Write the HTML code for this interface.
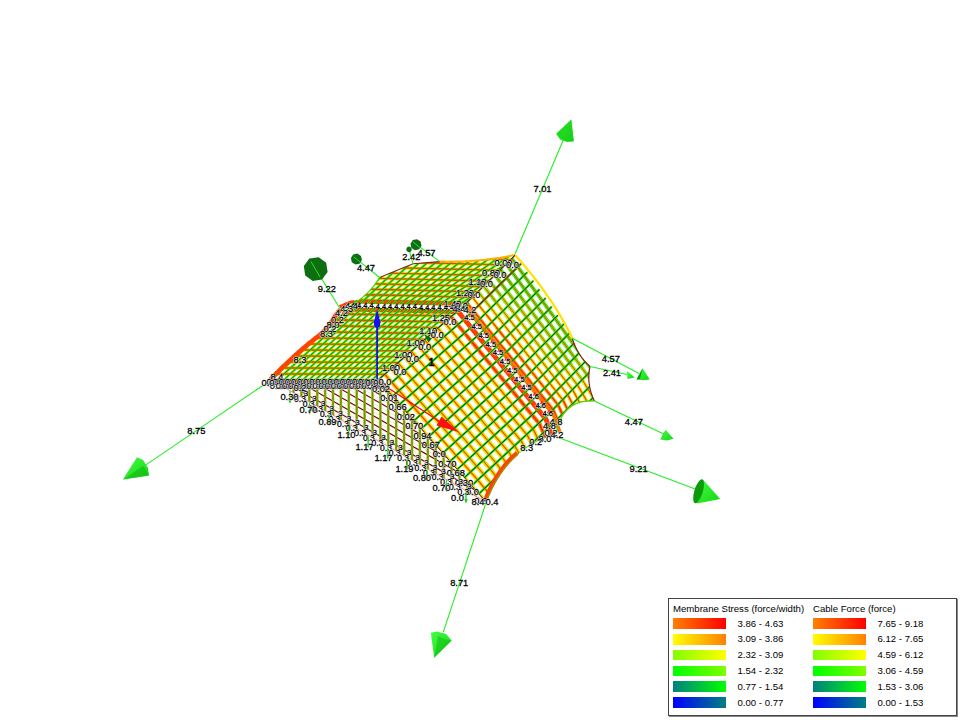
<!DOCTYPE html>
<html><head><meta charset="utf-8"><title>Membrane stress</title>
<style>
html,body{margin:0;padding:0;background:#fff;}
body{width:960px;height:720px;position:relative;overflow:hidden;font-family:"Liberation Sans",sans-serif;}
.leg{position:absolute;left:668px;top:598px;width:287px;height:116px;border:1px solid #444;background:#fff;box-shadow:1px 1px 0 #888;font-size:9.6px;color:#000;}
.leg .t{position:absolute;top:4px;white-space:nowrap;line-height:12px;}
.leg .sw{position:absolute;width:53.5px;height:10.8px;}
.leg .r{position:absolute;white-space:nowrap;line-height:12px;}
</style></head><body>
<svg width="960" height="720" viewBox="0 0 960 720" style="position:absolute;left:0;top:0" font-family="Liberation Sans, sans-serif" font-size="9.3">
<rect width="960" height="720" fill="#fff"/>
<clipPath id="cp2"><polygon points="271.0,380.0 378.0,380.0 461.0,308.0 461.0,308.0 459.5,308.0 457.9,307.9 456.4,307.9 454.9,307.9 453.4,307.8 451.9,307.8 450.3,307.7 448.8,307.7 447.3,307.7 445.8,307.6 444.2,307.6 442.7,307.6 441.2,307.5 439.6,307.5 438.1,307.4 436.6,307.4 435.1,307.4 433.6,307.3 432.0,307.3 430.5,307.2 429.0,307.2 427.4,307.2 425.9,307.1 424.4,307.1 422.9,307.1 421.4,307.0 419.8,307.0 418.3,306.9 416.8,306.9 415.2,306.9 413.7,306.8 412.2,306.8 410.7,306.8 409.1,306.7 407.6,306.7 406.1,306.6 404.6,306.6 403.1,306.6 401.5,306.5 400.0,306.5 398.5,306.5 397.0,306.4 395.5,306.4 394.0,306.4 392.5,306.3 391.0,306.3 389.5,306.3 388.0,306.2 386.5,306.2 385.0,306.2 383.5,306.2 382.0,306.1 380.5,306.1 379.0,306.1 377.5,306.0 376.0,306.0 374.5,306.0 373.0,305.9 371.5,305.9 370.0,305.9 368.5,305.8 367.0,305.8 365.5,305.8 364.0,305.8 362.5,305.7 361.0,305.7 359.5,305.7 358.0,305.6 356.5,305.6 355.0,305.6 353.5,305.5 352.0,305.5 350.4,306.1 348.9,306.8 347.3,307.4 345.7,308.1 344.1,308.7 342.6,309.4 341.0,310.0 341.0,310.0 340.6,310.5 340.1,311.1 339.5,311.9 338.8,312.7 338.0,313.6 337.3,314.5 336.5,315.5 335.8,316.5 335.1,317.5 334.5,318.6 333.8,319.7 333.1,320.9 332.4,322.0 331.6,323.2 330.8,324.4 330.0,325.5 329.1,326.6 328.2,327.7 327.3,328.8 326.3,329.9 325.2,331.0 324.1,332.1 323.0,333.2 321.7,334.4 320.3,335.6 318.8,336.8 317.2,338.1 315.6,339.3 313.9,340.6 312.2,341.9 310.6,343.2 309.0,344.5 307.4,345.8 305.9,347.1 304.4,348.4 302.9,349.7 301.3,351.1 299.8,352.4 298.3,353.8 296.7,355.2 295.1,356.6 293.6,358.0 292.0,359.5 290.4,361.0 288.8,362.4 287.2,363.9 285.6,365.5 284.0,367.0 282.3,368.7 280.5,370.5 278.6,372.4 276.7,374.2 274.9,376.0 273.3,377.6 272.0,379.0 271.0,380.0"/></clipPath>
<g clip-path="url(#cp2)" stroke-linecap="butt">
<polyline points="271.0,380.0 284.8,380.0" fill="none" stroke="#ffe900" stroke-width="3.5" />
<polyline points="271.0,380.0 284.8,380.0" fill="none" stroke="#ff8600" stroke-width="1.47" />
<polyline points="283.9,380.0 298.2,380.0" fill="none" stroke="#ffe600" stroke-width="3.5" />
<polyline points="283.9,380.0 298.2,380.0" fill="none" stroke="#ff8400" stroke-width="1.47" />
<polyline points="297.3,380.0 311.6,380.0" fill="none" stroke="#ffe500" stroke-width="3.5" />
<polyline points="297.3,380.0 311.6,380.0" fill="none" stroke="#ff8300" stroke-width="1.47" />
<polyline points="310.7,380.0 324.9,380.0" fill="none" stroke="#ffe500" stroke-width="3.5" />
<polyline points="310.7,380.0 324.9,380.0" fill="none" stroke="#ff8300" stroke-width="1.47" />
<polyline points="324.1,380.0 338.3,380.0" fill="none" stroke="#ffe800" stroke-width="3.5" />
<polyline points="324.1,380.0 338.3,380.0" fill="none" stroke="#ff8600" stroke-width="1.47" />
<polyline points="337.4,380.0 351.7,380.0" fill="none" stroke="#ffec00" stroke-width="3.5" />
<polyline points="337.4,380.0 351.7,380.0" fill="none" stroke="#ff8a00" stroke-width="1.47" />
<polyline points="350.8,380.0 365.1,380.0" fill="none" stroke="#fbee00" stroke-width="3.5" />
<polyline points="350.8,380.0 365.1,380.0" fill="none" stroke="#ff9100" stroke-width="1.47" />
<polyline points="364.2,380.0 378.0,380.0" fill="none" stroke="#f4ee00" stroke-width="3.5" />
<polyline points="364.2,380.0 378.0,380.0" fill="none" stroke="#ff9900" stroke-width="1.47" />
<polyline points="271.0,380.0 284.4,380.0 297.8,380.0 311.1,380.0 324.5,380.0 337.9,380.0 351.2,380.0 364.6,380.0 378.0,380.0" fill="none" stroke="#f02800" stroke-width="0.7" />
<polyline points="277.5,374.0 291.4,374.0" fill="none" stroke="#ffdb00" stroke-width="3.5" />
<polyline points="277.5,374.0 291.4,374.0" fill="none" stroke="#ff7900" stroke-width="1.47" />
<polyline points="290.5,374.0 304.8,374.0" fill="none" stroke="#ffdb00" stroke-width="3.5" />
<polyline points="290.5,374.0 304.8,374.0" fill="none" stroke="#ff7900" stroke-width="1.47" />
<polyline points="303.9,374.0 318.1,374.1" fill="none" stroke="#ffdd00" stroke-width="3.5" />
<polyline points="303.9,374.0 318.1,374.1" fill="none" stroke="#ff7b00" stroke-width="1.47" />
<polyline points="317.3,374.1 331.5,374.1" fill="none" stroke="#ffe200" stroke-width="3.5" />
<polyline points="317.3,374.1 331.5,374.1" fill="none" stroke="#ff7f00" stroke-width="1.47" />
<polyline points="330.7,374.1 344.9,374.1" fill="none" stroke="#ffe800" stroke-width="3.5" />
<polyline points="330.7,374.1 344.9,374.1" fill="none" stroke="#ff8600" stroke-width="1.47" />
<polyline points="344.1,374.1 358.3,374.1" fill="none" stroke="#feee00" stroke-width="3.5" />
<polyline points="344.1,374.1 358.3,374.1" fill="none" stroke="#ff8e00" stroke-width="1.47" />
<polyline points="357.5,374.1 371.7,374.2" fill="none" stroke="#f7ee00" stroke-width="3.5" />
<polyline points="357.5,374.1 371.7,374.2" fill="none" stroke="#ff9600" stroke-width="1.47" />
<polyline points="370.9,374.2 384.7,374.2" fill="none" stroke="#f0ee00" stroke-width="3.5" />
<polyline points="370.9,374.2 384.7,374.2" fill="none" stroke="#ff9e00" stroke-width="1.47" />
<polyline points="277.5,374.0 290.9,374.0 304.3,374.0 317.7,374.1 331.1,374.1 344.5,374.1 357.9,374.1 371.3,374.2 384.7,374.2" fill="none" stroke="#f02800" stroke-width="0.7" />
<polyline points="284.1,368.0 297.9,368.0" fill="none" stroke="#ffd400" stroke-width="3.5" />
<polyline points="284.1,368.0 297.9,368.0" fill="none" stroke="#ff7200" stroke-width="1.47" />
<polyline points="297.1,368.0 311.3,368.1" fill="none" stroke="#ffd800" stroke-width="3.5" />
<polyline points="297.1,368.0 311.3,368.1" fill="none" stroke="#ff7600" stroke-width="1.47" />
<polyline points="310.5,368.1 324.7,368.1" fill="none" stroke="#ffde00" stroke-width="3.5" />
<polyline points="310.5,368.1 324.7,368.1" fill="none" stroke="#ff7c00" stroke-width="1.47" />
<polyline points="323.9,368.1 338.2,368.2" fill="none" stroke="#ffe500" stroke-width="3.5" />
<polyline points="323.9,368.1 338.2,368.2" fill="none" stroke="#ff8300" stroke-width="1.47" />
<polyline points="337.3,368.2 351.6,368.2" fill="none" stroke="#ffee00" stroke-width="3.5" />
<polyline points="337.3,368.2 351.6,368.2" fill="none" stroke="#ff8b00" stroke-width="1.47" />
<polyline points="350.7,368.2 365.0,368.3" fill="none" stroke="#f9ee00" stroke-width="3.5" />
<polyline points="350.7,368.2 365.0,368.3" fill="none" stroke="#ff9400" stroke-width="1.47" />
<polyline points="364.1,368.3 378.4,368.3" fill="none" stroke="#f2ee00" stroke-width="3.5" />
<polyline points="364.1,368.3 378.4,368.3" fill="none" stroke="#ff9b00" stroke-width="1.47" />
<polyline points="377.5,368.3 391.4,368.4" fill="none" stroke="#edef00" stroke-width="3.5" />
<polyline points="377.5,368.3 391.4,368.4" fill="none" stroke="#ffa100" stroke-width="1.47" />
<polyline points="284.1,368.0 297.5,368.0 310.9,368.1 324.3,368.1 337.7,368.2 351.1,368.2 364.6,368.3 378.0,368.3 391.4,368.4" fill="none" stroke="#f02800" stroke-width="0.7" />
<polyline points="290.6,362.0 304.5,362.0" fill="none" stroke="#ffd500" stroke-width="3.5" />
<polyline points="290.6,362.0 304.5,362.0" fill="none" stroke="#ff7200" stroke-width="1.47" />
<polyline points="303.6,362.0 317.9,362.1" fill="none" stroke="#ffdc00" stroke-width="3.5" />
<polyline points="303.6,362.0 317.9,362.1" fill="none" stroke="#ff7a00" stroke-width="1.47" />
<polyline points="317.0,362.1 331.3,362.2" fill="none" stroke="#ffe400" stroke-width="3.5" />
<polyline points="317.0,362.1 331.3,362.2" fill="none" stroke="#ff8200" stroke-width="1.47" />
<polyline points="330.5,362.2 344.8,362.3" fill="none" stroke="#ffec00" stroke-width="3.5" />
<polyline points="330.5,362.2 344.8,362.3" fill="none" stroke="#ff8a00" stroke-width="1.47" />
<polyline points="343.9,362.3 358.2,362.3" fill="none" stroke="#fbee00" stroke-width="3.5" />
<polyline points="343.9,362.3 358.2,362.3" fill="none" stroke="#ff9100" stroke-width="1.47" />
<polyline points="357.3,362.3 371.6,362.4" fill="none" stroke="#f6ee00" stroke-width="3.5" />
<polyline points="357.3,362.3 371.6,362.4" fill="none" stroke="#ff9700" stroke-width="1.47" />
<polyline points="370.8,362.4 385.1,362.5" fill="none" stroke="#f3ee00" stroke-width="3.5" />
<polyline points="370.8,362.4 385.1,362.5" fill="none" stroke="#ff9b00" stroke-width="1.47" />
<polyline points="384.2,362.5 398.1,362.6" fill="none" stroke="#f1ee00" stroke-width="3.5" />
<polyline points="384.2,362.5 398.1,362.6" fill="none" stroke="#ff9c00" stroke-width="1.47" />
<polyline points="290.6,362.0 304.0,362.0 317.5,362.1 330.9,362.2 344.3,362.3 357.8,362.3 371.2,362.4 384.6,362.5 398.1,362.6" fill="none" stroke="#f02800" stroke-width="0.7" />
<polyline points="297.1,356.0 311.0,356.1" fill="none" stroke="#ffdb00" stroke-width="3.5" />
<polyline points="297.1,356.0 311.0,356.1" fill="none" stroke="#ff7900" stroke-width="1.47" />
<polyline points="310.2,356.1 324.5,356.2" fill="none" stroke="#ffe300" stroke-width="3.5" />
<polyline points="310.2,356.1 324.5,356.2" fill="none" stroke="#ff8100" stroke-width="1.47" />
<polyline points="323.6,356.1 337.9,356.2" fill="none" stroke="#ffea00" stroke-width="3.5" />
<polyline points="323.6,356.1 337.9,356.2" fill="none" stroke="#ff8800" stroke-width="1.47" />
<polyline points="337.1,356.2 351.4,356.3" fill="none" stroke="#feee00" stroke-width="3.5" />
<polyline points="337.1,356.2 351.4,356.3" fill="none" stroke="#ff8d00" stroke-width="1.47" />
<polyline points="350.5,356.3 364.8,356.5" fill="none" stroke="#faee00" stroke-width="3.5" />
<polyline points="350.5,356.3 364.8,356.5" fill="none" stroke="#ff9100" stroke-width="1.47" />
<polyline points="364.0,356.4 378.3,356.6" fill="none" stroke="#f9ee00" stroke-width="3.5" />
<polyline points="364.0,356.4 378.3,356.6" fill="none" stroke="#ff9300" stroke-width="1.47" />
<polyline points="377.4,356.6 391.7,356.7" fill="none" stroke="#faee00" stroke-width="3.5" />
<polyline points="377.4,356.6 391.7,356.7" fill="none" stroke="#ff9200" stroke-width="1.47" />
<polyline points="390.9,356.7 404.8,356.8" fill="none" stroke="#fbee00" stroke-width="3.5" />
<polyline points="390.9,356.7 404.8,356.8" fill="none" stroke="#ff9000" stroke-width="1.47" />
<polyline points="297.1,356.0 310.6,356.1 324.0,356.2 337.5,356.2 351.0,356.3 364.4,356.4 377.9,356.6 391.3,356.7 404.8,356.8" fill="none" stroke="#f02800" stroke-width="0.7" />
<polyline points="303.7,350.0 317.6,350.1" fill="none" stroke="#ffe200" stroke-width="3.5" />
<polyline points="303.7,350.0 317.6,350.1" fill="none" stroke="#ff8000" stroke-width="1.47" />
<polyline points="316.7,350.1 331.0,350.2" fill="none" stroke="#ffe700" stroke-width="3.5" />
<polyline points="316.7,350.1 331.0,350.2" fill="none" stroke="#ff8500" stroke-width="1.47" />
<polyline points="330.2,350.2 344.5,350.3" fill="none" stroke="#ffeb00" stroke-width="3.5" />
<polyline points="330.2,350.2 344.5,350.3" fill="none" stroke="#ff8900" stroke-width="1.47" />
<polyline points="343.7,350.3 358.0,350.4" fill="none" stroke="#ffed00" stroke-width="3.5" />
<polyline points="343.7,350.3 358.0,350.4" fill="none" stroke="#ff8a00" stroke-width="1.47" />
<polyline points="357.1,350.4 371.5,350.6" fill="none" stroke="#ffec00" stroke-width="3.5" />
<polyline points="357.1,350.4 371.5,350.6" fill="none" stroke="#ff8a00" stroke-width="1.47" />
<polyline points="370.6,350.6 384.9,350.7" fill="none" stroke="#ffe900" stroke-width="3.5" />
<polyline points="370.6,350.6 384.9,350.7" fill="none" stroke="#ff8700" stroke-width="1.47" />
<polyline points="384.1,350.7 398.4,350.8" fill="none" stroke="#ffe600" stroke-width="3.5" />
<polyline points="384.1,350.7 398.4,350.8" fill="none" stroke="#ff8400" stroke-width="1.47" />
<polyline points="397.6,350.8 411.5,351.0" fill="none" stroke="#ffe200" stroke-width="3.5" />
<polyline points="397.6,350.8 411.5,351.0" fill="none" stroke="#ff8000" stroke-width="1.47" />
<polyline points="303.7,350.0 317.1,350.1 330.6,350.2 344.1,350.3 357.6,350.4 371.0,350.6 384.5,350.7 398.0,350.8 411.5,351.0" fill="none" stroke="#f02800" stroke-width="0.7" />
<polyline points="310.2,344.0 324.1,344.1" fill="none" stroke="#ffe400" stroke-width="3.5" />
<polyline points="310.2,344.0 324.1,344.1" fill="none" stroke="#ff8100" stroke-width="1.47" />
<polyline points="323.3,344.1 337.6,344.2" fill="none" stroke="#ffe500" stroke-width="3.5" />
<polyline points="323.3,344.1 337.6,344.2" fill="none" stroke="#ff8300" stroke-width="1.47" />
<polyline points="336.8,344.2 351.1,344.4" fill="none" stroke="#ffe400" stroke-width="3.5" />
<polyline points="336.8,344.2 351.1,344.4" fill="none" stroke="#ff8200" stroke-width="1.47" />
<polyline points="350.3,344.4 364.6,344.5" fill="none" stroke="#ffe200" stroke-width="3.5" />
<polyline points="350.3,344.4 364.6,344.5" fill="none" stroke="#ff7f00" stroke-width="1.47" />
<polyline points="363.7,344.5 378.1,344.7" fill="none" stroke="#ffde00" stroke-width="3.5" />
<polyline points="363.7,344.5 378.1,344.7" fill="none" stroke="#ff7c00" stroke-width="1.47" />
<polyline points="377.2,344.7 391.6,344.8" fill="none" stroke="#ffda00" stroke-width="3.5" />
<polyline points="377.2,344.7 391.6,344.8" fill="none" stroke="#ff7700" stroke-width="1.47" />
<polyline points="390.7,344.8 405.1,345.0" fill="none" stroke="#ffd500" stroke-width="3.5" />
<polyline points="390.7,344.8 405.1,345.0" fill="none" stroke="#ff7300" stroke-width="1.47" />
<polyline points="404.2,345.0 418.2,345.2" fill="none" stroke="#ffd300" stroke-width="3.5" />
<polyline points="404.2,345.0 418.2,345.2" fill="none" stroke="#ff7000" stroke-width="1.47" />
<polyline points="310.2,344.0 323.7,344.1 337.2,344.2 350.7,344.4 364.2,344.5 377.7,344.7 391.2,344.8 404.7,345.0 418.2,345.2" fill="none" stroke="#f02800" stroke-width="0.7" />
<polyline points="316.7,337.9 330.7,338.1" fill="none" stroke="#ffdd00" stroke-width="3.5" />
<polyline points="316.7,337.9 330.7,338.1" fill="none" stroke="#ff7b00" stroke-width="1.47" />
<polyline points="329.8,338.1 344.2,338.3" fill="none" stroke="#ffdb00" stroke-width="3.5" />
<polyline points="329.8,338.1 344.2,338.3" fill="none" stroke="#ff7800" stroke-width="1.47" />
<polyline points="343.3,338.3 357.7,338.4" fill="none" stroke="#ffd700" stroke-width="3.5" />
<polyline points="343.3,338.3 357.7,338.4" fill="none" stroke="#ff7400" stroke-width="1.47" />
<polyline points="356.8,338.4 371.2,338.6" fill="none" stroke="#ffd200" stroke-width="3.5" />
<polyline points="356.8,338.4 371.2,338.6" fill="none" stroke="#ff7000" stroke-width="1.47" />
<polyline points="370.4,338.6 384.7,338.8" fill="none" stroke="#ffce00" stroke-width="3.5" />
<polyline points="370.4,338.6 384.7,338.8" fill="none" stroke="#ff6b00" stroke-width="1.47" />
<polyline points="383.9,338.8 398.3,339.0" fill="none" stroke="#ffcb00" stroke-width="3.5" />
<polyline points="383.9,338.8 398.3,339.0" fill="none" stroke="#ff6800" stroke-width="1.47" />
<polyline points="397.4,339.0 411.8,339.2" fill="none" stroke="#ffc900" stroke-width="3.5" />
<polyline points="397.4,339.0 411.8,339.2" fill="none" stroke="#ff6600" stroke-width="1.47" />
<polyline points="410.9,339.2 424.9,339.4" fill="none" stroke="#ffc900" stroke-width="3.5" />
<polyline points="410.9,339.2 424.9,339.4" fill="none" stroke="#ff6700" stroke-width="1.47" />
<polyline points="316.7,337.9 330.2,338.1 343.8,338.3 357.3,338.4 370.8,338.6 384.3,338.8 397.8,339.0 411.3,339.2 424.9,339.4" fill="none" stroke="#f02800" stroke-width="0.7" />
<polyline points="323.3,331.9 337.2,332.1" fill="none" stroke="#ffd100" stroke-width="3.5" />
<polyline points="323.3,331.9 337.2,332.1" fill="none" stroke="#ff6e00" stroke-width="1.47" />
<polyline points="336.4,332.1 350.8,332.3" fill="none" stroke="#ffcc00" stroke-width="3.5" />
<polyline points="336.4,332.1 350.8,332.3" fill="none" stroke="#ff6900" stroke-width="1.47" />
<polyline points="349.9,332.3 364.3,332.5" fill="none" stroke="#ffc700" stroke-width="3.5" />
<polyline points="349.9,332.3 364.3,332.5" fill="none" stroke="#ff6500" stroke-width="1.47" />
<polyline points="363.4,332.5 377.8,332.7" fill="none" stroke="#ffc400" stroke-width="3.5" />
<polyline points="363.4,332.5 377.8,332.7" fill="none" stroke="#ff6100" stroke-width="1.47" />
<polyline points="377.0,332.7 391.4,332.9" fill="none" stroke="#ffc200" stroke-width="3.5" />
<polyline points="377.0,332.7 391.4,332.9" fill="none" stroke="#ff5f00" stroke-width="1.47" />
<polyline points="390.5,332.9 404.9,333.1" fill="none" stroke="#ffc200" stroke-width="3.5" />
<polyline points="390.5,332.9 404.9,333.1" fill="none" stroke="#ff5f00" stroke-width="1.47" />
<polyline points="404.0,333.1 418.4,333.3" fill="none" stroke="#ffc400" stroke-width="3.5" />
<polyline points="404.0,333.1 418.4,333.3" fill="none" stroke="#ff6100" stroke-width="1.47" />
<polyline points="417.6,333.3 431.5,333.5" fill="none" stroke="#ffc800" stroke-width="3.5" />
<polyline points="417.6,333.3 431.5,333.5" fill="none" stroke="#ff6500" stroke-width="1.47" />
<polyline points="323.3,331.9 336.8,332.1 350.3,332.3 363.9,332.5 377.4,332.7 390.9,332.9 404.5,333.1 418.0,333.3 431.5,333.5" fill="none" stroke="#f02800" stroke-width="0.7" />
<polyline points="329.8,325.9 343.8,326.1" fill="none" stroke="#ffc200" stroke-width="3.5" />
<polyline points="329.8,325.9 343.8,326.1" fill="none" stroke="#ff5f00" stroke-width="1.47" />
<polyline points="342.9,326.1 357.3,326.3" fill="none" stroke="#ffbe00" stroke-width="3.5" />
<polyline points="342.9,326.1 357.3,326.3" fill="none" stroke="#ff5b00" stroke-width="1.47" />
<polyline points="356.5,326.3 370.9,326.6" fill="none" stroke="#ffbb00" stroke-width="3.5" />
<polyline points="356.5,326.3 370.9,326.6" fill="none" stroke="#ff5800" stroke-width="1.47" />
<polyline points="370.0,326.5 384.5,326.8" fill="none" stroke="#ffbb00" stroke-width="3.5" />
<polyline points="370.0,326.5 384.5,326.8" fill="none" stroke="#ff5800" stroke-width="1.47" />
<polyline points="383.6,326.8 398.0,327.0" fill="none" stroke="#ffbd00" stroke-width="3.5" />
<polyline points="383.6,326.8 398.0,327.0" fill="none" stroke="#ff5a00" stroke-width="1.47" />
<polyline points="397.1,327.0 411.6,327.3" fill="none" stroke="#ffc100" stroke-width="3.5" />
<polyline points="397.1,327.0 411.6,327.3" fill="none" stroke="#ff5e00" stroke-width="1.47" />
<polyline points="410.7,327.2 425.1,327.5" fill="none" stroke="#ffc600" stroke-width="3.5" />
<polyline points="410.7,327.2 425.1,327.5" fill="none" stroke="#ff6300" stroke-width="1.47" />
<polyline points="424.3,327.5 438.2,327.7" fill="none" stroke="#ffcd00" stroke-width="3.5" />
<polyline points="424.3,327.5 438.2,327.7" fill="none" stroke="#ff6a00" stroke-width="1.47" />
<polyline points="329.8,325.9 343.3,326.1 356.9,326.3 370.5,326.5 384.0,326.8 397.6,327.0 411.1,327.3 424.7,327.5 438.2,327.7" fill="none" stroke="#f02800" stroke-width="0.7" />
<polyline points="336.3,319.9 350.3,320.2" fill="none" stroke="#ffb600" stroke-width="3.5" />
<polyline points="336.3,319.9 350.3,320.2" fill="none" stroke="#ff5300" stroke-width="1.47" />
<polyline points="349.5,320.1 363.9,320.4" fill="none" stroke="#ffb500" stroke-width="3.5" />
<polyline points="349.5,320.1 363.9,320.4" fill="none" stroke="#ff5200" stroke-width="1.47" />
<polyline points="363.0,320.4 377.5,320.6" fill="none" stroke="#ffb700" stroke-width="3.5" />
<polyline points="363.0,320.4 377.5,320.6" fill="none" stroke="#ff5400" stroke-width="1.47" />
<polyline points="376.6,320.6 391.1,320.9" fill="none" stroke="#ffba00" stroke-width="3.5" />
<polyline points="376.6,320.6 391.1,320.9" fill="none" stroke="#ff5700" stroke-width="1.47" />
<polyline points="390.2,320.8 404.6,321.1" fill="none" stroke="#ffbf00" stroke-width="3.5" />
<polyline points="390.2,320.8 404.6,321.1" fill="none" stroke="#ff5d00" stroke-width="1.47" />
<polyline points="403.8,321.1 418.2,321.4" fill="none" stroke="#ffc600" stroke-width="3.5" />
<polyline points="403.8,321.1 418.2,321.4" fill="none" stroke="#ff6300" stroke-width="1.47" />
<polyline points="417.3,321.4 431.8,321.7" fill="none" stroke="#ffcc00" stroke-width="3.5" />
<polyline points="417.3,321.4 431.8,321.7" fill="none" stroke="#ff6900" stroke-width="1.47" />
<polyline points="430.9,321.7 444.9,321.9" fill="none" stroke="#ffd200" stroke-width="3.5" />
<polyline points="430.9,321.7 444.9,321.9" fill="none" stroke="#ff6f00" stroke-width="1.47" />
<polyline points="336.3,319.9 349.9,320.1 363.5,320.4 377.1,320.6 390.6,320.9 404.2,321.1 417.8,321.4 431.4,321.7 444.9,321.9" fill="none" stroke="#f02800" stroke-width="0.7" />
<polyline points="342.9,313.9 356.9,314.2" fill="none" stroke="#ffb100" stroke-width="3.5" />
<polyline points="342.9,313.9 356.9,314.2" fill="none" stroke="#ff4e00" stroke-width="1.47" />
<polyline points="356.0,314.2 370.5,314.4" fill="none" stroke="#ffb500" stroke-width="3.5" />
<polyline points="356.0,314.2 370.5,314.4" fill="none" stroke="#ff5200" stroke-width="1.47" />
<polyline points="369.6,314.4 384.1,314.7" fill="none" stroke="#ffba00" stroke-width="3.5" />
<polyline points="369.6,314.4 384.1,314.7" fill="none" stroke="#ff5700" stroke-width="1.47" />
<polyline points="383.2,314.7 397.7,314.9" fill="none" stroke="#ffbf00" stroke-width="3.5" />
<polyline points="383.2,314.7 397.7,314.9" fill="none" stroke="#ff5d00" stroke-width="1.47" />
<polyline points="396.8,314.9 411.3,315.2" fill="none" stroke="#ffc600" stroke-width="3.5" />
<polyline points="396.8,314.9 411.3,315.2" fill="none" stroke="#ff6300" stroke-width="1.47" />
<polyline points="410.4,315.2 424.9,315.5" fill="none" stroke="#ffcb00" stroke-width="3.5" />
<polyline points="410.4,315.2 424.9,315.5" fill="none" stroke="#ff6900" stroke-width="1.47" />
<polyline points="424.0,315.5 438.5,315.8" fill="none" stroke="#ffd000" stroke-width="3.5" />
<polyline points="424.0,315.5 438.5,315.8" fill="none" stroke="#ff6d00" stroke-width="1.47" />
<polyline points="437.6,315.8 451.6,316.1" fill="none" stroke="#ffd200" stroke-width="3.5" />
<polyline points="437.6,315.8 451.6,316.1" fill="none" stroke="#ff7000" stroke-width="1.47" />
<polyline points="342.9,313.9 356.5,314.2 370.0,314.4 383.6,314.7 397.2,314.9 410.8,315.2 424.4,315.5 438.0,315.8 451.6,316.1" fill="none" stroke="#f02800" stroke-width="0.7" />
<polyline points="349.4,307.9 363.4,308.2" fill="none" stroke="#ffb500" stroke-width="3.5" />
<polyline points="349.4,307.9 363.4,308.2" fill="none" stroke="#ff5200" stroke-width="1.47" />
<polyline points="362.6,308.2 377.1,308.5" fill="none" stroke="#ffba00" stroke-width="3.5" />
<polyline points="362.6,308.2 377.1,308.5" fill="none" stroke="#ff5700" stroke-width="1.47" />
<polyline points="376.2,308.4 390.7,308.7" fill="none" stroke="#ffc000" stroke-width="3.5" />
<polyline points="376.2,308.4 390.7,308.7" fill="none" stroke="#ff5d00" stroke-width="1.47" />
<polyline points="389.8,308.7 404.3,309.0" fill="none" stroke="#ffc600" stroke-width="3.5" />
<polyline points="389.8,308.7 404.3,309.0" fill="none" stroke="#ff6300" stroke-width="1.47" />
<polyline points="403.4,309.0 417.9,309.4" fill="none" stroke="#ffca00" stroke-width="3.5" />
<polyline points="403.4,309.0 417.9,309.4" fill="none" stroke="#ff6700" stroke-width="1.47" />
<polyline points="417.0,309.3 431.5,309.7" fill="none" stroke="#ffcc00" stroke-width="3.5" />
<polyline points="417.0,309.3 431.5,309.7" fill="none" stroke="#ff6a00" stroke-width="1.47" />
<polyline points="430.7,309.7 445.1,310.0" fill="none" stroke="#ffcd00" stroke-width="3.5" />
<polyline points="430.7,309.7 445.1,310.0" fill="none" stroke="#ff6a00" stroke-width="1.47" />
<polyline points="444.3,310.0 458.3,310.3" fill="none" stroke="#ffcb00" stroke-width="3.5" />
<polyline points="444.3,310.0 458.3,310.3" fill="none" stroke="#ff6800" stroke-width="1.47" />
<polyline points="349.4,307.9 363.0,308.2 376.6,308.5 390.2,308.7 403.9,309.0 417.5,309.3 431.1,309.7 444.7,310.0 458.3,310.3" fill="none" stroke="#f02800" stroke-width="0.7" />
<polyline points="271.0,380.0 311.5,342.8 352.0,305.5" fill="none" stroke="#2cf800" stroke-width="2.3" />
<polyline points="271.0,380.0 311.5,342.8 352.0,305.5" fill="none" stroke="#485800" stroke-width="0.75" />
<polyline points="277.3,380.0 317.9,342.8 358.4,305.6" fill="none" stroke="#2cf800" stroke-width="2.3" />
<polyline points="277.3,380.0 317.9,342.8 358.4,305.6" fill="none" stroke="#485800" stroke-width="0.75" />
<polyline points="283.6,380.0 324.2,342.9 364.8,305.8" fill="none" stroke="#2cf800" stroke-width="2.3" />
<polyline points="283.6,380.0 324.2,342.9 364.8,305.8" fill="none" stroke="#485800" stroke-width="0.75" />
<polyline points="289.9,380.0 330.6,343.0 371.2,305.9" fill="none" stroke="#2cf800" stroke-width="2.3" />
<polyline points="289.9,380.0 330.6,343.0 371.2,305.9" fill="none" stroke="#485800" stroke-width="0.75" />
<polyline points="296.2,380.0 336.9,343.0 377.6,306.0" fill="none" stroke="#2cf800" stroke-width="2.3" />
<polyline points="296.2,380.0 336.9,343.0 377.6,306.0" fill="none" stroke="#485800" stroke-width="0.75" />
<polyline points="302.5,380.0 343.3,343.1 384.1,306.2" fill="none" stroke="#2cf800" stroke-width="2.3" />
<polyline points="302.5,380.0 343.3,343.1 384.1,306.2" fill="none" stroke="#485800" stroke-width="0.75" />
<polyline points="308.8,380.0 349.6,343.2 390.5,306.3" fill="none" stroke="#2cf800" stroke-width="2.3" />
<polyline points="308.8,380.0 349.6,343.2 390.5,306.3" fill="none" stroke="#485800" stroke-width="0.75" />
<polyline points="315.1,380.0 356.0,343.2 396.9,306.4" fill="none" stroke="#2cf800" stroke-width="2.3" />
<polyline points="315.1,380.0 356.0,343.2 396.9,306.4" fill="none" stroke="#485800" stroke-width="0.75" />
<polyline points="321.4,380.0 362.3,343.3 403.3,306.6" fill="none" stroke="#2cf800" stroke-width="2.3" />
<polyline points="321.4,380.0 362.3,343.3 403.3,306.6" fill="none" stroke="#485800" stroke-width="0.75" />
<polyline points="327.6,380.0 368.7,343.4 409.7,306.7" fill="none" stroke="#2cf800" stroke-width="2.3" />
<polyline points="327.6,380.0 368.7,343.4 409.7,306.7" fill="none" stroke="#485800" stroke-width="0.75" />
<polyline points="333.9,380.0 375.0,343.4 416.1,306.9" fill="none" stroke="#2cf800" stroke-width="2.3" />
<polyline points="333.9,380.0 375.0,343.4 416.1,306.9" fill="none" stroke="#485800" stroke-width="0.75" />
<polyline points="340.2,380.0 381.4,343.5 422.5,307.1" fill="none" stroke="#2cf800" stroke-width="2.3" />
<polyline points="340.2,380.0 381.4,343.5 422.5,307.1" fill="none" stroke="#485800" stroke-width="0.75" />
<polyline points="346.5,380.0 387.7,343.6 428.9,307.2" fill="none" stroke="#2cf800" stroke-width="2.3" />
<polyline points="346.5,380.0 387.7,343.6 428.9,307.2" fill="none" stroke="#485800" stroke-width="0.75" />
<polyline points="352.8,380.0 394.1,343.7 435.4,307.4" fill="none" stroke="#2cf800" stroke-width="2.3" />
<polyline points="352.8,380.0 394.1,343.7 435.4,307.4" fill="none" stroke="#485800" stroke-width="0.75" />
<polyline points="359.1,380.0 400.4,343.8 441.8,307.5" fill="none" stroke="#2cf800" stroke-width="2.3" />
<polyline points="359.1,380.0 400.4,343.8 441.8,307.5" fill="none" stroke="#485800" stroke-width="0.75" />
<polyline points="365.4,380.0 406.8,343.8 448.2,307.7" fill="none" stroke="#2cf800" stroke-width="2.3" />
<polyline points="365.4,380.0 406.8,343.8 448.2,307.7" fill="none" stroke="#485800" stroke-width="0.75" />
<polyline points="371.7,380.0 413.1,343.9 454.6,307.8" fill="none" stroke="#2cf800" stroke-width="2.3" />
<polyline points="371.7,380.0 413.1,343.9 454.6,307.8" fill="none" stroke="#485800" stroke-width="0.75" />
<polyline points="378.0,380.0 419.5,344.0 461.0,308.0" fill="none" stroke="#2cf800" stroke-width="2.3" />
<polyline points="378.0,380.0 419.5,344.0 461.0,308.0" fill="none" stroke="#485800" stroke-width="0.75" />
<polyline points="271.0,380.0 284.4,380.0 297.8,380.0 311.1,380.0 324.5,380.0 337.9,380.0 351.2,380.0 364.6,380.0 378.0,380.0" fill="none" stroke="#f02800" stroke-width="0.8999999999999999" opacity="0.6"/>
<polyline points="277.5,374.0 290.9,374.0 304.3,374.0 317.7,374.1 331.1,374.1 344.5,374.1 357.9,374.1 371.3,374.2 384.7,374.2" fill="none" stroke="#f02800" stroke-width="0.8999999999999999" opacity="0.6"/>
<polyline points="284.1,368.0 297.5,368.0 310.9,368.1 324.3,368.1 337.7,368.2 351.1,368.2 364.6,368.3 378.0,368.3 391.4,368.4" fill="none" stroke="#f02800" stroke-width="0.8999999999999999" opacity="0.6"/>
<polyline points="290.6,362.0 304.0,362.0 317.5,362.1 330.9,362.2 344.3,362.3 357.8,362.3 371.2,362.4 384.6,362.5 398.1,362.6" fill="none" stroke="#f02800" stroke-width="0.8999999999999999" opacity="0.6"/>
<polyline points="297.1,356.0 310.6,356.1 324.0,356.2 337.5,356.2 351.0,356.3 364.4,356.4 377.9,356.6 391.3,356.7 404.8,356.8" fill="none" stroke="#f02800" stroke-width="0.8999999999999999" opacity="0.6"/>
<polyline points="303.7,350.0 317.1,350.1 330.6,350.2 344.1,350.3 357.6,350.4 371.0,350.6 384.5,350.7 398.0,350.8 411.5,351.0" fill="none" stroke="#f02800" stroke-width="0.8999999999999999" opacity="0.6"/>
<polyline points="310.2,344.0 323.7,344.1 337.2,344.2 350.7,344.4 364.2,344.5 377.7,344.7 391.2,344.8 404.7,345.0 418.2,345.2" fill="none" stroke="#f02800" stroke-width="0.8999999999999999" opacity="0.6"/>
<polyline points="316.7,337.9 330.2,338.1 343.8,338.3 357.3,338.4 370.8,338.6 384.3,338.8 397.8,339.0 411.3,339.2 424.9,339.4" fill="none" stroke="#f02800" stroke-width="0.8999999999999999" opacity="0.6"/>
<polyline points="323.3,331.9 336.8,332.1 350.3,332.3 363.9,332.5 377.4,332.7 390.9,332.9 404.5,333.1 418.0,333.3 431.5,333.5" fill="none" stroke="#f02800" stroke-width="0.8999999999999999" opacity="0.6"/>
<polyline points="329.8,325.9 343.3,326.1 356.9,326.3 370.5,326.5 384.0,326.8 397.6,327.0 411.1,327.3 424.7,327.5 438.2,327.7" fill="none" stroke="#f02800" stroke-width="0.8999999999999999" opacity="0.6"/>
<polyline points="336.3,319.9 349.9,320.1 363.5,320.4 377.1,320.6 390.6,320.9 404.2,321.1 417.8,321.4 431.4,321.7 444.9,321.9" fill="none" stroke="#f02800" stroke-width="0.8999999999999999" opacity="0.6"/>
<polyline points="342.9,313.9 356.5,314.2 370.0,314.4 383.6,314.7 397.2,314.9 410.8,315.2 424.4,315.5 438.0,315.8 451.6,316.1" fill="none" stroke="#f02800" stroke-width="0.8999999999999999" opacity="0.6"/>
<polyline points="349.4,307.9 363.0,308.2 376.6,308.5 390.2,308.7 403.9,309.0 417.5,309.3 431.1,309.7 444.7,310.0 458.3,310.3" fill="none" stroke="#f02800" stroke-width="0.8999999999999999" opacity="0.6"/>
</g>
<clipPath id="cp1"><polygon points="341.0,310.0 342.6,309.4 344.1,308.7 345.7,308.1 347.3,307.4 348.9,306.8 350.4,306.1 352.0,305.5 353.5,305.5 355.0,305.6 356.5,305.6 358.0,305.6 359.5,305.7 361.0,305.7 362.5,305.7 364.0,305.8 365.5,305.8 367.0,305.8 368.5,305.8 370.0,305.9 371.5,305.9 373.0,305.9 374.5,306.0 376.0,306.0 377.5,306.0 379.0,306.1 380.5,306.1 382.0,306.1 383.5,306.2 385.0,306.2 386.5,306.2 388.0,306.2 389.5,306.3 391.0,306.3 392.5,306.3 394.0,306.4 395.5,306.4 397.0,306.4 398.5,306.5 400.0,306.5 401.5,306.5 403.1,306.6 404.6,306.6 406.1,306.6 407.6,306.7 409.1,306.7 410.7,306.8 412.2,306.8 413.7,306.8 415.2,306.9 416.8,306.9 418.3,306.9 419.8,307.0 421.4,307.0 422.9,307.1 424.4,307.1 425.9,307.1 427.4,307.2 429.0,307.2 430.5,307.2 432.0,307.3 433.6,307.3 435.1,307.4 436.6,307.4 438.1,307.4 439.6,307.5 441.2,307.5 442.7,307.6 444.2,307.6 445.8,307.6 447.3,307.7 448.8,307.7 450.3,307.7 451.9,307.8 453.4,307.8 454.9,307.9 456.4,307.9 457.9,307.9 459.5,308.0 461.0,308.0 515.0,255.0 507.6,256.4 500.2,257.7 492.7,258.7 485.2,259.7 477.8,260.4 470.2,261.0 462.7,261.4 455.2,261.6 447.6,261.7 440.0,261.6 413.0,263.8 379.6,277.5 379.6,277.5 378.4,279.4 377.3,281.2 376.0,282.9 374.8,284.7 373.4,286.3 372.1,288.0 370.7,289.6 369.3,291.1 367.8,292.6 366.3,294.1 364.7,295.5 363.1,296.9 361.5,298.2 359.9,299.5 358.1,300.7 356.4,301.9 354.6,303.1 352.8,304.2 350.9,305.3 349.0,306.3 347.1,307.3 345.1,308.2 343.1,309.1 341.0,310.0"/></clipPath>
<g clip-path="url(#cp1)" stroke-linecap="butt">
<polyline points="352.0,305.5 366.1,305.8" fill="none" stroke="#ffaf00" stroke-width="3.5" />
<polyline points="352.0,305.5 366.1,305.8" fill="none" stroke="#ff4c00" stroke-width="1.47" />
<polyline points="365.2,305.8 379.7,306.1" fill="none" stroke="#ffa800" stroke-width="3.5" />
<polyline points="365.2,305.8 379.7,306.1" fill="none" stroke="#ff4500" stroke-width="1.47" />
<polyline points="378.8,306.1 393.3,306.4" fill="none" stroke="#ffa400" stroke-width="3.5" />
<polyline points="378.8,306.1 393.3,306.4" fill="none" stroke="#ff4100" stroke-width="1.47" />
<polyline points="392.4,306.3 406.9,306.7" fill="none" stroke="#ffa400" stroke-width="3.5" />
<polyline points="392.4,306.3 406.9,306.7" fill="none" stroke="#ff4000" stroke-width="1.47" />
<polyline points="406.1,306.6 420.6,307.0" fill="none" stroke="#ffa700" stroke-width="3.5" />
<polyline points="406.1,306.6 420.6,307.0" fill="none" stroke="#ff4400" stroke-width="1.47" />
<polyline points="419.7,307.0 434.2,307.3" fill="none" stroke="#ffad00" stroke-width="3.5" />
<polyline points="419.7,307.0 434.2,307.3" fill="none" stroke="#ff4a00" stroke-width="1.47" />
<polyline points="433.3,307.3 447.8,307.7" fill="none" stroke="#ffb500" stroke-width="3.5" />
<polyline points="433.3,307.3 447.8,307.7" fill="none" stroke="#ff5200" stroke-width="1.47" />
<polyline points="446.9,307.7 461.0,308.0" fill="none" stroke="#ffbc00" stroke-width="3.5" />
<polyline points="446.9,307.7 461.0,308.0" fill="none" stroke="#ff5900" stroke-width="1.47" />
<polyline points="352.0,305.5 365.6,305.8 379.3,306.1 392.9,306.4 406.5,306.7 420.1,307.0 433.8,307.3 447.4,307.7 461.0,308.0" fill="none" stroke="#f02800" stroke-width="0.7" />
<polyline points="357.5,300.1 371.9,300.4" fill="none" stroke="#ffaf00" stroke-width="3.5" />
<polyline points="357.5,300.1 371.9,300.4" fill="none" stroke="#ff4c00" stroke-width="1.47" />
<polyline points="371.1,300.4 385.9,300.7" fill="none" stroke="#ffad00" stroke-width="3.5" />
<polyline points="371.1,300.4 385.9,300.7" fill="none" stroke="#ff4a00" stroke-width="1.47" />
<polyline points="385.0,300.7 399.9,301.0" fill="none" stroke="#ffaf00" stroke-width="3.5" />
<polyline points="385.0,300.7 399.9,301.0" fill="none" stroke="#ff4c00" stroke-width="1.47" />
<polyline points="399.0,301.0 413.9,301.3" fill="none" stroke="#ffb500" stroke-width="3.5" />
<polyline points="399.0,301.0 413.9,301.3" fill="none" stroke="#ff5200" stroke-width="1.47" />
<polyline points="413.0,301.3 427.9,301.7" fill="none" stroke="#ffbc00" stroke-width="3.5" />
<polyline points="413.0,301.3 427.9,301.7" fill="none" stroke="#ff5900" stroke-width="1.47" />
<polyline points="427.0,301.6 441.8,302.0" fill="none" stroke="#ffc400" stroke-width="3.5" />
<polyline points="427.0,301.6 441.8,302.0" fill="none" stroke="#ff6100" stroke-width="1.47" />
<polyline points="440.9,302.0 455.8,302.4" fill="none" stroke="#ffca00" stroke-width="3.5" />
<polyline points="440.9,302.0 455.8,302.4" fill="none" stroke="#ff6700" stroke-width="1.47" />
<polyline points="454.9,302.3 469.3,302.7" fill="none" stroke="#ffcc00" stroke-width="3.5" />
<polyline points="454.9,302.3 469.3,302.7" fill="none" stroke="#ff6a00" stroke-width="1.47" />
<polyline points="357.5,300.1 371.5,300.4 385.5,300.7 399.5,301.0 413.4,301.3 427.4,301.7 441.4,302.0 455.4,302.3 469.3,302.7" fill="none" stroke="#f02800" stroke-width="0.7" />
<polyline points="363.0,294.7 377.8,295.0" fill="none" stroke="#ffb800" stroke-width="3.5" />
<polyline points="363.0,294.7 377.8,295.0" fill="none" stroke="#ff5500" stroke-width="1.47" />
<polyline points="376.9,295.0 392.2,295.3" fill="none" stroke="#ffbc00" stroke-width="3.5" />
<polyline points="376.9,295.0 392.2,295.3" fill="none" stroke="#ff5900" stroke-width="1.47" />
<polyline points="391.2,295.3 406.5,295.6" fill="none" stroke="#ffc300" stroke-width="3.5" />
<polyline points="391.2,295.3 406.5,295.6" fill="none" stroke="#ff6000" stroke-width="1.47" />
<polyline points="405.6,295.6 420.8,296.0" fill="none" stroke="#ffcb00" stroke-width="3.5" />
<polyline points="405.6,295.6 420.8,296.0" fill="none" stroke="#ff6800" stroke-width="1.47" />
<polyline points="419.9,295.9 435.1,296.3" fill="none" stroke="#ffd200" stroke-width="3.5" />
<polyline points="419.9,295.9 435.1,296.3" fill="none" stroke="#ff6f00" stroke-width="1.47" />
<polyline points="434.2,296.3 449.5,296.7" fill="none" stroke="#ffd600" stroke-width="3.5" />
<polyline points="434.2,296.3 449.5,296.7" fill="none" stroke="#ff7300" stroke-width="1.47" />
<polyline points="448.6,296.7 463.8,297.0" fill="none" stroke="#ffd600" stroke-width="3.5" />
<polyline points="448.6,296.7 463.8,297.0" fill="none" stroke="#ff7400" stroke-width="1.47" />
<polyline points="462.9,297.0 477.7,297.4" fill="none" stroke="#ffd300" stroke-width="3.5" />
<polyline points="462.9,297.0 477.7,297.4" fill="none" stroke="#ff7000" stroke-width="1.47" />
<polyline points="363.0,294.7 377.4,295.0 391.7,295.3 406.0,295.6 420.4,295.9 434.7,296.3 449.0,296.7 463.3,297.0 477.7,297.4" fill="none" stroke="#f02800" stroke-width="0.7" />
<polyline points="368.6,289.2 383.7,289.6" fill="none" stroke="#ffcb00" stroke-width="3.5" />
<polyline points="368.6,289.2 383.7,289.6" fill="none" stroke="#ff6800" stroke-width="1.47" />
<polyline points="382.8,289.6 398.4,289.9" fill="none" stroke="#ffd200" stroke-width="3.5" />
<polyline points="382.8,289.6 398.4,289.9" fill="none" stroke="#ff7000" stroke-width="1.47" />
<polyline points="397.5,289.9 413.1,290.3" fill="none" stroke="#ffda00" stroke-width="3.5" />
<polyline points="397.5,289.9 413.1,290.3" fill="none" stroke="#ff7700" stroke-width="1.47" />
<polyline points="412.1,290.2 427.8,290.6" fill="none" stroke="#ffdf00" stroke-width="3.5" />
<polyline points="412.1,290.2 427.8,290.6" fill="none" stroke="#ff7c00" stroke-width="1.47" />
<polyline points="426.8,290.6 442.4,291.0" fill="none" stroke="#ffe000" stroke-width="3.5" />
<polyline points="426.8,290.6 442.4,291.0" fill="none" stroke="#ff7e00" stroke-width="1.47" />
<polyline points="441.5,290.9 457.1,291.3" fill="none" stroke="#ffde00" stroke-width="3.5" />
<polyline points="441.5,290.9 457.1,291.3" fill="none" stroke="#ff7c00" stroke-width="1.47" />
<polyline points="456.2,291.3 471.8,291.7" fill="none" stroke="#ffd900" stroke-width="3.5" />
<polyline points="456.2,291.3 471.8,291.7" fill="none" stroke="#ff7600" stroke-width="1.47" />
<polyline points="470.9,291.7 486.0,292.1" fill="none" stroke="#ffd100" stroke-width="3.5" />
<polyline points="470.9,291.7 486.0,292.1" fill="none" stroke="#ff6f00" stroke-width="1.47" />
<polyline points="368.6,289.2 383.2,289.6 397.9,289.9 412.6,290.2 427.3,290.6 442.0,291.0 456.6,291.3 471.3,291.7 486.0,292.1" fill="none" stroke="#f02800" stroke-width="0.7" />
<polyline points="374.1,283.8 389.6,284.2" fill="none" stroke="#ffe100" stroke-width="3.5" />
<polyline points="374.1,283.8 389.6,284.2" fill="none" stroke="#ff7f00" stroke-width="1.47" />
<polyline points="388.6,284.2 404.6,284.5" fill="none" stroke="#ffe700" stroke-width="3.5" />
<polyline points="388.6,284.2 404.6,284.5" fill="none" stroke="#ff8500" stroke-width="1.47" />
<polyline points="403.7,284.5 419.7,284.9" fill="none" stroke="#ffea00" stroke-width="3.5" />
<polyline points="403.7,284.5 419.7,284.9" fill="none" stroke="#ff8800" stroke-width="1.47" />
<polyline points="418.7,284.9 434.7,285.3" fill="none" stroke="#ffe900" stroke-width="3.5" />
<polyline points="418.7,284.9 434.7,285.3" fill="none" stroke="#ff8700" stroke-width="1.47" />
<polyline points="433.7,285.2 449.7,285.6" fill="none" stroke="#ffe400" stroke-width="3.5" />
<polyline points="433.7,285.2 449.7,285.6" fill="none" stroke="#ff8200" stroke-width="1.47" />
<polyline points="448.8,285.6 464.8,286.0" fill="none" stroke="#ffdd00" stroke-width="3.5" />
<polyline points="448.8,285.6 464.8,286.0" fill="none" stroke="#ff7b00" stroke-width="1.47" />
<polyline points="463.8,286.0 479.8,286.4" fill="none" stroke="#ffd600" stroke-width="3.5" />
<polyline points="463.8,286.0 479.8,286.4" fill="none" stroke="#ff7300" stroke-width="1.47" />
<polyline points="478.8,286.4 494.3,286.8" fill="none" stroke="#ffcf00" stroke-width="3.5" />
<polyline points="478.8,286.4 494.3,286.8" fill="none" stroke="#ff6d00" stroke-width="1.47" />
<polyline points="374.1,283.8 389.1,284.2 404.1,284.5 419.2,284.9 434.2,285.2 449.2,285.6 464.3,286.0 479.3,286.4 494.3,286.8" fill="none" stroke="#f02800" stroke-width="0.7" />
<polyline points="379.6,278.4 395.5,278.8" fill="none" stroke="#fbee00" stroke-width="3.5" />
<polyline points="379.6,278.4 395.5,278.8" fill="none" stroke="#ff9100" stroke-width="1.47" />
<polyline points="394.5,278.8 410.9,279.2" fill="none" stroke="#faee00" stroke-width="3.5" />
<polyline points="394.5,278.8 410.9,279.2" fill="none" stroke="#ff9100" stroke-width="1.47" />
<polyline points="409.9,279.1 426.2,279.5" fill="none" stroke="#fdee00" stroke-width="3.5" />
<polyline points="409.9,279.1 426.2,279.5" fill="none" stroke="#ff8e00" stroke-width="1.47" />
<polyline points="425.3,279.5 441.6,279.9" fill="none" stroke="#ffea00" stroke-width="3.5" />
<polyline points="425.3,279.5 441.6,279.9" fill="none" stroke="#ff8800" stroke-width="1.47" />
<polyline points="440.6,279.9 457.0,280.3" fill="none" stroke="#ffe200" stroke-width="3.5" />
<polyline points="440.6,279.9 457.0,280.3" fill="none" stroke="#ff8000" stroke-width="1.47" />
<polyline points="456.0,280.3 472.4,280.7" fill="none" stroke="#ffdb00" stroke-width="3.5" />
<polyline points="456.0,280.3 472.4,280.7" fill="none" stroke="#ff7900" stroke-width="1.47" />
<polyline points="471.4,280.6 487.8,281.1" fill="none" stroke="#ffd600" stroke-width="3.5" />
<polyline points="471.4,280.6 487.8,281.1" fill="none" stroke="#ff7400" stroke-width="1.47" />
<polyline points="486.8,281.0 502.7,281.4" fill="none" stroke="#ffd400" stroke-width="3.5" />
<polyline points="486.8,281.0 502.7,281.4" fill="none" stroke="#ff7200" stroke-width="1.47" />
<polyline points="379.6,278.4 395.0,278.8 410.4,279.1 425.8,279.5 441.1,279.9 456.5,280.3 471.9,280.7 487.3,281.0 502.7,281.4" fill="none" stroke="#f02800" stroke-width="0.7" />
<polyline points="385.1,273.0 401.4,273.4" fill="none" stroke="#f4ee00" stroke-width="3.5" />
<polyline points="385.1,273.0 401.4,273.4" fill="none" stroke="#ff9900" stroke-width="1.47" />
<polyline points="400.4,273.4 417.1,273.8" fill="none" stroke="#f8ee00" stroke-width="3.5" />
<polyline points="400.4,273.4 417.1,273.8" fill="none" stroke="#ff9400" stroke-width="1.47" />
<polyline points="416.1,273.7 432.8,274.2" fill="none" stroke="#ffee00" stroke-width="3.5" />
<polyline points="416.1,273.7 432.8,274.2" fill="none" stroke="#ff8c00" stroke-width="1.47" />
<polyline points="431.8,274.1 448.6,274.5" fill="none" stroke="#ffe700" stroke-width="3.5" />
<polyline points="431.8,274.1 448.6,274.5" fill="none" stroke="#ff8500" stroke-width="1.47" />
<polyline points="447.6,274.5 464.3,274.9" fill="none" stroke="#ffe100" stroke-width="3.5" />
<polyline points="447.6,274.5 464.3,274.9" fill="none" stroke="#ff7f00" stroke-width="1.47" />
<polyline points="463.3,274.9 480.0,275.3" fill="none" stroke="#ffde00" stroke-width="3.5" />
<polyline points="463.3,274.9 480.0,275.3" fill="none" stroke="#ff7c00" stroke-width="1.47" />
<polyline points="479.0,275.3 495.8,275.7" fill="none" stroke="#ffe000" stroke-width="3.5" />
<polyline points="479.0,275.3 495.8,275.7" fill="none" stroke="#ff7d00" stroke-width="1.47" />
<polyline points="494.8,275.7 511.0,276.1" fill="none" stroke="#ffe400" stroke-width="3.5" />
<polyline points="494.8,275.7 511.0,276.1" fill="none" stroke="#ff8200" stroke-width="1.47" />
<polyline points="385.1,273.0 400.9,273.4 416.6,273.8 432.3,274.1 448.1,274.5 463.8,274.9 479.5,275.3 495.3,275.7 511.0,276.1" fill="none" stroke="#f02800" stroke-width="0.7" />
<polyline points="390.6,267.6 407.2,268.0" fill="none" stroke="#f4ee00" stroke-width="3.5" />
<polyline points="390.6,267.6 407.2,268.0" fill="none" stroke="#ff9900" stroke-width="1.47" />
<polyline points="406.2,268.0 423.3,268.4" fill="none" stroke="#fbee00" stroke-width="3.5" />
<polyline points="406.2,268.0 423.3,268.4" fill="none" stroke="#ff9100" stroke-width="1.47" />
<polyline points="422.3,268.4 439.4,268.8" fill="none" stroke="#ffed00" stroke-width="3.5" />
<polyline points="422.3,268.4 439.4,268.8" fill="none" stroke="#ff8a00" stroke-width="1.47" />
<polyline points="438.4,268.8 455.5,269.2" fill="none" stroke="#ffe900" stroke-width="3.5" />
<polyline points="438.4,268.8 455.5,269.2" fill="none" stroke="#ff8600" stroke-width="1.47" />
<polyline points="454.5,269.2 471.6,269.6" fill="none" stroke="#ffe900" stroke-width="3.5" />
<polyline points="454.5,269.2 471.6,269.6" fill="none" stroke="#ff8600" stroke-width="1.47" />
<polyline points="470.6,269.6 487.7,270.0" fill="none" stroke="#ffec00" stroke-width="3.5" />
<polyline points="470.6,269.6 487.7,270.0" fill="none" stroke="#ff8a00" stroke-width="1.47" />
<polyline points="486.6,270.0 503.8,270.4" fill="none" stroke="#fbee00" stroke-width="3.5" />
<polyline points="486.6,270.0 503.8,270.4" fill="none" stroke="#ff9000" stroke-width="1.47" />
<polyline points="502.7,270.4 519.3,270.8" fill="none" stroke="#f5ee00" stroke-width="3.5" />
<polyline points="502.7,270.4 519.3,270.8" fill="none" stroke="#ff9800" stroke-width="1.47" />
<polyline points="390.6,267.6 406.7,268.0 422.8,268.4 438.9,268.8 455.0,269.2 471.1,269.6 487.2,270.0 503.2,270.4 519.3,270.8" fill="none" stroke="#f02800" stroke-width="0.7" />
<polyline points="396.2,262.2 413.1,262.6" fill="none" stroke="#f6ee00" stroke-width="3.5" />
<polyline points="396.2,262.2 413.1,262.6" fill="none" stroke="#ff9600" stroke-width="1.47" />
<polyline points="412.1,262.6 429.6,263.0" fill="none" stroke="#fbee00" stroke-width="3.5" />
<polyline points="412.1,262.6 429.6,263.0" fill="none" stroke="#ff9100" stroke-width="1.47" />
<polyline points="428.5,263.0 446.0,263.4" fill="none" stroke="#fcee00" stroke-width="3.5" />
<polyline points="428.5,263.0 446.0,263.4" fill="none" stroke="#ff9000" stroke-width="1.47" />
<polyline points="445.0,263.4 462.4,263.8" fill="none" stroke="#faee00" stroke-width="3.5" />
<polyline points="445.0,263.4 462.4,263.8" fill="none" stroke="#ff9200" stroke-width="1.47" />
<polyline points="461.4,263.8 478.9,264.3" fill="none" stroke="#f5ee00" stroke-width="3.5" />
<polyline points="461.4,263.8 478.9,264.3" fill="none" stroke="#ff9800" stroke-width="1.47" />
<polyline points="477.8,264.2 495.3,264.7" fill="none" stroke="#efee00" stroke-width="3.5" />
<polyline points="477.8,264.2 495.3,264.7" fill="none" stroke="#ff9f00" stroke-width="1.47" />
<polyline points="494.3,264.6 511.8,265.1" fill="none" stroke="#e9ef00" stroke-width="3.5" />
<polyline points="494.3,264.6 511.8,265.1" fill="none" stroke="#ffa700" stroke-width="1.47" />
<polyline points="510.7,265.1 527.7,265.5" fill="none" stroke="#e4ef00" stroke-width="3.5" />
<polyline points="510.7,265.1 527.7,265.5" fill="none" stroke="#ffad00" stroke-width="1.47" />
<polyline points="396.2,262.2 412.6,262.6 429.0,263.0 445.5,263.4 461.9,263.8 478.4,264.2 494.8,264.7 511.2,265.1 527.7,265.5" fill="none" stroke="#f02800" stroke-width="0.7" />
<polyline points="401.7,256.8 419.0,257.2" fill="none" stroke="#f4ee00" stroke-width="3.5" />
<polyline points="401.7,256.8 419.0,257.2" fill="none" stroke="#ff9a00" stroke-width="1.47" />
<polyline points="417.9,257.2 435.8,257.6" fill="none" stroke="#f3ee00" stroke-width="3.5" />
<polyline points="417.9,257.2 435.8,257.6" fill="none" stroke="#ff9b00" stroke-width="1.47" />
<polyline points="434.7,257.6 452.6,258.0" fill="none" stroke="#efef00" stroke-width="3.5" />
<polyline points="434.7,257.6 452.6,258.0" fill="none" stroke="#ff9f00" stroke-width="1.47" />
<polyline points="451.5,258.0 469.4,258.5" fill="none" stroke="#e9ef00" stroke-width="3.5" />
<polyline points="451.5,258.0 469.4,258.5" fill="none" stroke="#ffa700" stroke-width="1.47" />
<polyline points="468.3,258.4 486.2,258.9" fill="none" stroke="#e2ef00" stroke-width="3.5" />
<polyline points="468.3,258.4 486.2,258.9" fill="none" stroke="#ffae00" stroke-width="1.47" />
<polyline points="485.1,258.9 503.0,259.3" fill="none" stroke="#ddef00" stroke-width="3.5" />
<polyline points="485.1,258.9 503.0,259.3" fill="none" stroke="#ffb500" stroke-width="1.47" />
<polyline points="501.9,259.3 519.7,259.8" fill="none" stroke="#daef00" stroke-width="3.5" />
<polyline points="501.9,259.3 519.7,259.8" fill="none" stroke="#ffb800" stroke-width="1.47" />
<polyline points="518.7,259.7 536.0,260.2" fill="none" stroke="#daef00" stroke-width="3.5" />
<polyline points="518.7,259.7 536.0,260.2" fill="none" stroke="#ffb800" stroke-width="1.47" />
<polyline points="401.7,256.8 418.5,257.2 435.3,257.6 452.1,258.0 468.8,258.5 485.6,258.9 502.4,259.3 519.2,259.8 536.0,260.2" fill="none" stroke="#f02800" stroke-width="0.7" />
<polyline points="352.0,305.5 378.5,279.5 405.0,253.5" fill="none" stroke="#2cf800" stroke-width="2.3" />
<polyline points="352.0,305.5 378.5,279.5 405.0,253.5" fill="none" stroke="#485800" stroke-width="0.75" />
<polyline points="358.4,305.6 385.7,279.7 413.0,253.7" fill="none" stroke="#2cf800" stroke-width="2.3" />
<polyline points="358.4,305.6 385.7,279.7 413.0,253.7" fill="none" stroke="#485800" stroke-width="0.75" />
<polyline points="364.8,305.8 392.9,279.8 421.0,253.9" fill="none" stroke="#2cf800" stroke-width="2.3" />
<polyline points="364.8,305.8 392.9,279.8 421.0,253.9" fill="none" stroke="#485800" stroke-width="0.75" />
<polyline points="371.2,305.9 400.1,280.0 429.0,254.1" fill="none" stroke="#2cf800" stroke-width="2.3" />
<polyline points="371.2,305.9 400.1,280.0 429.0,254.1" fill="none" stroke="#485800" stroke-width="0.75" />
<polyline points="377.6,306.0 407.3,280.2 437.0,254.3" fill="none" stroke="#2cf800" stroke-width="2.3" />
<polyline points="377.6,306.0 407.3,280.2 437.0,254.3" fill="none" stroke="#485800" stroke-width="0.75" />
<polyline points="384.1,306.2 414.5,280.3 445.0,254.5" fill="none" stroke="#2cf800" stroke-width="2.3" />
<polyline points="384.1,306.2 414.5,280.3 445.0,254.5" fill="none" stroke="#485800" stroke-width="0.75" />
<polyline points="390.5,306.3 421.7,280.5 453.0,254.7" fill="none" stroke="#2cf800" stroke-width="2.3" />
<polyline points="390.5,306.3 421.7,280.5 453.0,254.7" fill="none" stroke="#485800" stroke-width="0.75" />
<polyline points="396.9,306.4 428.9,280.7 461.0,254.9" fill="none" stroke="#2cf800" stroke-width="2.3" />
<polyline points="396.9,306.4 428.9,280.7 461.0,254.9" fill="none" stroke="#485800" stroke-width="0.75" />
<polyline points="403.3,306.6 436.1,280.9 469.0,255.1" fill="none" stroke="#2cf800" stroke-width="2.3" />
<polyline points="403.3,306.6 436.1,280.9 469.0,255.1" fill="none" stroke="#485800" stroke-width="0.75" />
<polyline points="409.7,306.7 443.4,281.0 477.0,255.4" fill="none" stroke="#2cf800" stroke-width="2.3" />
<polyline points="409.7,306.7 443.4,281.0 477.0,255.4" fill="none" stroke="#485800" stroke-width="0.75" />
<polyline points="416.1,306.9 450.6,281.2 485.0,255.6" fill="none" stroke="#2cf800" stroke-width="2.3" />
<polyline points="416.1,306.9 450.6,281.2 485.0,255.6" fill="none" stroke="#485800" stroke-width="0.75" />
<polyline points="422.5,307.1 457.8,281.4 493.0,255.8" fill="none" stroke="#2cf800" stroke-width="2.3" />
<polyline points="422.5,307.1 457.8,281.4 493.0,255.8" fill="none" stroke="#485800" stroke-width="0.75" />
<polyline points="428.9,307.2 465.0,281.6 501.0,256.0" fill="none" stroke="#2cf800" stroke-width="2.3" />
<polyline points="428.9,307.2 465.0,281.6 501.0,256.0" fill="none" stroke="#485800" stroke-width="0.75" />
<polyline points="435.4,307.4 472.2,281.8 509.0,256.2" fill="none" stroke="#2cf800" stroke-width="2.3" />
<polyline points="435.4,307.4 472.2,281.8 509.0,256.2" fill="none" stroke="#485800" stroke-width="0.75" />
<polyline points="441.8,307.5 479.4,282.0 517.0,256.4" fill="none" stroke="#2cf800" stroke-width="2.3" />
<polyline points="441.8,307.5 479.4,282.0 517.0,256.4" fill="none" stroke="#485800" stroke-width="0.75" />
<polyline points="448.2,307.7 486.6,282.1 525.0,256.6" fill="none" stroke="#2cf800" stroke-width="2.3" />
<polyline points="448.2,307.7 486.6,282.1 525.0,256.6" fill="none" stroke="#485800" stroke-width="0.75" />
<polyline points="454.6,307.8 493.8,282.3 533.0,256.8" fill="none" stroke="#2cf800" stroke-width="2.3" />
<polyline points="454.6,307.8 493.8,282.3 533.0,256.8" fill="none" stroke="#485800" stroke-width="0.75" />
<polyline points="461.0,308.0 501.0,282.5 541.0,257.0" fill="none" stroke="#2cf800" stroke-width="2.3" />
<polyline points="461.0,308.0 501.0,282.5 541.0,257.0" fill="none" stroke="#485800" stroke-width="0.75" />
<polyline points="352.0,305.5 365.6,305.8 379.3,306.1 392.9,306.4 406.5,306.7 420.1,307.0 433.8,307.3 447.4,307.7 461.0,308.0" fill="none" stroke="#f02800" stroke-width="0.8999999999999999" opacity="0.6"/>
<polyline points="357.5,300.1 371.5,300.4 385.5,300.7 399.5,301.0 413.4,301.3 427.4,301.7 441.4,302.0 455.4,302.3 469.3,302.7" fill="none" stroke="#f02800" stroke-width="0.8999999999999999" opacity="0.6"/>
<polyline points="363.0,294.7 377.4,295.0 391.7,295.3 406.0,295.6 420.4,295.9 434.7,296.3 449.0,296.7 463.3,297.0 477.7,297.4" fill="none" stroke="#f02800" stroke-width="0.8999999999999999" opacity="0.6"/>
<polyline points="368.6,289.2 383.2,289.6 397.9,289.9 412.6,290.2 427.3,290.6 442.0,291.0 456.6,291.3 471.3,291.7 486.0,292.1" fill="none" stroke="#f02800" stroke-width="0.8999999999999999" opacity="0.6"/>
<polyline points="374.1,283.8 389.1,284.2 404.1,284.5 419.2,284.9 434.2,285.2 449.2,285.6 464.3,286.0 479.3,286.4 494.3,286.8" fill="none" stroke="#f02800" stroke-width="0.8999999999999999" opacity="0.6"/>
<polyline points="379.6,278.4 395.0,278.8 410.4,279.1 425.8,279.5 441.1,279.9 456.5,280.3 471.9,280.7 487.3,281.0 502.7,281.4" fill="none" stroke="#f02800" stroke-width="0.8999999999999999" opacity="0.6"/>
<polyline points="385.1,273.0 400.9,273.4 416.6,273.8 432.3,274.1 448.1,274.5 463.8,274.9 479.5,275.3 495.3,275.7 511.0,276.1" fill="none" stroke="#f02800" stroke-width="0.8999999999999999" opacity="0.6"/>
<polyline points="390.6,267.6 406.7,268.0 422.8,268.4 438.9,268.8 455.0,269.2 471.1,269.6 487.2,270.0 503.2,270.4 519.3,270.8" fill="none" stroke="#f02800" stroke-width="0.8999999999999999" opacity="0.6"/>
<polyline points="396.2,262.2 412.6,262.6 429.0,263.0 445.5,263.4 461.9,263.8 478.4,264.2 494.8,264.7 511.2,265.1 527.7,265.5" fill="none" stroke="#f02800" stroke-width="0.8999999999999999" opacity="0.6"/>
<polyline points="401.7,256.8 418.5,257.2 435.3,257.6 452.1,258.0 468.8,258.5 485.6,258.9 502.4,259.3 519.2,259.8 536.0,260.2" fill="none" stroke="#f02800" stroke-width="0.8999999999999999" opacity="0.6"/>
</g>
<clipPath id="cp3"><polygon points="378.0,380.0 461.0,308.0 461.0,308.0 462.0,309.2 462.9,310.4 463.9,311.5 464.8,312.7 465.8,313.9 466.8,315.1 467.7,316.2 468.7,317.4 469.6,318.6 470.6,319.8 471.6,320.9 472.5,322.1 473.5,323.3 474.5,324.5 475.4,325.6 476.4,326.8 477.3,328.0 478.3,329.2 479.3,330.4 480.2,331.5 481.2,332.7 482.1,333.9 483.1,335.1 484.1,336.2 485.0,337.4 486.0,338.6 486.9,339.8 487.9,340.9 488.9,342.1 489.8,343.3 490.8,344.5 491.7,345.6 492.7,346.8 493.7,348.0 494.6,349.2 495.6,350.4 496.5,351.5 497.5,352.7 498.5,353.9 499.4,355.1 500.4,356.2 501.4,357.4 502.3,358.6 503.3,359.8 504.2,360.9 505.2,362.1 506.2,363.3 507.1,364.5 508.1,365.6 509.0,366.8 510.0,368.0 511.0,369.2 511.9,370.3 512.9,371.5 513.8,372.7 514.8,373.8 515.7,375.0 516.7,376.2 517.6,377.3 518.6,378.5 519.5,379.7 520.5,380.8 521.4,382.0 522.4,383.2 523.3,384.3 524.3,385.5 525.2,386.7 526.2,387.8 527.1,389.0 528.1,390.2 529.0,391.3 530.0,392.5 531.0,393.7 531.9,394.8 532.9,396.0 533.8,397.2 534.8,398.3 535.7,399.5 536.7,400.7 537.6,401.8 538.6,403.0 539.5,404.2 540.5,405.3 541.4,406.5 542.4,407.7 543.3,408.8 544.3,410.0 545.2,411.2 546.2,412.3 547.1,413.5 548.1,414.7 549.0,415.8 550.0,417.0 550.5,418.4 551.0,419.8 551.5,421.2 552.0,422.7 552.5,424.1 553.0,425.5 553.5,426.9 554.0,428.3 554.5,429.8 555.0,431.2 555.5,432.6 556.0,434.0 556.0,434.0 553.9,434.6 551.9,435.2 549.9,435.9 547.9,436.6 545.9,437.4 544.0,438.1 542.1,439.0 540.2,439.8 538.3,440.7 536.5,441.6 534.7,442.5 532.9,443.5 531.1,444.5 529.4,445.6 527.7,446.7 526.0,447.8 524.4,449.0 522.7,450.1 521.1,451.4 519.5,452.6 518.0,453.9 516.5,455.2 515.0,456.6 513.5,458.0 512.1,459.5 510.6,460.9 509.3,462.4 507.9,463.9 506.5,465.5 505.2,467.1 503.9,468.8 502.7,470.4 501.4,472.2 500.2,473.9 499.0,475.7 497.9,477.5 496.8,479.4 495.6,481.2 494.6,483.2 493.5,485.1 492.5,487.1 491.5,489.1 490.8,490.5 490.2,491.9 489.5,493.3 488.9,494.7 488.3,496.1 487.7,497.6 487.1,499.0 486.6,500.5 486.0,502.0"/></clipPath>
<g clip-path="url(#cp3)" stroke-linecap="butt">
<polyline points="378.0,380.0 391.9,395.7" fill="none" stroke="#ffd500" stroke-width="4.3" />
<polyline points="378.0,380.0 391.9,395.7" fill="none" stroke="#ff7300" stroke-width="1.8059999999999998" />
<polyline points="391.1,394.8 405.4,411.0" fill="none" stroke="#ffdb00" stroke-width="4.3" />
<polyline points="391.1,394.8 405.4,411.0" fill="none" stroke="#ff7900" stroke-width="1.8059999999999998" />
<polyline points="404.6,410.0 418.9,426.2" fill="none" stroke="#ffe100" stroke-width="4.3" />
<polyline points="404.6,410.0 418.9,426.2" fill="none" stroke="#ff7f00" stroke-width="1.8059999999999998" />
<polyline points="418.1,425.3 432.4,441.5" fill="none" stroke="#ffe700" stroke-width="4.3" />
<polyline points="418.1,425.3 432.4,441.5" fill="none" stroke="#ff8500" stroke-width="1.8059999999999998" />
<polyline points="431.6,440.5 445.9,456.7" fill="none" stroke="#ffed00" stroke-width="4.3" />
<polyline points="431.6,440.5 445.9,456.7" fill="none" stroke="#ff8b00" stroke-width="1.8059999999999998" />
<polyline points="445.1,455.8 459.4,472.0" fill="none" stroke="#fbee00" stroke-width="4.3" />
<polyline points="445.1,455.8 459.4,472.0" fill="none" stroke="#ff9100" stroke-width="1.8059999999999998" />
<polyline points="458.6,471.0 472.9,487.2" fill="none" stroke="#f6ee00" stroke-width="4.3" />
<polyline points="458.6,471.0 472.9,487.2" fill="none" stroke="#ff9700" stroke-width="1.8059999999999998" />
<polyline points="472.1,486.3 486.0,502.0" fill="none" stroke="#f1ee00" stroke-width="4.3" />
<polyline points="472.1,486.3 486.0,502.0" fill="none" stroke="#ff9c00" stroke-width="1.8059999999999998" />
<polyline points="378.0,380.0 391.5,395.2 405.0,410.5 418.5,425.8 432.0,441.0 445.5,456.3 459.0,471.5 472.5,486.8 486.0,502.0" fill="none" stroke="#f02800" stroke-width="0.7" />
<polyline points="384.6,374.2 398.5,390.0" fill="none" stroke="#ffd500" stroke-width="4.3" />
<polyline points="384.6,374.2 398.5,390.0" fill="none" stroke="#ff7300" stroke-width="1.8059999999999998" />
<polyline points="397.6,389.0 411.9,405.2" fill="none" stroke="#ffdb00" stroke-width="4.3" />
<polyline points="397.6,389.0 411.9,405.2" fill="none" stroke="#ff7800" stroke-width="1.8059999999999998" />
<polyline points="411.1,404.3 425.3,420.5" fill="none" stroke="#ffe000" stroke-width="4.3" />
<polyline points="411.1,404.3 425.3,420.5" fill="none" stroke="#ff7e00" stroke-width="1.8059999999999998" />
<polyline points="424.5,419.5 438.8,435.8" fill="none" stroke="#ffe500" stroke-width="4.3" />
<polyline points="424.5,419.5 438.8,435.8" fill="none" stroke="#ff8300" stroke-width="1.8059999999999998" />
<polyline points="437.9,434.8 452.2,451.0" fill="none" stroke="#ffeb00" stroke-width="4.3" />
<polyline points="437.9,434.8 452.2,451.0" fill="none" stroke="#ff8900" stroke-width="1.8059999999999998" />
<polyline points="451.3,450.0 465.6,466.3" fill="none" stroke="#fdee00" stroke-width="4.3" />
<polyline points="451.3,450.0 465.6,466.3" fill="none" stroke="#ff8e00" stroke-width="1.8059999999999998" />
<polyline points="464.8,465.3 479.0,481.5" fill="none" stroke="#f9ee00" stroke-width="4.3" />
<polyline points="464.8,465.3 479.0,481.5" fill="none" stroke="#ff9400" stroke-width="1.8059999999999998" />
<polyline points="478.2,480.6 491.6,496.6" fill="none" stroke="#f4ee00" stroke-width="4.3" />
<polyline points="478.2,480.6 491.6,496.6" fill="none" stroke="#ff9900" stroke-width="1.8059999999999998" />
<polyline points="384.6,374.2 398.1,389.5 411.5,404.8 424.9,420.0 438.3,435.3 451.8,450.5 465.2,465.8 478.6,481.1 491.6,496.6" fill="none" stroke="#f02800" stroke-width="0.7" />
<polyline points="391.3,368.5 405.1,384.2" fill="none" stroke="#edef00" stroke-width="4.3" />
<polyline points="391.3,368.5 405.1,384.2" fill="none" stroke="#ffa200" stroke-width="1.8059999999999998" />
<polyline points="404.2,383.3 418.4,399.5" fill="none" stroke="#e9ef00" stroke-width="4.3" />
<polyline points="404.2,383.3 418.4,399.5" fill="none" stroke="#ffa700" stroke-width="1.8059999999999998" />
<polyline points="417.5,398.5 431.8,414.8" fill="none" stroke="#e5ef00" stroke-width="4.3" />
<polyline points="417.5,398.5 431.8,414.8" fill="none" stroke="#ffac00" stroke-width="1.8059999999999998" />
<polyline points="430.9,413.8 445.1,430.0" fill="none" stroke="#e0ef00" stroke-width="4.3" />
<polyline points="430.9,413.8 445.1,430.0" fill="none" stroke="#ffb100" stroke-width="1.8059999999999998" />
<polyline points="444.2,429.1 458.4,445.3" fill="none" stroke="#dcef00" stroke-width="4.3" />
<polyline points="444.2,429.1 458.4,445.3" fill="none" stroke="#ffb600" stroke-width="1.8059999999999998" />
<polyline points="457.6,444.3 471.8,460.6" fill="none" stroke="#d8ef00" stroke-width="4.3" />
<polyline points="457.6,444.3 471.8,460.6" fill="none" stroke="#ffbb00" stroke-width="1.8059999999999998" />
<polyline points="470.9,459.6 485.1,475.9" fill="none" stroke="#d4ef00" stroke-width="4.3" />
<polyline points="470.9,459.6 485.1,475.9" fill="none" stroke="#ffc000" stroke-width="1.8059999999999998" />
<polyline points="484.3,474.9 497.2,491.1" fill="none" stroke="#d0ef00" stroke-width="4.3" />
<polyline points="484.3,474.9 497.2,491.1" fill="none" stroke="#ffc500" stroke-width="1.8059999999999998" />
<polyline points="391.3,368.5 404.6,383.7 418.0,399.0 431.3,414.3 444.7,429.6 458.0,444.8 471.4,460.1 484.7,475.4 497.2,491.1" fill="none" stroke="#f02800" stroke-width="0.7" />
<polyline points="397.9,362.7 411.6,378.5" fill="none" stroke="#edef00" stroke-width="4.3" />
<polyline points="397.9,362.7 411.6,378.5" fill="none" stroke="#ffa200" stroke-width="1.8059999999999998" />
<polyline points="410.8,377.5 424.9,393.8" fill="none" stroke="#e9ef00" stroke-width="4.3" />
<polyline points="410.8,377.5 424.9,393.8" fill="none" stroke="#ffa600" stroke-width="1.8059999999999998" />
<polyline points="424.0,392.8 438.2,409.0" fill="none" stroke="#e5ef00" stroke-width="4.3" />
<polyline points="424.0,392.8 438.2,409.0" fill="none" stroke="#ffab00" stroke-width="1.8059999999999998" />
<polyline points="437.3,408.1 451.4,424.3" fill="none" stroke="#e2ef00" stroke-width="4.3" />
<polyline points="437.3,408.1 451.4,424.3" fill="none" stroke="#ffaf00" stroke-width="1.8059999999999998" />
<polyline points="450.6,423.3 464.7,439.6" fill="none" stroke="#deef00" stroke-width="4.3" />
<polyline points="450.6,423.3 464.7,439.6" fill="none" stroke="#ffb400" stroke-width="1.8059999999999998" />
<polyline points="463.9,438.6 478.0,454.9" fill="none" stroke="#daef00" stroke-width="4.3" />
<polyline points="463.9,438.6 478.0,454.9" fill="none" stroke="#ffb800" stroke-width="1.8059999999999998" />
<polyline points="477.1,453.9 491.2,470.2" fill="none" stroke="#d7ef00" stroke-width="4.3" />
<polyline points="477.1,453.9 491.2,470.2" fill="none" stroke="#ffbd00" stroke-width="1.8059999999999998" />
<polyline points="490.4,469.2 502.8,485.7" fill="none" stroke="#d3ef00" stroke-width="4.3" />
<polyline points="490.4,469.2 502.8,485.7" fill="none" stroke="#ffc100" stroke-width="1.8059999999999998" />
<polyline points="397.9,362.7 411.2,378.0 424.5,393.3 437.7,408.6 451.0,423.8 464.3,439.1 477.6,454.4 490.8,469.7 502.8,485.7" fill="none" stroke="#f02800" stroke-width="0.7" />
<polyline points="404.6,357.0 418.2,372.7" fill="none" stroke="#edef00" stroke-width="4.3" />
<polyline points="404.6,357.0 418.2,372.7" fill="none" stroke="#ffa100" stroke-width="1.8059999999999998" />
<polyline points="417.3,371.8 431.4,388.0" fill="none" stroke="#eaef00" stroke-width="4.3" />
<polyline points="417.3,371.8 431.4,388.0" fill="none" stroke="#ffa500" stroke-width="1.8059999999999998" />
<polyline points="430.5,387.0 444.6,403.3" fill="none" stroke="#e6ef00" stroke-width="4.3" />
<polyline points="430.5,387.0 444.6,403.3" fill="none" stroke="#ffa900" stroke-width="1.8059999999999998" />
<polyline points="443.7,402.3 457.8,418.6" fill="none" stroke="#e3ef00" stroke-width="4.3" />
<polyline points="443.7,402.3 457.8,418.6" fill="none" stroke="#ffad00" stroke-width="1.8059999999999998" />
<polyline points="456.9,417.6 471.0,433.9" fill="none" stroke="#e0ef00" stroke-width="4.3" />
<polyline points="456.9,417.6 471.0,433.9" fill="none" stroke="#ffb100" stroke-width="1.8059999999999998" />
<polyline points="470.1,432.9 484.2,449.2" fill="none" stroke="#ddef00" stroke-width="4.3" />
<polyline points="470.1,432.9 484.2,449.2" fill="none" stroke="#ffb500" stroke-width="1.8059999999999998" />
<polyline points="483.3,448.2 497.4,464.5" fill="none" stroke="#d9ef00" stroke-width="4.3" />
<polyline points="483.3,448.2 497.4,464.5" fill="none" stroke="#ffb900" stroke-width="1.8059999999999998" />
<polyline points="496.5,463.5 508.4,480.2" fill="none" stroke="#d6ef00" stroke-width="4.3" />
<polyline points="496.5,463.5 508.4,480.2" fill="none" stroke="#ffbd00" stroke-width="1.8059999999999998" />
<polyline points="404.6,357.0 417.8,372.2 431.0,387.5 444.1,402.8 457.3,418.1 470.5,433.4 483.7,448.7 496.9,464.0 508.4,480.2" fill="none" stroke="#f02800" stroke-width="0.7" />
<polyline points="411.2,351.2 424.7,367.0" fill="none" stroke="#edef00" stroke-width="4.3" />
<polyline points="411.2,351.2 424.7,367.0" fill="none" stroke="#ffa100" stroke-width="1.8059999999999998" />
<polyline points="423.9,366.0 437.9,382.3" fill="none" stroke="#eaef00" stroke-width="4.3" />
<polyline points="423.9,366.0 437.9,382.3" fill="none" stroke="#ffa500" stroke-width="1.8059999999999998" />
<polyline points="437.0,381.3 451.0,397.6" fill="none" stroke="#e7ef00" stroke-width="4.3" />
<polyline points="437.0,381.3 451.0,397.6" fill="none" stroke="#ffa800" stroke-width="1.8059999999999998" />
<polyline points="450.1,396.6 464.1,412.9" fill="none" stroke="#e5ef00" stroke-width="4.3" />
<polyline points="450.1,396.6 464.1,412.9" fill="none" stroke="#ffac00" stroke-width="1.8059999999999998" />
<polyline points="463.3,411.9 477.2,428.2" fill="none" stroke="#e2ef00" stroke-width="4.3" />
<polyline points="463.3,411.9 477.2,428.2" fill="none" stroke="#ffaf00" stroke-width="1.8059999999999998" />
<polyline points="476.4,427.2 490.3,443.5" fill="none" stroke="#dfef00" stroke-width="4.3" />
<polyline points="476.4,427.2 490.3,443.5" fill="none" stroke="#ffb300" stroke-width="1.8059999999999998" />
<polyline points="489.5,442.5 503.5,458.8" fill="none" stroke="#dcef00" stroke-width="4.3" />
<polyline points="489.5,442.5 503.5,458.8" fill="none" stroke="#ffb600" stroke-width="1.8059999999999998" />
<polyline points="502.6,457.8 514.0,474.8" fill="none" stroke="#d9ef00" stroke-width="4.3" />
<polyline points="502.6,457.8 514.0,474.8" fill="none" stroke="#ffba00" stroke-width="1.8059999999999998" />
<polyline points="411.2,351.2 424.3,366.5 437.4,381.8 450.6,397.1 463.7,412.4 476.8,427.7 489.9,443.0 503.0,458.3 514.0,474.8" fill="none" stroke="#f02800" stroke-width="0.7" />
<polyline points="417.8,345.4 431.3,361.2" fill="none" stroke="#edef00" stroke-width="4.3" />
<polyline points="417.8,345.4 431.3,361.2" fill="none" stroke="#ffa100" stroke-width="1.8059999999999998" />
<polyline points="430.5,360.3 444.3,376.5" fill="none" stroke="#ebef00" stroke-width="4.3" />
<polyline points="430.5,360.3 444.3,376.5" fill="none" stroke="#ffa400" stroke-width="1.8059999999999998" />
<polyline points="443.5,375.6 457.4,391.9" fill="none" stroke="#e8ef00" stroke-width="4.3" />
<polyline points="443.5,375.6 457.4,391.9" fill="none" stroke="#ffa700" stroke-width="1.8059999999999998" />
<polyline points="456.6,390.9 470.4,407.2" fill="none" stroke="#e6ef00" stroke-width="4.3" />
<polyline points="456.6,390.9 470.4,407.2" fill="none" stroke="#ffaa00" stroke-width="1.8059999999999998" />
<polyline points="469.6,406.2 483.5,422.5" fill="none" stroke="#e3ef00" stroke-width="4.3" />
<polyline points="469.6,406.2 483.5,422.5" fill="none" stroke="#ffad00" stroke-width="1.8059999999999998" />
<polyline points="482.6,421.5 496.5,437.8" fill="none" stroke="#e1ef00" stroke-width="4.3" />
<polyline points="482.6,421.5 496.5,437.8" fill="none" stroke="#ffb000" stroke-width="1.8059999999999998" />
<polyline points="495.7,436.8 509.6,453.1" fill="none" stroke="#deef00" stroke-width="4.3" />
<polyline points="495.7,436.8 509.6,453.1" fill="none" stroke="#ffb300" stroke-width="1.8059999999999998" />
<polyline points="508.7,452.1 519.6,469.4" fill="none" stroke="#dcef00" stroke-width="4.3" />
<polyline points="508.7,452.1 519.6,469.4" fill="none" stroke="#ffb600" stroke-width="1.8059999999999998" />
<polyline points="417.8,345.4 430.9,360.7 443.9,376.1 457.0,391.4 470.0,406.7 483.1,422.0 496.1,437.3 509.1,452.6 519.6,469.4" fill="none" stroke="#f02800" stroke-width="0.7" />
<polyline points="424.5,339.7 437.9,355.5" fill="none" stroke="#eeef00" stroke-width="4.3" />
<polyline points="424.5,339.7 437.9,355.5" fill="none" stroke="#ffa100" stroke-width="1.8059999999999998" />
<polyline points="437.0,354.5 450.8,370.8" fill="none" stroke="#ecef00" stroke-width="4.3" />
<polyline points="437.0,354.5 450.8,370.8" fill="none" stroke="#ffa300" stroke-width="1.8059999999999998" />
<polyline points="450.0,369.8 463.8,386.1" fill="none" stroke="#e9ef00" stroke-width="4.3" />
<polyline points="450.0,369.8 463.8,386.1" fill="none" stroke="#ffa600" stroke-width="1.8059999999999998" />
<polyline points="463.0,385.1 476.8,401.4" fill="none" stroke="#e7ef00" stroke-width="4.3" />
<polyline points="463.0,385.1 476.8,401.4" fill="none" stroke="#ffa900" stroke-width="1.8059999999999998" />
<polyline points="475.9,400.5 489.7,416.8" fill="none" stroke="#e5ef00" stroke-width="4.3" />
<polyline points="475.9,400.5 489.7,416.8" fill="none" stroke="#ffab00" stroke-width="1.8059999999999998" />
<polyline points="488.9,415.8 502.7,432.1" fill="none" stroke="#e3ef00" stroke-width="4.3" />
<polyline points="488.9,415.8 502.7,432.1" fill="none" stroke="#ffae00" stroke-width="1.8059999999999998" />
<polyline points="501.9,431.1 515.7,447.4" fill="none" stroke="#e1ef00" stroke-width="4.3" />
<polyline points="501.9,431.1 515.7,447.4" fill="none" stroke="#ffb000" stroke-width="1.8059999999999998" />
<polyline points="514.8,446.4 525.2,463.9" fill="none" stroke="#dfef00" stroke-width="4.3" />
<polyline points="514.8,446.4 525.2,463.9" fill="none" stroke="#ffb300" stroke-width="1.8059999999999998" />
<polyline points="424.5,339.7 437.4,355.0 450.4,370.3 463.4,385.6 476.4,400.9 489.3,416.3 502.3,431.6 515.3,446.9 525.2,463.9" fill="none" stroke="#f02800" stroke-width="0.7" />
<polyline points="431.1,333.9 444.4,349.7" fill="none" stroke="#eeef00" stroke-width="4.3" />
<polyline points="431.1,333.9 444.4,349.7" fill="none" stroke="#ffa000" stroke-width="1.8059999999999998" />
<polyline points="443.6,348.8 457.3,365.1" fill="none" stroke="#ecef00" stroke-width="4.3" />
<polyline points="443.6,348.8 457.3,365.1" fill="none" stroke="#ffa300" stroke-width="1.8059999999999998" />
<polyline points="456.5,364.1 470.2,380.4" fill="none" stroke="#eaef00" stroke-width="4.3" />
<polyline points="456.5,364.1 470.2,380.4" fill="none" stroke="#ffa500" stroke-width="1.8059999999999998" />
<polyline points="469.4,379.4 483.1,395.7" fill="none" stroke="#e9ef00" stroke-width="4.3" />
<polyline points="469.4,379.4 483.1,395.7" fill="none" stroke="#ffa700" stroke-width="1.8059999999999998" />
<polyline points="482.3,394.7 496.0,411.0" fill="none" stroke="#e7ef00" stroke-width="4.3" />
<polyline points="482.3,394.7 496.0,411.0" fill="none" stroke="#ffa900" stroke-width="1.8059999999999998" />
<polyline points="495.2,410.1 508.9,426.4" fill="none" stroke="#e5ef00" stroke-width="4.3" />
<polyline points="495.2,410.1 508.9,426.4" fill="none" stroke="#ffab00" stroke-width="1.8059999999999998" />
<polyline points="508.1,425.4 521.8,441.7" fill="none" stroke="#e3ef00" stroke-width="4.3" />
<polyline points="508.1,425.4 521.8,441.7" fill="none" stroke="#ffad00" stroke-width="1.8059999999999998" />
<polyline points="521.0,440.7 530.8,458.5" fill="none" stroke="#e2ef00" stroke-width="4.3" />
<polyline points="521.0,440.7 530.8,458.5" fill="none" stroke="#ffaf00" stroke-width="1.8059999999999998" />
<polyline points="431.1,333.9 444.0,349.2 456.9,364.6 469.8,379.9 482.7,395.2 495.6,410.6 508.5,425.9 521.4,441.2 530.8,458.5" fill="none" stroke="#f02800" stroke-width="0.7" />
<polyline points="437.8,328.2 451.0,344.0" fill="none" stroke="#eeef00" stroke-width="4.3" />
<polyline points="437.8,328.2 451.0,344.0" fill="none" stroke="#ffa000" stroke-width="1.8059999999999998" />
<polyline points="450.2,343.0 463.8,359.3" fill="none" stroke="#edef00" stroke-width="4.3" />
<polyline points="450.2,343.0 463.8,359.3" fill="none" stroke="#ffa200" stroke-width="1.8059999999999998" />
<polyline points="463.0,358.3 476.6,374.7" fill="none" stroke="#ebef00" stroke-width="4.3" />
<polyline points="463.0,358.3 476.6,374.7" fill="none" stroke="#ffa400" stroke-width="1.8059999999999998" />
<polyline points="475.8,373.7 489.4,390.0" fill="none" stroke="#eaef00" stroke-width="4.3" />
<polyline points="475.8,373.7 489.4,390.0" fill="none" stroke="#ffa500" stroke-width="1.8059999999999998" />
<polyline points="488.6,389.0 502.3,405.3" fill="none" stroke="#e9ef00" stroke-width="4.3" />
<polyline points="488.6,389.0 502.3,405.3" fill="none" stroke="#ffa700" stroke-width="1.8059999999999998" />
<polyline points="501.4,404.4 515.1,420.7" fill="none" stroke="#e7ef00" stroke-width="4.3" />
<polyline points="501.4,404.4 515.1,420.7" fill="none" stroke="#ffa900" stroke-width="1.8059999999999998" />
<polyline points="514.2,419.7 527.9,436.0" fill="none" stroke="#e6ef00" stroke-width="4.3" />
<polyline points="514.2,419.7 527.9,436.0" fill="none" stroke="#ffaa00" stroke-width="1.8059999999999998" />
<polyline points="527.1,435.0 536.4,453.0" fill="none" stroke="#e5ef00" stroke-width="4.3" />
<polyline points="527.1,435.0 536.4,453.0" fill="none" stroke="#ffac00" stroke-width="1.8059999999999998" />
<polyline points="437.8,328.2 450.6,343.5 463.4,358.8 476.2,374.2 489.0,389.5 501.8,404.8 514.7,420.2 527.5,435.5 536.4,453.0" fill="none" stroke="#f02800" stroke-width="0.7" />
<polyline points="444.4,322.4 457.5,338.2" fill="none" stroke="#eeef00" stroke-width="4.3" />
<polyline points="444.4,322.4 457.5,338.2" fill="none" stroke="#ffa000" stroke-width="1.8059999999999998" />
<polyline points="456.7,337.3 470.3,353.6" fill="none" stroke="#edef00" stroke-width="4.3" />
<polyline points="456.7,337.3 470.3,353.6" fill="none" stroke="#ffa100" stroke-width="1.8059999999999998" />
<polyline points="469.5,352.6 483.0,368.9" fill="none" stroke="#ecef00" stroke-width="4.3" />
<polyline points="469.5,352.6 483.0,368.9" fill="none" stroke="#ffa200" stroke-width="1.8059999999999998" />
<polyline points="482.2,367.9 495.8,384.3" fill="none" stroke="#ebef00" stroke-width="4.3" />
<polyline points="482.2,367.9 495.8,384.3" fill="none" stroke="#ffa400" stroke-width="1.8059999999999998" />
<polyline points="495.0,383.3 508.5,399.6" fill="none" stroke="#eaef00" stroke-width="4.3" />
<polyline points="495.0,383.3 508.5,399.6" fill="none" stroke="#ffa500" stroke-width="1.8059999999999998" />
<polyline points="507.7,398.6 521.3,415.0" fill="none" stroke="#e9ef00" stroke-width="4.3" />
<polyline points="507.7,398.6 521.3,415.0" fill="none" stroke="#ffa600" stroke-width="1.8059999999999998" />
<polyline points="520.4,414.0 534.0,430.3" fill="none" stroke="#e8ef00" stroke-width="4.3" />
<polyline points="520.4,414.0 534.0,430.3" fill="none" stroke="#ffa700" stroke-width="1.8059999999999998" />
<polyline points="533.2,429.3 542.0,447.6" fill="none" stroke="#e7ef00" stroke-width="4.3" />
<polyline points="533.2,429.3 542.0,447.6" fill="none" stroke="#ffa800" stroke-width="1.8059999999999998" />
<polyline points="444.4,322.4 457.1,337.7 469.9,353.1 482.6,368.4 495.4,383.8 508.1,399.1 520.8,414.5 533.6,429.8 542.0,447.6" fill="none" stroke="#f02800" stroke-width="0.7" />
<polyline points="451.0,316.6 464.1,332.5" fill="none" stroke="#ff8c00" stroke-width="4.3" />
<polyline points="451.0,316.6 464.1,332.5" fill="none" stroke="#ff2800" stroke-width="1.8059999999999998" />
<polyline points="463.3,331.5 476.8,347.8" fill="none" stroke="#ff8c00" stroke-width="4.3" />
<polyline points="463.3,331.5 476.8,347.8" fill="none" stroke="#ff2800" stroke-width="1.8059999999999998" />
<polyline points="476.0,346.9 489.4,363.2" fill="none" stroke="#ff8c00" stroke-width="4.3" />
<polyline points="476.0,346.9 489.4,363.2" fill="none" stroke="#ff2800" stroke-width="1.8059999999999998" />
<polyline points="488.6,362.2 502.1,378.6" fill="none" stroke="#ff8c00" stroke-width="4.3" />
<polyline points="488.6,362.2 502.1,378.6" fill="none" stroke="#ff2800" stroke-width="1.8059999999999998" />
<polyline points="501.3,377.6 514.8,393.9" fill="none" stroke="#ff8c00" stroke-width="4.3" />
<polyline points="501.3,377.6 514.8,393.9" fill="none" stroke="#ff2800" stroke-width="1.8059999999999998" />
<polyline points="514.0,392.9 527.4,409.3" fill="none" stroke="#ff8c00" stroke-width="4.3" />
<polyline points="514.0,392.9 527.4,409.3" fill="none" stroke="#ff2800" stroke-width="1.8059999999999998" />
<polyline points="526.6,408.3 540.1,424.6" fill="none" stroke="#ff8c00" stroke-width="4.3" />
<polyline points="526.6,408.3 540.1,424.6" fill="none" stroke="#ff2800" stroke-width="1.8059999999999998" />
<polyline points="539.3,423.6 547.6,442.2" fill="none" stroke="#ff8c00" stroke-width="4.3" />
<polyline points="539.3,423.6 547.6,442.2" fill="none" stroke="#ff2800" stroke-width="1.8059999999999998" />
<polyline points="451.0,316.6 463.7,332.0 476.4,347.4 489.0,362.7 501.7,378.1 514.4,393.4 527.0,408.8 539.7,424.1 547.6,442.2" fill="none" stroke="#f02800" stroke-width="0.7" />
<polyline points="457.7,310.9 470.7,326.7" fill="none" stroke="#ff7c00" stroke-width="4.3" />
<polyline points="457.7,310.9 470.7,326.7" fill="none" stroke="#ff2800" stroke-width="1.8059999999999998" />
<polyline points="469.9,325.8 483.3,342.1" fill="none" stroke="#ff7c00" stroke-width="4.3" />
<polyline points="469.9,325.8 483.3,342.1" fill="none" stroke="#ff2800" stroke-width="1.8059999999999998" />
<polyline points="482.5,341.1 495.9,357.5" fill="none" stroke="#ff7c00" stroke-width="4.3" />
<polyline points="482.5,341.1 495.9,357.5" fill="none" stroke="#ff2800" stroke-width="1.8059999999999998" />
<polyline points="495.0,356.5 508.4,372.8" fill="none" stroke="#ff7c00" stroke-width="4.3" />
<polyline points="495.0,356.5 508.4,372.8" fill="none" stroke="#ff2800" stroke-width="1.8059999999999998" />
<polyline points="507.6,371.8 521.0,388.2" fill="none" stroke="#ff7c00" stroke-width="4.3" />
<polyline points="507.6,371.8 521.0,388.2" fill="none" stroke="#ff2800" stroke-width="1.8059999999999998" />
<polyline points="520.2,387.2 533.6,403.6" fill="none" stroke="#ff7c00" stroke-width="4.3" />
<polyline points="520.2,387.2 533.6,403.6" fill="none" stroke="#ff2800" stroke-width="1.8059999999999998" />
<polyline points="532.8,402.6 546.2,418.9" fill="none" stroke="#ff7c00" stroke-width="4.3" />
<polyline points="532.8,402.6 546.2,418.9" fill="none" stroke="#ff2800" stroke-width="1.8059999999999998" />
<polyline points="545.4,417.9 553.2,436.7" fill="none" stroke="#ff7c00" stroke-width="4.3" />
<polyline points="545.4,417.9 553.2,436.7" fill="none" stroke="#ff2800" stroke-width="1.8059999999999998" />
<polyline points="457.7,310.9 470.3,326.2 482.9,341.6 495.4,357.0 508.0,372.3 520.6,387.7 533.2,403.1 545.8,418.4 553.2,436.7" fill="none" stroke="#f02800" stroke-width="0.7" />
<polyline points="378.0,380.0 419.5,344.0 461.0,308.0" fill="none" stroke="#20e400" stroke-width="2.3" />
<polyline points="378.0,380.0 419.5,344.0 461.0,308.0" fill="none" stroke="#143800" stroke-width="1.0" />
<polyline points="385.2,388.1 426.4,352.2 467.7,316.2" fill="none" stroke="#20e400" stroke-width="2.3" />
<polyline points="385.2,388.1 426.4,352.2 467.7,316.2" fill="none" stroke="#143800" stroke-width="1.0" />
<polyline points="392.4,396.3 433.4,360.3 474.4,324.4" fill="none" stroke="#20e400" stroke-width="2.3" />
<polyline points="392.4,396.3 433.4,360.3 474.4,324.4" fill="none" stroke="#143800" stroke-width="1.0" />
<polyline points="399.6,404.4 440.3,368.5 481.1,332.6" fill="none" stroke="#20e400" stroke-width="2.3" />
<polyline points="399.6,404.4 440.3,368.5 481.1,332.6" fill="none" stroke="#143800" stroke-width="1.0" />
<polyline points="406.8,412.5 447.3,376.7 487.8,340.8" fill="none" stroke="#20e400" stroke-width="2.3" />
<polyline points="406.8,412.5 447.3,376.7 487.8,340.8" fill="none" stroke="#143800" stroke-width="1.0" />
<polyline points="414.0,420.7 454.2,384.8 494.5,349.0" fill="none" stroke="#20e400" stroke-width="2.3" />
<polyline points="414.0,420.7 454.2,384.8 494.5,349.0" fill="none" stroke="#143800" stroke-width="1.0" />
<polyline points="421.2,428.8 461.2,393.0 501.2,357.2" fill="none" stroke="#20e400" stroke-width="2.3" />
<polyline points="421.2,428.8 461.2,393.0 501.2,357.2" fill="none" stroke="#143800" stroke-width="1.0" />
<polyline points="428.4,436.9 468.1,401.2 507.9,365.4" fill="none" stroke="#20e400" stroke-width="2.3" />
<polyline points="428.4,436.9 468.1,401.2 507.9,365.4" fill="none" stroke="#143800" stroke-width="1.0" />
<polyline points="435.6,445.1 475.1,409.3 514.6,373.6" fill="none" stroke="#20e400" stroke-width="2.3" />
<polyline points="435.6,445.1 475.1,409.3 514.6,373.6" fill="none" stroke="#143800" stroke-width="1.0" />
<polyline points="442.8,453.2 482.0,417.5 521.2,381.8" fill="none" stroke="#20e400" stroke-width="2.3" />
<polyline points="442.8,453.2 482.0,417.5 521.2,381.8" fill="none" stroke="#143800" stroke-width="1.0" />
<polyline points="450.0,461.3 489.0,425.7 527.9,390.0" fill="none" stroke="#20e400" stroke-width="2.3" />
<polyline points="450.0,461.3 489.0,425.7 527.9,390.0" fill="none" stroke="#143800" stroke-width="1.0" />
<polyline points="457.2,469.5 495.9,433.8 534.6,398.2" fill="none" stroke="#20e400" stroke-width="2.3" />
<polyline points="457.2,469.5 495.9,433.8 534.6,398.2" fill="none" stroke="#143800" stroke-width="1.0" />
<polyline points="464.4,477.6 502.9,442.0 541.3,406.4" fill="none" stroke="#20e400" stroke-width="2.3" />
<polyline points="464.4,477.6 502.9,442.0 541.3,406.4" fill="none" stroke="#143800" stroke-width="1.0" />
<polyline points="471.6,485.7 509.8,450.2 548.0,414.6" fill="none" stroke="#20e400" stroke-width="2.3" />
<polyline points="471.6,485.7 509.8,450.2 548.0,414.6" fill="none" stroke="#143800" stroke-width="1.0" />
<polyline points="478.8,493.9 515.6,458.9 552.5,424.0" fill="none" stroke="#20e400" stroke-width="2.3" />
<polyline points="478.8,493.9 515.6,458.9 552.5,424.0" fill="none" stroke="#143800" stroke-width="1.0" />
<polyline points="486.0,502.0 521.0,468.0 556.0,434.0" fill="none" stroke="#20e400" stroke-width="2.3" />
<polyline points="486.0,502.0 521.0,468.0 556.0,434.0" fill="none" stroke="#143800" stroke-width="1.0" />
<polyline points="378.0,380.0 391.5,395.2 405.0,410.5 418.5,425.8 432.0,441.0 445.5,456.3 459.0,471.5 472.5,486.8 486.0,502.0" fill="none" stroke="#f02800" stroke-width="0.8999999999999999" opacity="0.5"/>
<polyline points="384.6,374.2 398.1,389.5 411.5,404.8 424.9,420.0 438.3,435.3 451.8,450.5 465.2,465.8 478.6,481.1 491.6,496.6" fill="none" stroke="#f02800" stroke-width="0.8999999999999999" opacity="0.5"/>
<polyline points="391.3,368.5 404.6,383.7 418.0,399.0 431.3,414.3 444.7,429.6 458.0,444.8 471.4,460.1 484.7,475.4 497.2,491.1" fill="none" stroke="#f02800" stroke-width="0.8999999999999999" opacity="0.5"/>
<polyline points="397.9,362.7 411.2,378.0 424.5,393.3 437.7,408.6 451.0,423.8 464.3,439.1 477.6,454.4 490.8,469.7 502.8,485.7" fill="none" stroke="#f02800" stroke-width="0.8999999999999999" opacity="0.5"/>
<polyline points="404.6,357.0 417.8,372.2 431.0,387.5 444.1,402.8 457.3,418.1 470.5,433.4 483.7,448.7 496.9,464.0 508.4,480.2" fill="none" stroke="#f02800" stroke-width="0.8999999999999999" opacity="0.5"/>
<polyline points="411.2,351.2 424.3,366.5 437.4,381.8 450.6,397.1 463.7,412.4 476.8,427.7 489.9,443.0 503.0,458.3 514.0,474.8" fill="none" stroke="#f02800" stroke-width="0.8999999999999999" opacity="0.5"/>
<polyline points="417.8,345.4 430.9,360.7 443.9,376.1 457.0,391.4 470.0,406.7 483.1,422.0 496.1,437.3 509.1,452.6 519.6,469.4" fill="none" stroke="#f02800" stroke-width="0.8999999999999999" opacity="0.5"/>
<polyline points="424.5,339.7 437.4,355.0 450.4,370.3 463.4,385.6 476.4,400.9 489.3,416.3 502.3,431.6 515.3,446.9 525.2,463.9" fill="none" stroke="#f02800" stroke-width="0.8999999999999999" opacity="0.5"/>
<polyline points="431.1,333.9 444.0,349.2 456.9,364.6 469.8,379.9 482.7,395.2 495.6,410.6 508.5,425.9 521.4,441.2 530.8,458.5" fill="none" stroke="#f02800" stroke-width="0.8999999999999999" opacity="0.5"/>
<polyline points="437.8,328.2 450.6,343.5 463.4,358.8 476.2,374.2 489.0,389.5 501.8,404.8 514.7,420.2 527.5,435.5 536.4,453.0" fill="none" stroke="#f02800" stroke-width="0.8999999999999999" opacity="0.5"/>
<polyline points="444.4,322.4 457.1,337.7 469.9,353.1 482.6,368.4 495.4,383.8 508.1,399.1 520.8,414.5 533.6,429.8 542.0,447.6" fill="none" stroke="#f02800" stroke-width="0.8999999999999999" opacity="0.5"/>
<polyline points="451.0,316.6 463.7,332.0 476.4,347.4 489.0,362.7 501.7,378.1 514.4,393.4 527.0,408.8 539.7,424.1 547.6,442.2" fill="none" stroke="#f02800" stroke-width="0.8999999999999999" opacity="0.5"/>
<polyline points="457.7,310.9 470.3,326.2 482.9,341.6 495.4,357.0 508.0,372.3 520.6,387.7 533.2,403.1 545.8,418.4 553.2,436.7" fill="none" stroke="#f02800" stroke-width="0.8999999999999999" opacity="0.5"/>
</g>
<clipPath id="cp4"><polygon points="461.0,308.0 515.0,255.0 515.0,255.0 516.0,256.1 517.0,257.3 518.1,258.4 519.1,259.6 520.1,260.7 521.1,261.8 522.0,263.0 523.0,264.1 524.0,265.3 525.4,267.0 526.9,268.7 528.3,270.4 529.7,272.1 531.1,273.9 532.5,275.6 533.8,277.3 535.2,279.0 536.5,280.7 537.8,282.5 539.1,284.2 540.4,285.9 541.7,287.6 542.9,289.4 544.2,291.1 545.4,292.8 546.6,294.6 547.8,296.3 549.0,298.0 550.2,299.8 551.3,301.5 552.5,303.2 553.6,305.0 554.7,306.7 555.8,308.5 556.9,310.2 558.0,311.9 559.0,313.7 560.1,315.4 561.1,317.2 562.1,318.9 563.1,320.7 564.1,322.4 565.1,324.2 566.0,325.9 567.0,327.7 567.9,329.4 568.8,331.2 569.7,332.9 570.6,334.7 571.4,336.4 572.3,338.2 573.0,340.2 573.6,342.3 574.4,344.2 575.2,346.2 576.1,348.0 577.0,349.9 578.0,351.7 579.1,353.5 580.2,355.3 581.4,357.0 582.7,358.6 584.0,360.3 585.4,361.9 586.9,363.5 588.4,365.0 590.0,366.5 589.6,368.7 589.2,370.9 589.0,373.0 588.9,375.2 588.8,377.4 588.8,379.5 589.0,381.7 589.2,383.9 589.6,386.0 589.9,388.1 590.5,390.3 591.0,392.4 591.5,393.8 592.0,395.2 592.5,396.7 593.2,398.1 593.8,399.5 594.4,400.9 594.4,400.9 593.5,400.9 592.3,401.0 590.9,401.0 589.3,401.1 587.6,401.1 585.9,401.2 584.4,401.4 583.0,401.6 581.7,401.8 580.5,402.1 579.4,402.5 578.2,402.8 577.1,403.2 576.1,403.6 575.0,404.1 574.0,404.6 573.0,405.2 572.1,405.7 571.2,406.4 570.3,407.1 569.4,407.8 568.6,408.5 567.8,409.2 567.0,410.0 566.2,410.8 565.5,411.6 564.8,412.4 564.1,413.2 563.5,414.1 562.8,415.0 562.3,415.9 561.7,416.8 561.2,417.8 560.7,418.7 560.3,419.7 559.9,420.8 559.6,421.8 559.2,422.9 558.9,423.9 558.5,425.0 558.1,426.1 557.8,427.4 557.4,428.7 557.1,430.0 556.7,431.2 556.4,432.4 556.2,433.3 556.0,434.0 556.0,434.0 555.5,432.6 555.0,431.2 554.5,429.8 554.0,428.3 553.5,426.9 553.0,425.5 552.5,424.1 552.0,422.7 551.5,421.2 551.0,419.8 550.5,418.4 550.0,417.0 549.0,415.8 548.1,414.7 547.1,413.5 546.2,412.3 545.2,411.2 544.3,410.0 543.3,408.8 542.4,407.7 541.4,406.5 540.5,405.3 539.5,404.2 538.6,403.0 537.6,401.8 536.7,400.7 535.7,399.5 534.8,398.3 533.8,397.2 532.9,396.0 531.9,394.8 531.0,393.7 530.0,392.5 529.0,391.3 528.1,390.2 527.1,389.0 526.2,387.8 525.2,386.7 524.3,385.5 523.3,384.3 522.4,383.2 521.4,382.0 520.5,380.8 519.5,379.7 518.6,378.5 517.6,377.3 516.7,376.2 515.7,375.0 514.8,373.8 513.8,372.7 512.9,371.5 511.9,370.3 511.0,369.2 510.0,368.0 509.0,366.8 508.1,365.6 507.1,364.5 506.2,363.3 505.2,362.1 504.2,360.9 503.3,359.8 502.3,358.6 501.4,357.4 500.4,356.2 499.4,355.1 498.5,353.9 497.5,352.7 496.5,351.5 495.6,350.4 494.6,349.2 493.7,348.0 492.7,346.8 491.7,345.6 490.8,344.5 489.8,343.3 488.9,342.1 487.9,340.9 486.9,339.8 486.0,338.6 485.0,337.4 484.1,336.2 483.1,335.1 482.1,333.9 481.2,332.7 480.2,331.5 479.3,330.4 478.3,329.2 477.3,328.0 476.4,326.8 475.4,325.6 474.5,324.5 473.5,323.3 472.5,322.1 471.6,320.9 470.6,319.8 469.6,318.6 468.7,317.4 467.7,316.2 466.8,315.1 465.8,313.9 464.8,312.7 463.9,311.5 462.9,310.4 462.0,309.2 461.0,308.0"/></clipPath>
<g clip-path="url(#cp4)" stroke-linecap="butt">
<polyline points="461.0,308.0 474.0,323.9" fill="none" stroke="#ff8c00" stroke-width="3.5" />
<polyline points="461.0,308.0 474.0,323.9" fill="none" stroke="#ff2800" stroke-width="1.47" />
<polyline points="473.1,322.9 486.5,339.2" fill="none" stroke="#ff8c00" stroke-width="3.5" />
<polyline points="473.1,322.9 486.5,339.2" fill="none" stroke="#ff2800" stroke-width="1.47" />
<polyline points="485.7,338.2 499.1,354.6" fill="none" stroke="#ff8c00" stroke-width="3.5" />
<polyline points="485.7,338.2 499.1,354.6" fill="none" stroke="#ff2800" stroke-width="1.47" />
<polyline points="498.3,353.6 511.6,370.0" fill="none" stroke="#ff8c00" stroke-width="3.5" />
<polyline points="498.3,353.6 511.6,370.0" fill="none" stroke="#ff2800" stroke-width="1.47" />
<polyline points="510.8,369.0 524.2,385.3" fill="none" stroke="#ff8c00" stroke-width="3.5" />
<polyline points="510.8,369.0 524.2,385.3" fill="none" stroke="#ff2800" stroke-width="1.47" />
<polyline points="523.4,384.4 536.7,400.7" fill="none" stroke="#ff8c00" stroke-width="3.5" />
<polyline points="523.4,384.4 536.7,400.7" fill="none" stroke="#ff2800" stroke-width="1.47" />
<polyline points="535.9,399.7 549.3,416.1" fill="none" stroke="#ff7f00" stroke-width="3.5" />
<polyline points="535.9,399.7 549.3,416.1" fill="none" stroke="#ff2800" stroke-width="1.47" />
<polyline points="548.5,415.1 556.0,434.0" fill="none" stroke="#ff6d00" stroke-width="3.5" />
<polyline points="548.5,415.1 556.0,434.0" fill="none" stroke="#ff2800" stroke-width="1.47" />
<polyline points="461.0,308.0 473.6,323.4 486.1,338.7 498.7,354.1 511.2,369.5 523.8,384.8 536.3,400.2 548.9,415.6 556.0,434.0" fill="none" stroke="#f02800" stroke-width="0.7" />
<polyline points="466.6,302.5 479.5,318.4" fill="none" stroke="#ffa000" stroke-width="3.5" />
<polyline points="466.6,302.5 479.5,318.4" fill="none" stroke="#ff3d00" stroke-width="1.47" />
<polyline points="478.7,317.4 491.9,333.9" fill="none" stroke="#ffa000" stroke-width="3.5" />
<polyline points="478.7,317.4 491.9,333.9" fill="none" stroke="#ff3d00" stroke-width="1.47" />
<polyline points="491.1,332.9 504.3,349.3" fill="none" stroke="#ffa000" stroke-width="3.5" />
<polyline points="491.1,332.9 504.3,349.3" fill="none" stroke="#ff3d00" stroke-width="1.47" />
<polyline points="503.6,348.3 516.8,364.8" fill="none" stroke="#ffa000" stroke-width="3.5" />
<polyline points="503.6,348.3 516.8,364.8" fill="none" stroke="#ff3d00" stroke-width="1.47" />
<polyline points="516.0,363.8 529.2,380.2" fill="none" stroke="#ffa000" stroke-width="3.5" />
<polyline points="516.0,363.8 529.2,380.2" fill="none" stroke="#ff3d00" stroke-width="1.47" />
<polyline points="528.4,379.2 541.7,395.7" fill="none" stroke="#ffa000" stroke-width="3.5" />
<polyline points="528.4,379.2 541.7,395.7" fill="none" stroke="#ff3d00" stroke-width="1.47" />
<polyline points="540.9,394.7 554.1,411.1" fill="none" stroke="#ff9300" stroke-width="3.5" />
<polyline points="540.9,394.7 554.1,411.1" fill="none" stroke="#ff3000" stroke-width="1.47" />
<polyline points="553.3,410.1 561.3,428.8" fill="none" stroke="#ff8200" stroke-width="3.5" />
<polyline points="553.3,410.1 561.3,428.8" fill="none" stroke="#ff2800" stroke-width="1.47" />
<polyline points="466.6,302.5 479.1,317.9 491.5,333.4 504.0,348.8 516.4,364.3 528.8,379.7 541.3,395.2 553.7,410.6 561.3,428.8" fill="none" stroke="#f02800" stroke-width="0.7" />
<polyline points="472.2,297.0 485.0,313.0" fill="none" stroke="#eeef00" stroke-width="3.5" />
<polyline points="472.2,297.0 485.0,313.0" fill="none" stroke="#ffa000" stroke-width="1.47" />
<polyline points="484.2,312.0 497.3,328.5" fill="none" stroke="#ffda00" stroke-width="3.5" />
<polyline points="484.2,312.0 497.3,328.5" fill="none" stroke="#ff7700" stroke-width="1.47" />
<polyline points="496.5,327.5 509.6,344.0" fill="none" stroke="#ffb500" stroke-width="3.5" />
<polyline points="496.5,327.5 509.6,344.0" fill="none" stroke="#ff5200" stroke-width="1.47" />
<polyline points="508.9,343.0 522.0,359.6" fill="none" stroke="#ffb500" stroke-width="3.5" />
<polyline points="508.9,343.0 522.0,359.6" fill="none" stroke="#ff5200" stroke-width="1.47" />
<polyline points="521.2,358.6 534.3,375.1" fill="none" stroke="#ffb500" stroke-width="3.5" />
<polyline points="521.2,358.6 534.3,375.1" fill="none" stroke="#ff5200" stroke-width="1.47" />
<polyline points="533.5,374.1 546.6,390.6" fill="none" stroke="#ffb500" stroke-width="3.5" />
<polyline points="533.5,374.1 546.6,390.6" fill="none" stroke="#ff5200" stroke-width="1.47" />
<polyline points="545.8,389.6 559.0,406.1" fill="none" stroke="#ffa800" stroke-width="3.5" />
<polyline points="545.8,389.6 559.0,406.1" fill="none" stroke="#ff4400" stroke-width="1.47" />
<polyline points="558.2,405.2 566.6,423.6" fill="none" stroke="#ff9600" stroke-width="3.5" />
<polyline points="558.2,405.2 566.6,423.6" fill="none" stroke="#ff3300" stroke-width="1.47" />
<polyline points="472.2,297.0 484.6,312.5 496.9,328.0 509.2,343.5 521.6,359.1 533.9,374.6 546.2,390.1 558.6,405.7 566.6,423.6" fill="none" stroke="#f02800" stroke-width="0.7" />
<polyline points="477.9,291.4 490.5,307.5" fill="none" stroke="#95ef00" stroke-width="3.5" />
<polyline points="477.9,291.4 490.5,307.5" fill="none" stroke="#f5ee00" stroke-width="1.47" />
<polyline points="489.7,306.5 502.7,323.1" fill="none" stroke="#c5f000" stroke-width="3.5" />
<polyline points="489.7,306.5 502.7,323.1" fill="none" stroke="#ffd200" stroke-width="1.47" />
<polyline points="501.9,322.1 514.9,338.8" fill="none" stroke="#e4ef00" stroke-width="3.5" />
<polyline points="501.9,322.1 514.9,338.8" fill="none" stroke="#ffad00" stroke-width="1.47" />
<polyline points="514.2,337.8 527.2,354.4" fill="none" stroke="#e4ef00" stroke-width="3.5" />
<polyline points="514.2,337.8 527.2,354.4" fill="none" stroke="#ffad00" stroke-width="1.47" />
<polyline points="526.4,353.4 539.4,370.0" fill="none" stroke="#e4ef00" stroke-width="3.5" />
<polyline points="526.4,353.4 539.4,370.0" fill="none" stroke="#ffad00" stroke-width="1.47" />
<polyline points="538.6,369.0 551.6,385.6" fill="none" stroke="#e4ef00" stroke-width="3.5" />
<polyline points="538.6,369.0 551.6,385.6" fill="none" stroke="#ffad00" stroke-width="1.47" />
<polyline points="550.8,384.6 563.8,401.2" fill="none" stroke="#ffe800" stroke-width="3.5" />
<polyline points="550.8,384.6 563.8,401.2" fill="none" stroke="#ff8600" stroke-width="1.47" />
<polyline points="563.0,400.2 571.9,418.4" fill="none" stroke="#ffb400" stroke-width="3.5" />
<polyline points="563.0,400.2 571.9,418.4" fill="none" stroke="#ff5100" stroke-width="1.47" />
<polyline points="477.9,291.4 490.1,307.0 502.3,322.6 514.5,338.3 526.8,353.9 539.0,369.5 551.2,385.1 563.4,400.7 571.9,418.4" fill="none" stroke="#f02800" stroke-width="0.7" />
<polyline points="483.5,285.9 496.0,302.1" fill="none" stroke="#6eed00" stroke-width="3.5" />
<polyline points="483.5,285.9 496.0,302.1" fill="none" stroke="#dbef00" stroke-width="1.47" />
<polyline points="495.2,301.1 508.1,317.8" fill="none" stroke="#a2ef00" stroke-width="3.5" />
<polyline points="495.2,301.1 508.1,317.8" fill="none" stroke="#fdee00" stroke-width="1.47" />
<polyline points="507.3,316.8 520.2,333.5" fill="none" stroke="#caf000" stroke-width="3.5" />
<polyline points="507.3,316.8 520.2,333.5" fill="none" stroke="#ffcc00" stroke-width="1.47" />
<polyline points="519.5,332.5 532.3,349.2" fill="none" stroke="#caf000" stroke-width="3.5" />
<polyline points="519.5,332.5 532.3,349.2" fill="none" stroke="#ffcc00" stroke-width="1.47" />
<polyline points="531.6,348.2 544.5,364.8" fill="none" stroke="#caf000" stroke-width="3.5" />
<polyline points="531.6,348.2 544.5,364.8" fill="none" stroke="#ffcc00" stroke-width="1.47" />
<polyline points="543.7,363.8 556.6,380.5" fill="none" stroke="#caf000" stroke-width="3.5" />
<polyline points="543.7,363.8 556.6,380.5" fill="none" stroke="#ffcc00" stroke-width="1.47" />
<polyline points="555.8,379.5 568.7,396.2" fill="none" stroke="#eaef00" stroke-width="3.5" />
<polyline points="555.8,379.5 568.7,396.2" fill="none" stroke="#ffa500" stroke-width="1.47" />
<polyline points="567.9,395.2 577.2,413.2" fill="none" stroke="#ffd200" stroke-width="3.5" />
<polyline points="567.9,395.2 577.2,413.2" fill="none" stroke="#ff7000" stroke-width="1.47" />
<polyline points="483.5,285.9 495.6,301.6 507.7,317.3 519.8,333.0 532.0,348.7 544.1,364.3 556.2,380.0 568.3,395.7 577.2,413.2" fill="none" stroke="#f02800" stroke-width="0.7" />
<polyline points="489.1,280.4 501.5,296.7" fill="none" stroke="#47ec00" stroke-width="3.5" />
<polyline points="489.1,280.4 501.5,296.7" fill="none" stroke="#c2f000" stroke-width="1.47" />
<polyline points="500.7,295.7 513.5,312.4" fill="none" stroke="#7bee00" stroke-width="3.5" />
<polyline points="500.7,295.7 513.5,312.4" fill="none" stroke="#e4ef00" stroke-width="1.47" />
<polyline points="512.7,311.4 525.5,328.2" fill="none" stroke="#aaef00" stroke-width="3.5" />
<polyline points="512.7,311.4 525.5,328.2" fill="none" stroke="#ffea00" stroke-width="1.47" />
<polyline points="524.8,327.2 537.5,344.0" fill="none" stroke="#aaef00" stroke-width="3.5" />
<polyline points="524.8,327.2 537.5,344.0" fill="none" stroke="#ffea00" stroke-width="1.47" />
<polyline points="536.8,342.9 549.5,359.7" fill="none" stroke="#aaef00" stroke-width="3.5" />
<polyline points="536.8,342.9 549.5,359.7" fill="none" stroke="#ffea00" stroke-width="1.47" />
<polyline points="548.8,358.7 561.5,375.5" fill="none" stroke="#aaef00" stroke-width="3.5" />
<polyline points="548.8,358.7 561.5,375.5" fill="none" stroke="#ffea00" stroke-width="1.47" />
<polyline points="560.8,374.5 573.5,391.2" fill="none" stroke="#d1ef00" stroke-width="3.5" />
<polyline points="560.8,374.5 573.5,391.2" fill="none" stroke="#ffc300" stroke-width="1.47" />
<polyline points="572.8,390.2 582.6,408.0" fill="none" stroke="#fdee00" stroke-width="3.5" />
<polyline points="572.8,390.2 582.6,408.0" fill="none" stroke="#ff8f00" stroke-width="1.47" />
<polyline points="489.1,280.4 501.1,296.2 513.1,311.9 525.1,327.7 537.1,343.4 549.1,359.2 561.1,375.0 573.1,390.7 582.6,408.0" fill="none" stroke="#f02800" stroke-width="0.7" />
<polyline points="494.8,274.9 507.0,291.2" fill="none" stroke="#28eb00" stroke-width="3.5" />
<polyline points="494.8,274.9 507.0,291.2" fill="none" stroke="#9def00" stroke-width="1.47" />
<polyline points="506.3,290.2 518.9,307.1" fill="none" stroke="#54ec00" stroke-width="3.5" />
<polyline points="506.3,290.2 518.9,307.1" fill="none" stroke="#caf000" stroke-width="1.47" />
<polyline points="518.2,306.1 530.8,322.9" fill="none" stroke="#83ee00" stroke-width="3.5" />
<polyline points="518.2,306.1 530.8,322.9" fill="none" stroke="#e9ef00" stroke-width="1.47" />
<polyline points="530.1,321.9 542.7,338.7" fill="none" stroke="#83ee00" stroke-width="3.5" />
<polyline points="530.1,321.9 542.7,338.7" fill="none" stroke="#e9ef00" stroke-width="1.47" />
<polyline points="541.9,337.7 554.6,354.6" fill="none" stroke="#83ee00" stroke-width="3.5" />
<polyline points="541.9,337.7 554.6,354.6" fill="none" stroke="#e9ef00" stroke-width="1.47" />
<polyline points="553.8,353.6 566.5,370.4" fill="none" stroke="#83ee00" stroke-width="3.5" />
<polyline points="553.8,353.6 566.5,370.4" fill="none" stroke="#e9ef00" stroke-width="1.47" />
<polyline points="565.7,369.4 578.4,386.3" fill="none" stroke="#b4f000" stroke-width="3.5" />
<polyline points="565.7,369.4 578.4,386.3" fill="none" stroke="#ffe200" stroke-width="1.47" />
<polyline points="577.6,385.3 587.9,402.8" fill="none" stroke="#e3ef00" stroke-width="3.5" />
<polyline points="577.6,385.3 587.9,402.8" fill="none" stroke="#ffad00" stroke-width="1.47" />
<polyline points="494.8,274.9 506.6,290.7 518.5,306.6 530.4,322.4 542.3,338.2 554.2,354.1 566.1,369.9 578.0,385.8 587.9,402.8" fill="none" stroke="#f02800" stroke-width="0.7" />
<polyline points="500.4,269.4 512.5,285.8" fill="none" stroke="#28eb00" stroke-width="3.5" />
<polyline points="500.4,269.4 512.5,285.8" fill="none" stroke="#76ee00" stroke-width="1.47" />
<polyline points="511.8,284.8 524.3,301.7" fill="none" stroke="#2deb00" stroke-width="3.5" />
<polyline points="511.8,284.8 524.3,301.7" fill="none" stroke="#aaef00" stroke-width="1.47" />
<polyline points="523.6,300.7 536.1,317.6" fill="none" stroke="#5ced00" stroke-width="3.5" />
<polyline points="523.6,300.7 536.1,317.6" fill="none" stroke="#cfef00" stroke-width="1.47" />
<polyline points="535.4,316.6 547.9,333.5" fill="none" stroke="#5ced00" stroke-width="3.5" />
<polyline points="535.4,316.6 547.9,333.5" fill="none" stroke="#cfef00" stroke-width="1.47" />
<polyline points="547.1,332.5 559.7,349.5" fill="none" stroke="#5ced00" stroke-width="3.5" />
<polyline points="547.1,332.5 559.7,349.5" fill="none" stroke="#cfef00" stroke-width="1.47" />
<polyline points="558.9,348.4 571.5,365.4" fill="none" stroke="#5ced00" stroke-width="3.5" />
<polyline points="558.9,348.4 571.5,365.4" fill="none" stroke="#cfef00" stroke-width="1.47" />
<polyline points="570.7,364.4 583.2,381.3" fill="none" stroke="#8dee00" stroke-width="3.5" />
<polyline points="570.7,364.4 583.2,381.3" fill="none" stroke="#efee00" stroke-width="1.47" />
<polyline points="582.5,380.3 593.2,397.5" fill="none" stroke="#caf000" stroke-width="3.5" />
<polyline points="582.5,380.3 593.2,397.5" fill="none" stroke="#ffcc00" stroke-width="1.47" />
<polyline points="500.4,269.4 512.2,285.3 523.9,301.2 535.7,317.1 547.5,333.0 559.3,349.0 571.1,364.9 582.9,380.8 593.2,397.5" fill="none" stroke="#f02800" stroke-width="0.7" />
<polyline points="506.0,263.8 518.0,280.3" fill="none" stroke="#28eb00" stroke-width="3.5" />
<polyline points="506.0,263.8 518.0,280.3" fill="none" stroke="#5aed00" stroke-width="1.47" />
<polyline points="517.3,279.3 529.7,296.3" fill="none" stroke="#28eb00" stroke-width="3.5" />
<polyline points="517.3,279.3 529.7,296.3" fill="none" stroke="#83ee00" stroke-width="1.47" />
<polyline points="529.0,295.3 541.4,312.3" fill="none" stroke="#34eb00" stroke-width="3.5" />
<polyline points="529.0,295.3 541.4,312.3" fill="none" stroke="#b1f000" stroke-width="1.47" />
<polyline points="540.7,311.3 553.1,328.3" fill="none" stroke="#34eb00" stroke-width="3.5" />
<polyline points="540.7,311.3 553.1,328.3" fill="none" stroke="#b1f000" stroke-width="1.47" />
<polyline points="552.3,327.3 564.7,344.3" fill="none" stroke="#34eb00" stroke-width="3.5" />
<polyline points="552.3,327.3 564.7,344.3" fill="none" stroke="#b1f000" stroke-width="1.47" />
<polyline points="564.0,343.3 576.4,360.3" fill="none" stroke="#34eb00" stroke-width="3.5" />
<polyline points="564.0,343.3 576.4,360.3" fill="none" stroke="#b1f000" stroke-width="1.47" />
<polyline points="575.7,359.3 588.1,376.3" fill="none" stroke="#66ed00" stroke-width="3.5" />
<polyline points="575.7,359.3 588.1,376.3" fill="none" stroke="#d6ef00" stroke-width="1.47" />
<polyline points="587.4,375.3 598.5,392.3" fill="none" stroke="#a9ef00" stroke-width="3.5" />
<polyline points="587.4,375.3 598.5,392.3" fill="none" stroke="#ffeb00" stroke-width="1.47" />
<polyline points="506.0,263.8 517.7,279.8 529.4,295.8 541.0,311.8 552.7,327.8 564.4,343.8 576.1,359.8 587.7,375.8 598.5,392.3" fill="none" stroke="#f02800" stroke-width="0.7" />
<polyline points="511.6,258.3 523.6,274.9" fill="none" stroke="#28eb00" stroke-width="3.5" />
<polyline points="511.6,258.3 523.6,274.9" fill="none" stroke="#5aed00" stroke-width="1.47" />
<polyline points="522.8,273.9 535.1,291.0" fill="none" stroke="#28eb00" stroke-width="3.5" />
<polyline points="522.8,273.9 535.1,291.0" fill="none" stroke="#5ced00" stroke-width="1.47" />
<polyline points="534.4,290.0 546.7,307.1" fill="none" stroke="#28eb00" stroke-width="3.5" />
<polyline points="534.4,290.0 546.7,307.1" fill="none" stroke="#8aee00" stroke-width="1.47" />
<polyline points="546.0,306.0 558.3,323.1" fill="none" stroke="#28eb00" stroke-width="3.5" />
<polyline points="546.0,306.0 558.3,323.1" fill="none" stroke="#8aee00" stroke-width="1.47" />
<polyline points="557.5,322.1 569.8,339.2" fill="none" stroke="#28eb00" stroke-width="3.5" />
<polyline points="557.5,322.1 569.8,339.2" fill="none" stroke="#8aee00" stroke-width="1.47" />
<polyline points="569.1,338.2 581.4,355.3" fill="none" stroke="#28eb00" stroke-width="3.5" />
<polyline points="569.1,338.2 581.4,355.3" fill="none" stroke="#8aee00" stroke-width="1.47" />
<polyline points="580.6,354.3 593.0,371.4" fill="none" stroke="#3fec00" stroke-width="3.5" />
<polyline points="580.6,354.3 593.0,371.4" fill="none" stroke="#bcf000" stroke-width="1.47" />
<polyline points="592.2,370.3 603.8,387.1" fill="none" stroke="#82ee00" stroke-width="3.5" />
<polyline points="592.2,370.3 603.8,387.1" fill="none" stroke="#e8ef00" stroke-width="1.47" />
<polyline points="511.6,258.3 523.2,274.4 534.8,290.5 546.3,306.5 557.9,322.6 569.5,338.7 581.0,354.8 592.6,370.9 603.8,387.1" fill="none" stroke="#f02800" stroke-width="0.7" />
<polyline points="461.0,308.0 488.0,281.5 515.0,255.0" fill="none" stroke="#708000" stroke-width="2.3" />
<polyline points="461.0,308.0 488.0,281.5 515.0,255.0" fill="none" stroke="#2a2a00" stroke-width="0.9" />
<polyline points="467.7,316.2 494.4,289.9 521.1,263.6" fill="none" stroke="#708000" stroke-width="2.3" />
<polyline points="467.7,316.2 494.4,289.9 521.1,263.6" fill="none" stroke="#2a2a00" stroke-width="0.9" />
<polyline points="474.4,324.4 500.8,298.3 527.3,272.2" fill="none" stroke="#20e400" stroke-width="2.3" />
<polyline points="474.4,324.4 500.8,298.3 527.3,272.2" fill="none" stroke="#2a2a00" stroke-width="0.9" />
<polyline points="481.1,332.6 507.2,306.7 533.4,280.8" fill="none" stroke="#20e400" stroke-width="2.3" />
<polyline points="481.1,332.6 507.2,306.7 533.4,280.8" fill="none" stroke="#2a2a00" stroke-width="0.9" />
<polyline points="487.8,340.8 513.7,315.1 539.5,289.4" fill="none" stroke="#20e400" stroke-width="2.3" />
<polyline points="487.8,340.8 513.7,315.1 539.5,289.4" fill="none" stroke="#2a2a00" stroke-width="0.9" />
<polyline points="494.5,349.0 520.1,323.5 545.7,298.0" fill="none" stroke="#20e400" stroke-width="2.3" />
<polyline points="494.5,349.0 520.1,323.5 545.7,298.0" fill="none" stroke="#2a2a00" stroke-width="0.9" />
<polyline points="501.2,357.2 526.5,331.9 551.8,306.6" fill="none" stroke="#20e400" stroke-width="2.3" />
<polyline points="501.2,357.2 526.5,331.9 551.8,306.6" fill="none" stroke="#2a2a00" stroke-width="0.9" />
<polyline points="507.9,365.4 532.9,340.3 557.9,315.2" fill="none" stroke="#20e400" stroke-width="2.3" />
<polyline points="507.9,365.4 532.9,340.3 557.9,315.2" fill="none" stroke="#2a2a00" stroke-width="0.9" />
<polyline points="514.6,373.6 539.3,348.7 564.1,323.8" fill="none" stroke="#20e400" stroke-width="2.3" />
<polyline points="514.6,373.6 539.3,348.7 564.1,323.8" fill="none" stroke="#2a2a00" stroke-width="0.9" />
<polyline points="521.2,381.8 545.7,357.1 570.2,332.4" fill="none" stroke="#20e400" stroke-width="2.3" />
<polyline points="521.2,381.8 545.7,357.1 570.2,332.4" fill="none" stroke="#2a2a00" stroke-width="0.9" />
<polyline points="527.9,390.0 552.1,365.5 576.3,341.0" fill="none" stroke="#20e400" stroke-width="2.3" />
<polyline points="527.9,390.0 552.1,365.5 576.3,341.0" fill="none" stroke="#2a2a00" stroke-width="0.9" />
<polyline points="534.6,398.2 558.5,373.9 582.5,349.6" fill="none" stroke="#20e400" stroke-width="2.3" />
<polyline points="534.6,398.2 558.5,373.9 582.5,349.6" fill="none" stroke="#2a2a00" stroke-width="0.9" />
<polyline points="541.3,406.4 565.0,382.3 588.6,358.2" fill="none" stroke="#20e400" stroke-width="2.3" />
<polyline points="541.3,406.4 565.0,382.3 588.6,358.2" fill="none" stroke="#2a2a00" stroke-width="0.9" />
<polyline points="548.0,414.6 571.4,390.7 594.7,366.8" fill="none" stroke="#20e400" stroke-width="2.3" />
<polyline points="548.0,414.6 571.4,390.7 594.7,366.8" fill="none" stroke="#2a2a00" stroke-width="0.9" />
<polyline points="552.5,424.0 576.7,399.7 600.9,375.4" fill="none" stroke="#20e400" stroke-width="2.3" />
<polyline points="552.5,424.0 576.7,399.7 600.9,375.4" fill="none" stroke="#2a2a00" stroke-width="0.9" />
<polyline points="556.0,434.0 581.5,409.0 607.0,384.0" fill="none" stroke="#20e400" stroke-width="2.3" />
<polyline points="556.0,434.0 581.5,409.0 607.0,384.0" fill="none" stroke="#2a2a00" stroke-width="0.9" />
<polyline points="461.0,308.0 473.6,323.4 486.1,338.7 498.7,354.1 511.2,369.5 523.8,384.8 536.3,400.2 548.9,415.6 556.0,434.0" fill="none" stroke="#f02800" stroke-width="0.8999999999999999" opacity="0.5"/>
<polyline points="466.6,302.5 479.1,317.9 491.5,333.4 504.0,348.8 516.4,364.3 528.8,379.7 541.3,395.2 553.7,410.6 561.3,428.8" fill="none" stroke="#f02800" stroke-width="0.8999999999999999" opacity="0.5"/>
<polyline points="472.2,297.0 484.6,312.5 496.9,328.0 509.2,343.5 521.6,359.1 533.9,374.6 546.2,390.1 558.6,405.7 566.6,423.6" fill="none" stroke="#f02800" stroke-width="0.8999999999999999" opacity="0.5"/>
<polyline points="477.9,291.4 490.1,307.0 502.3,322.6 514.5,338.3 526.8,353.9 539.0,369.5 551.2,385.1 563.4,400.7 571.9,418.4" fill="none" stroke="#f02800" stroke-width="0.8999999999999999" opacity="0.5"/>
<polyline points="483.5,285.9 495.6,301.6 507.7,317.3 519.8,333.0 532.0,348.7 544.1,364.3 556.2,380.0 568.3,395.7 577.2,413.2" fill="none" stroke="#f02800" stroke-width="0.8999999999999999" opacity="0.5"/>
<polyline points="489.1,280.4 501.1,296.2 513.1,311.9 525.1,327.7 537.1,343.4 549.1,359.2 561.1,375.0 573.1,390.7 582.6,408.0" fill="none" stroke="#f02800" stroke-width="0.8999999999999999" opacity="0.5"/>
<polyline points="494.8,274.9 506.6,290.7 518.5,306.6 530.4,322.4 542.3,338.2 554.2,354.1 566.1,369.9 578.0,385.8 587.9,402.8" fill="none" stroke="#f02800" stroke-width="0.8999999999999999" opacity="0.5"/>
<polyline points="500.4,269.4 512.2,285.3 523.9,301.2 535.7,317.1 547.5,333.0 559.3,349.0 571.1,364.9 582.9,380.8 593.2,397.5" fill="none" stroke="#f02800" stroke-width="0.8999999999999999" opacity="0.5"/>
<polyline points="506.0,263.8 517.7,279.8 529.4,295.8 541.0,311.8 552.7,327.8 564.4,343.8 576.1,359.8 587.7,375.8 598.5,392.3" fill="none" stroke="#f02800" stroke-width="0.8999999999999999" opacity="0.5"/>
<polyline points="511.6,258.3 523.2,274.4 534.8,290.5 546.3,306.5 557.9,322.6 569.5,338.7 581.0,354.8 592.6,370.9 603.8,387.1" fill="none" stroke="#f02800" stroke-width="0.8999999999999999" opacity="0.5"/>
</g>
<clipPath id="cp5"><polygon points="271.0,380.0 378.0,380.0 486.0,502.0"/></clipPath>
<g clip-path="url(#cp5)">
<polyline points="281.6,380.3 496.6,502.3" fill="none" stroke="#800018" stroke-width="1.2" />
<polyline points="274.3,380.3 489.3,502.3" fill="none" stroke="#ffa0a0" stroke-width="0.35" />
<polyline points="296.2,380.3 511.2,502.3" fill="none" stroke="#800018" stroke-width="1.2" />
<polyline points="288.9,380.3 503.9,502.3" fill="none" stroke="#ffa0a0" stroke-width="0.35" />
<polyline points="310.8,380.3 525.8,502.3" fill="none" stroke="#800018" stroke-width="1.2" />
<polyline points="303.5,380.3 518.5,502.3" fill="none" stroke="#ffa0a0" stroke-width="0.35" />
<polyline points="325.4,380.3 540.4,502.3" fill="none" stroke="#800018" stroke-width="1.2" />
<polyline points="318.1,380.3 533.1,502.3" fill="none" stroke="#ffa0a0" stroke-width="0.35" />
<polyline points="340.0,380.3 555.0,502.3" fill="none" stroke="#800018" stroke-width="1.2" />
<polyline points="332.7,380.3 547.7,502.3" fill="none" stroke="#ffa0a0" stroke-width="0.35" />
<polyline points="354.6,380.3 569.6,502.3" fill="none" stroke="#800018" stroke-width="1.2" />
<polyline points="347.3,380.3 562.3,502.3" fill="none" stroke="#ffa0a0" stroke-width="0.35" />
<polyline points="369.2,380.3 584.2,502.3" fill="none" stroke="#800018" stroke-width="1.2" />
<polyline points="361.9,380.3 576.9,502.3" fill="none" stroke="#ffa0a0" stroke-width="0.35" />
<polyline points="285.6,378.0 285.6,520.0" fill="none" stroke="#6cc400" stroke-width="2.5" />
<polyline points="285.6,378.0 285.6,520.0" fill="none" stroke="#a06000" stroke-width="0.7" />
<polyline points="293.5,378.0 293.5,520.0" fill="none" stroke="#6cc400" stroke-width="2.5" />
<polyline points="293.5,378.0 293.5,520.0" fill="none" stroke="#a06000" stroke-width="0.7" />
<polyline points="301.4,378.0 301.4,520.0" fill="none" stroke="#6cc400" stroke-width="2.5" />
<polyline points="301.4,378.0 301.4,520.0" fill="none" stroke="#a06000" stroke-width="0.7" />
<polyline points="309.3,378.0 309.3,520.0" fill="none" stroke="#6cc400" stroke-width="2.5" />
<polyline points="309.3,378.0 309.3,520.0" fill="none" stroke="#a06000" stroke-width="0.7" />
<polyline points="317.2,378.0 317.2,520.0" fill="none" stroke="#6cc400" stroke-width="2.5" />
<polyline points="317.2,378.0 317.2,520.0" fill="none" stroke="#a06000" stroke-width="0.7" />
<polyline points="325.1,378.0 325.1,520.0" fill="none" stroke="#6cc400" stroke-width="2.5" />
<polyline points="325.1,378.0 325.1,520.0" fill="none" stroke="#a06000" stroke-width="0.7" />
<polyline points="333.0,378.0 333.0,520.0" fill="none" stroke="#6cc400" stroke-width="2.5" />
<polyline points="333.0,378.0 333.0,520.0" fill="none" stroke="#a06000" stroke-width="0.7" />
<polyline points="340.9,378.0 340.9,520.0" fill="none" stroke="#6cc400" stroke-width="2.5" />
<polyline points="340.9,378.0 340.9,520.0" fill="none" stroke="#a06000" stroke-width="0.7" />
<polyline points="348.8,378.0 348.8,520.0" fill="none" stroke="#6cc400" stroke-width="2.5" />
<polyline points="348.8,378.0 348.8,520.0" fill="none" stroke="#a06000" stroke-width="0.7" />
<polyline points="356.7,378.0 356.7,520.0" fill="none" stroke="#6cc400" stroke-width="2.5" />
<polyline points="356.7,378.0 356.7,520.0" fill="none" stroke="#a06000" stroke-width="0.7" />
<polyline points="364.6,378.0 364.6,520.0" fill="none" stroke="#6cc400" stroke-width="2.5" />
<polyline points="364.6,378.0 364.6,520.0" fill="none" stroke="#a06000" stroke-width="0.7" />
<polyline points="372.5,378.0 372.5,520.0" fill="none" stroke="#6cc400" stroke-width="2.5" />
<polyline points="372.5,378.0 372.5,520.0" fill="none" stroke="#a06000" stroke-width="0.7" />
<polyline points="380.4,378.0 380.4,520.0" fill="none" stroke="#6cc400" stroke-width="2.5" />
<polyline points="380.4,378.0 380.4,520.0" fill="none" stroke="#a06000" stroke-width="0.7" />
<polyline points="388.3,378.0 388.3,520.0" fill="none" stroke="#6cc400" stroke-width="2.5" />
<polyline points="388.3,378.0 388.3,520.0" fill="none" stroke="#a06000" stroke-width="0.7" />
<polyline points="396.2,378.0 396.2,520.0" fill="none" stroke="#6cc400" stroke-width="2.5" />
<polyline points="396.2,378.0 396.2,520.0" fill="none" stroke="#a06000" stroke-width="0.7" />
<polyline points="404.1,378.0 404.1,520.0" fill="none" stroke="#6cc400" stroke-width="2.5" />
<polyline points="404.1,378.0 404.1,520.0" fill="none" stroke="#a06000" stroke-width="0.7" />
<polyline points="412.0,378.0 412.0,520.0" fill="none" stroke="#6cc400" stroke-width="2.5" />
<polyline points="412.0,378.0 412.0,520.0" fill="none" stroke="#a06000" stroke-width="0.7" />
<polyline points="419.9,378.0 419.9,520.0" fill="none" stroke="#6cc400" stroke-width="2.5" />
<polyline points="419.9,378.0 419.9,520.0" fill="none" stroke="#a06000" stroke-width="0.7" />
<polyline points="427.8,378.0 427.8,520.0" fill="none" stroke="#6cc400" stroke-width="2.5" />
<polyline points="427.8,378.0 427.8,520.0" fill="none" stroke="#a06000" stroke-width="0.7" />
<polyline points="435.7,378.0 435.7,520.0" fill="none" stroke="#6cc400" stroke-width="2.5" />
<polyline points="435.7,378.0 435.7,520.0" fill="none" stroke="#a06000" stroke-width="0.7" />
<polyline points="443.6,378.0 443.6,520.0" fill="none" stroke="#6cc400" stroke-width="2.5" />
<polyline points="443.6,378.0 443.6,520.0" fill="none" stroke="#a06000" stroke-width="0.7" />
<polyline points="451.5,378.0 451.5,520.0" fill="none" stroke="#6cc400" stroke-width="2.5" />
<polyline points="451.5,378.0 451.5,520.0" fill="none" stroke="#a06000" stroke-width="0.7" />
<polyline points="459.4,378.0 459.4,520.0" fill="none" stroke="#6cc400" stroke-width="2.5" />
<polyline points="459.4,378.0 459.4,520.0" fill="none" stroke="#a06000" stroke-width="0.7" />
<polyline points="467.3,378.0 467.3,520.0" fill="none" stroke="#6cc400" stroke-width="2.5" />
<polyline points="467.3,378.0 467.3,520.0" fill="none" stroke="#a06000" stroke-width="0.7" />
<polyline points="475.2,378.0 475.2,520.0" fill="none" stroke="#6cc400" stroke-width="2.5" />
<polyline points="475.2,378.0 475.2,520.0" fill="none" stroke="#a06000" stroke-width="0.7" />
<polyline points="483.1,378.0 483.1,520.0" fill="none" stroke="#6cc400" stroke-width="2.5" />
<polyline points="483.1,378.0 483.1,520.0" fill="none" stroke="#a06000" stroke-width="0.7" />
</g>
<polyline points="271.0,380.0 486.0,502.0" fill="none" stroke="#ff5050" stroke-width="0.7" />
<path d="M290.0 390.8 V401.8" stroke="#33dd33" stroke-width="1.1" fill="none"/>
<path d="M290.0 403.3 l-1.6 -4 h3.2 z" fill="#30d030"/>
<path d="M309.6 401.9 V412.9" stroke="#33dd33" stroke-width="1.1" fill="none"/>
<path d="M309.6 414.4 l-1.6 -4 h3.2 z" fill="#30d030"/>
<path d="M329.1 413.0 V424.0" stroke="#33dd33" stroke-width="1.1" fill="none"/>
<path d="M329.1 425.5 l-1.6 -4 h3.2 z" fill="#30d030"/>
<path d="M348.6 424.1 V435.1" stroke="#33dd33" stroke-width="1.1" fill="none"/>
<path d="M348.6 436.6 l-1.6 -4 h3.2 z" fill="#30d030"/>
<path d="M368.2 435.2 V446.2" stroke="#33dd33" stroke-width="1.1" fill="none"/>
<path d="M368.2 447.7 l-1.6 -4 h3.2 z" fill="#30d030"/>
<path d="M387.8 446.2 V457.2" stroke="#33dd33" stroke-width="1.1" fill="none"/>
<path d="M387.8 458.7 l-1.6 -4 h3.2 z" fill="#30d030"/>
<path d="M407.3 457.3 V468.3" stroke="#33dd33" stroke-width="1.1" fill="none"/>
<path d="M407.3 469.8 l-1.6 -4 h3.2 z" fill="#30d030"/>
<path d="M426.9 468.4 V479.4" stroke="#33dd33" stroke-width="1.1" fill="none"/>
<path d="M426.9 480.9 l-1.6 -4 h3.2 z" fill="#30d030"/>
<path d="M446.4 479.5 V490.5" stroke="#33dd33" stroke-width="1.1" fill="none"/>
<path d="M446.4 492.0 l-1.6 -4 h3.2 z" fill="#30d030"/>
<path d="M466.0 490.6 V501.6" stroke="#33dd33" stroke-width="1.1" fill="none"/>
<path d="M466.0 503.1 l-1.6 -4 h3.2 z" fill="#30d030"/>
<polyline points="339.7,306.8 341.2,306.1 342.8,305.5 344.4,304.8 346.0,304.2 347.5,303.5 349.1,302.9 351.3,302.1 353.6,302.0 355.1,302.1 356.6,302.1 358.1,302.1 359.6,302.2 361.1,302.2 362.6,302.2 364.1,302.3 365.6,302.3 367.1,302.3 368.6,302.3 370.1,302.4 371.6,302.4 373.1,302.4 374.6,302.5 376.1,302.5 377.6,302.5 379.1,302.6 380.6,302.6 382.1,302.6 383.6,302.7 385.1,302.7 386.6,302.7 388.1,302.8 389.6,302.8 391.1,302.8 392.6,302.8 394.1,302.9 395.6,302.9 397.1,302.9 398.6,303.0 400.1,303.0 401.6,303.0 403.1,303.1 404.7,303.1 406.2,303.2 407.7,303.2 409.2,303.2 410.8,303.3 412.3,303.3 413.8,303.3 415.3,303.4 416.9,303.4 418.4,303.5 419.9,303.5 421.4,303.5 423.0,303.6 424.5,303.6 426.0,303.6 427.5,303.7 429.1,303.7 430.6,303.8 432.1,303.8 433.6,303.8 435.2,303.9 436.7,303.9 438.2,303.9 439.7,304.0 441.3,304.0 442.8,304.1 444.3,304.1 445.8,304.1 447.4,304.2 448.9,304.2 450.4,304.2 451.9,304.3 453.5,304.3 455.0,304.4 456.5,304.4 458.0,304.4 459.6,304.5 461.1,304.5" fill="none" stroke="#ff3c00" stroke-width="3.4" />
<polyline points="342.5,313.7 344.1,313.1 345.7,312.4 347.2,311.8 348.8,311.1 350.4,310.5 351.9,309.8 352.8,309.4 353.4,309.5 354.9,309.6 356.4,309.6 357.9,309.6 359.4,309.7 360.9,309.7 362.4,309.7 363.9,309.7 365.4,309.8 366.9,309.8 368.4,309.8 369.9,309.9 371.4,309.9 372.9,309.9 374.4,310.0 375.9,310.0 377.4,310.0 378.9,310.1 380.4,310.1 381.9,310.1 383.4,310.2 384.9,310.2 386.4,310.2 387.9,310.2 389.4,310.3 390.9,310.3 392.4,310.3 393.9,310.4 395.4,310.4 396.9,310.4 398.4,310.5 399.9,310.5 401.4,310.5 403.0,310.6 404.5,310.6 406.0,310.6 407.5,310.7 409.1,310.7 410.6,310.8 412.1,310.8 413.6,310.8 415.2,310.9 416.7,310.9 418.2,310.9 419.7,311.0 421.3,311.0 422.8,311.1 424.3,311.1 425.8,311.1 427.4,311.2 428.9,311.2 430.4,311.2 431.9,311.3 433.5,311.3 435.0,311.4 436.5,311.4 438.0,311.4 439.6,311.5 441.1,311.5 442.6,311.5 444.1,311.6 445.7,311.6 447.2,311.7 448.7,311.7 450.2,311.7 451.8,311.8 453.3,311.8 454.8,311.8 456.3,311.9 457.9,311.9 459.4,312.0 460.9,312.0" fill="none" stroke="#ff4200" stroke-width="4.2" />
<polyline points="341.0,310.0 342.6,309.4 344.1,308.7 345.7,308.1 347.3,307.4 348.9,306.8 350.4,306.1 352.0,305.5 353.5,305.5 355.0,305.6 356.5,305.6 358.0,305.6 359.5,305.7 361.0,305.7 362.5,305.7 364.0,305.8 365.5,305.8 367.0,305.8 368.5,305.8 370.0,305.9 371.5,305.9 373.0,305.9 374.5,306.0 376.0,306.0 377.5,306.0 379.0,306.1 380.5,306.1 382.0,306.1 383.5,306.2 385.0,306.2 386.5,306.2 388.0,306.2 389.5,306.3 391.0,306.3 392.5,306.3 394.0,306.4 395.5,306.4 397.0,306.4 398.5,306.5 400.0,306.5 401.5,306.5 403.1,306.6 404.6,306.6 406.1,306.6 407.6,306.7 409.1,306.7 410.7,306.8 412.2,306.8 413.7,306.8 415.2,306.9 416.8,306.9 418.3,306.9 419.8,307.0 421.4,307.0 422.9,307.1 424.4,307.1 425.9,307.1 427.4,307.2 429.0,307.2 430.5,307.2 432.0,307.3 433.6,307.3 435.1,307.4 436.6,307.4 438.1,307.4 439.6,307.5 441.2,307.5 442.7,307.6 444.2,307.6 445.8,307.6 447.3,307.7 448.8,307.7 450.3,307.7 451.9,307.8 453.4,307.8 454.9,307.9 456.4,307.9 457.9,307.9 459.5,308.0 461.0,308.0" fill="none" stroke="#fff" stroke-width="3.0" />
<polyline points="464.2,305.4 465.1,306.6 466.1,307.8 467.1,308.9 468.0,310.1 469.0,311.3 469.9,312.5 470.9,313.6 471.9,314.8 472.8,316.0 473.8,317.2 474.7,318.3 475.7,319.5 476.7,320.7 477.6,321.9 478.6,323.1 479.5,324.2 480.5,325.4 481.5,326.6 482.4,327.8 483.4,328.9 484.4,330.1 485.3,331.3 486.3,332.5 487.2,333.6 488.2,334.8 489.2,336.0 490.1,337.2 491.1,338.3 492.0,339.5 493.0,340.7 494.0,341.9 494.9,343.1 495.9,344.2 496.8,345.4 497.8,346.6 498.8,347.8 499.7,348.9 500.7,350.1 501.6,351.3 502.6,352.5 503.6,353.6 504.5,354.8 505.5,356.0 506.5,357.2 507.4,358.3 508.4,359.5 509.3,360.7 510.3,361.9 511.3,363.1 512.2,364.2 513.2,365.4 514.1,366.6 515.1,367.7 516.0,368.9 517.0,370.1 517.9,371.2 518.9,372.4 519.8,373.6 520.8,374.7 521.7,375.9 522.7,377.1 523.7,378.2 524.6,379.4 525.6,380.6 526.5,381.7 527.5,382.9 528.4,384.1 529.4,385.2 530.3,386.4 531.3,387.6 532.2,388.7 533.2,389.9 534.1,391.1 535.1,392.2 536.0,393.4 537.0,394.6 537.9,395.7 538.9,396.9 539.8,398.1 540.8,399.2 541.7,400.4 542.7,401.6 543.7,402.7 544.6,403.9 545.6,405.1 546.5,406.2 547.5,407.4 548.4,408.6 549.4,409.7 550.3,410.9 551.3,412.1 552.2,413.2 553.6,415.0 554.4,417.1 554.9,418.5 555.4,419.9 555.9,421.3 556.4,422.7 556.9,424.1 557.4,425.6 557.9,427.0 558.4,428.4 558.9,429.8 559.4,431.2 559.9,432.6" fill="none" stroke="#ff7200" stroke-width="3.8" />
<polyline points="457.6,310.8 458.6,312.0 459.5,313.1 460.5,314.3 461.4,315.5 462.4,316.7 463.4,317.8 464.3,319.0 465.3,320.2 466.2,321.4 467.2,322.5 468.2,323.7 469.1,324.9 470.1,326.1 471.0,327.3 472.0,328.4 473.0,329.6 473.9,330.8 474.9,332.0 475.8,333.1 476.8,334.3 477.8,335.5 478.7,336.7 479.7,337.8 480.7,339.0 481.6,340.2 482.6,341.4 483.5,342.5 484.5,343.7 485.5,344.9 486.4,346.1 487.4,347.3 488.3,348.4 489.3,349.6 490.3,350.8 491.2,352.0 492.2,353.1 493.1,354.3 494.1,355.5 495.1,356.7 496.0,357.8 497.0,359.0 497.9,360.2 498.9,361.4 499.9,362.5 500.8,363.7 501.8,364.9 502.7,366.1 503.7,367.3 504.7,368.4 505.6,369.6 506.6,370.8 507.5,371.9 508.5,373.1 509.4,374.3 510.4,375.4 511.4,376.6 512.3,377.8 513.3,378.9 514.2,380.1 515.2,381.3 516.1,382.4 517.1,383.6 518.0,384.8 519.0,385.9 519.9,387.1 520.9,388.3 521.8,389.4 522.8,390.6 523.7,391.8 524.7,392.9 525.6,394.1 526.6,395.3 527.5,396.4 528.5,397.6 529.4,398.8 530.4,399.9 531.4,401.1 532.3,402.3 533.3,403.4 534.2,404.6 535.2,405.8 536.1,406.9 537.1,408.1 538.0,409.3 539.0,410.4 539.9,411.6 540.9,412.8 541.8,413.9 542.8,415.1 543.7,416.3 544.7,417.4 545.6,418.6 546.2,419.2 546.4,419.9 546.9,421.3 547.4,422.7 547.9,424.1 548.4,425.5 548.9,427.0 549.4,428.4 549.9,429.8 550.4,431.2 550.9,432.6 551.4,434.0 551.9,435.5" fill="none" stroke="#ff3c00" stroke-width="5.0" />
<polyline points="461.0,308.0 462.0,309.2 462.9,310.4 463.9,311.5 464.8,312.7 465.8,313.9 466.8,315.1 467.7,316.2 468.7,317.4 469.6,318.6 470.6,319.8 471.6,320.9 472.5,322.1 473.5,323.3 474.5,324.5 475.4,325.6 476.4,326.8 477.3,328.0 478.3,329.2 479.3,330.4 480.2,331.5 481.2,332.7 482.1,333.9 483.1,335.1 484.1,336.2 485.0,337.4 486.0,338.6 486.9,339.8 487.9,340.9 488.9,342.1 489.8,343.3 490.8,344.5 491.7,345.6 492.7,346.8 493.7,348.0 494.6,349.2 495.6,350.4 496.5,351.5 497.5,352.7 498.5,353.9 499.4,355.1 500.4,356.2 501.4,357.4 502.3,358.6 503.3,359.8 504.2,360.9 505.2,362.1 506.2,363.3 507.1,364.5 508.1,365.6 509.0,366.8 510.0,368.0 511.0,369.2 511.9,370.3 512.9,371.5 513.8,372.7 514.8,373.8 515.7,375.0 516.7,376.2 517.6,377.3 518.6,378.5 519.5,379.7 520.5,380.8 521.4,382.0 522.4,383.2 523.3,384.3 524.3,385.5 525.2,386.7 526.2,387.8 527.1,389.0 528.1,390.2 529.0,391.3 530.0,392.5 531.0,393.7 531.9,394.8 532.9,396.0 533.8,397.2 534.8,398.3 535.7,399.5 536.7,400.7 537.6,401.8 538.6,403.0 539.5,404.2 540.5,405.3 541.4,406.5 542.4,407.7 543.3,408.8 544.3,410.0 545.2,411.2 546.2,412.3 547.1,413.5 548.1,414.7 549.0,415.8 550.0,417.0 550.5,418.4 551.0,419.8 551.5,421.2 552.0,422.7 552.5,424.1 553.0,425.5 553.5,426.9 554.0,428.3 554.5,429.8 555.0,431.2 555.5,432.6 556.0,434.0" fill="none" stroke="#fff" stroke-width="4.0" />
<polyline points="343.9,312.9 357.3,300.3" fill="none" stroke="#2cf800" stroke-width="2.2" />
<polyline points="343.9,312.9 357.3,300.3" fill="none" stroke="#3a4a00" stroke-width="0.7" />
<polyline points="350.3,313.1 363.9,300.4" fill="none" stroke="#2cf800" stroke-width="2.2" />
<polyline points="350.3,313.1 363.9,300.4" fill="none" stroke="#3a4a00" stroke-width="0.7" />
<polyline points="356.7,313.2 370.4,300.6" fill="none" stroke="#2cf800" stroke-width="2.2" />
<polyline points="356.7,313.2 370.4,300.6" fill="none" stroke="#3a4a00" stroke-width="0.7" />
<polyline points="363.1,313.3 377.0,300.7" fill="none" stroke="#2cf800" stroke-width="2.2" />
<polyline points="363.1,313.3 377.0,300.7" fill="none" stroke="#3a4a00" stroke-width="0.7" />
<polyline points="369.5,313.4 383.6,300.9" fill="none" stroke="#2cf800" stroke-width="2.2" />
<polyline points="369.5,313.4 383.6,300.9" fill="none" stroke="#3a4a00" stroke-width="0.7" />
<polyline points="375.9,313.6 390.2,301.0" fill="none" stroke="#2cf800" stroke-width="2.2" />
<polyline points="375.9,313.6 390.2,301.0" fill="none" stroke="#3a4a00" stroke-width="0.7" />
<polyline points="382.3,313.7 396.7,301.1" fill="none" stroke="#2cf800" stroke-width="2.2" />
<polyline points="382.3,313.7 396.7,301.1" fill="none" stroke="#3a4a00" stroke-width="0.7" />
<polyline points="388.7,313.8 403.3,301.3" fill="none" stroke="#2cf800" stroke-width="2.2" />
<polyline points="388.7,313.8 403.3,301.3" fill="none" stroke="#3a4a00" stroke-width="0.7" />
<polyline points="395.1,313.9 409.9,301.4" fill="none" stroke="#2cf800" stroke-width="2.2" />
<polyline points="395.1,313.9 409.9,301.4" fill="none" stroke="#3a4a00" stroke-width="0.7" />
<polyline points="401.5,314.1 416.4,301.6" fill="none" stroke="#2cf800" stroke-width="2.2" />
<polyline points="401.5,314.1 416.4,301.6" fill="none" stroke="#3a4a00" stroke-width="0.7" />
<polyline points="407.9,314.2 423.0,301.8" fill="none" stroke="#2cf800" stroke-width="2.2" />
<polyline points="407.9,314.2 423.0,301.8" fill="none" stroke="#3a4a00" stroke-width="0.7" />
<polyline points="414.3,314.3 429.6,301.9" fill="none" stroke="#2cf800" stroke-width="2.2" />
<polyline points="414.3,314.3 429.6,301.9" fill="none" stroke="#3a4a00" stroke-width="0.7" />
<polyline points="420.7,314.5 436.1,302.1" fill="none" stroke="#2cf800" stroke-width="2.2" />
<polyline points="420.7,314.5 436.1,302.1" fill="none" stroke="#3a4a00" stroke-width="0.7" />
<polyline points="427.1,314.6 442.7,302.3" fill="none" stroke="#2cf800" stroke-width="2.2" />
<polyline points="427.1,314.6 442.7,302.3" fill="none" stroke="#3a4a00" stroke-width="0.7" />
<polyline points="433.5,314.8 449.3,302.4" fill="none" stroke="#2cf800" stroke-width="2.2" />
<polyline points="433.5,314.8 449.3,302.4" fill="none" stroke="#3a4a00" stroke-width="0.7" />
<polyline points="439.9,314.9 455.9,302.6" fill="none" stroke="#2cf800" stroke-width="2.2" />
<polyline points="439.9,314.9 455.9,302.6" fill="none" stroke="#3a4a00" stroke-width="0.7" />
<polyline points="446.3,315.1 462.4,302.7" fill="none" stroke="#2cf800" stroke-width="2.2" />
<polyline points="446.3,315.1 462.4,302.7" fill="none" stroke="#3a4a00" stroke-width="0.7" />
<polyline points="452.7,315.2 469.0,302.9" fill="none" stroke="#2cf800" stroke-width="2.2" />
<polyline points="452.7,315.2 469.0,302.9" fill="none" stroke="#3a4a00" stroke-width="0.7" />
<polyline points="347.3,307.4 348.9,306.8 350.4,306.1 352.0,305.5 353.5,305.5 355.0,305.6 356.5,305.6 358.0,305.6 359.5,305.7 361.0,305.7 362.5,305.7 364.0,305.8 365.5,305.8 367.0,305.8 368.5,305.8 370.0,305.9 371.5,305.9 373.0,305.9 374.5,306.0 376.0,306.0 377.5,306.0 379.0,306.1 380.5,306.1 382.0,306.1 383.5,306.2 385.0,306.2 386.5,306.2 388.0,306.2 389.5,306.3 391.0,306.3 392.5,306.3 394.0,306.4 395.5,306.4 397.0,306.4 398.5,306.5 400.0,306.5 401.5,306.5 403.1,306.6 404.6,306.6 406.1,306.6 407.6,306.7 409.1,306.7 410.7,306.8 412.2,306.8 413.7,306.8 415.2,306.9 416.8,306.9 418.3,306.9 419.8,307.0 421.4,307.0 422.9,307.1 424.4,307.1 425.9,307.1 427.4,307.2 429.0,307.2 430.5,307.2 432.0,307.3 433.6,307.3 435.1,307.4 436.6,307.4 438.1,307.4 439.6,307.5 441.2,307.5 442.7,307.6 444.2,307.6 445.8,307.6 447.3,307.7 448.8,307.7 450.3,307.7 451.9,307.8 453.4,307.8 454.9,307.9 456.4,307.9 457.9,307.9 459.5,308.0 461.0,308.0" fill="none" stroke="#fff" stroke-width="4.0" />
<polyline points="462.7,320.5 470.9,313.0" fill="none" stroke="#2cf800" stroke-width="2.0" />
<polyline points="462.7,320.5 470.9,313.0" fill="none" stroke="#203000" stroke-width="0.7" />
<polyline points="469.5,328.7 477.6,321.3" fill="none" stroke="#2cf800" stroke-width="2.0" />
<polyline points="469.5,328.7 477.6,321.3" fill="none" stroke="#203000" stroke-width="0.7" />
<polyline points="476.2,336.9 484.2,329.5" fill="none" stroke="#2cf800" stroke-width="2.0" />
<polyline points="476.2,336.9 484.2,329.5" fill="none" stroke="#203000" stroke-width="0.7" />
<polyline points="482.9,345.1 490.9,337.7" fill="none" stroke="#2cf800" stroke-width="2.0" />
<polyline points="482.9,345.1 490.9,337.7" fill="none" stroke="#203000" stroke-width="0.7" />
<polyline points="489.6,353.3 497.5,345.9" fill="none" stroke="#2cf800" stroke-width="2.0" />
<polyline points="489.6,353.3 497.5,345.9" fill="none" stroke="#203000" stroke-width="0.7" />
<polyline points="496.4,361.5 504.2,354.1" fill="none" stroke="#2cf800" stroke-width="2.0" />
<polyline points="496.4,361.5 504.2,354.1" fill="none" stroke="#203000" stroke-width="0.7" />
<polyline points="503.1,369.7 510.9,362.4" fill="none" stroke="#2cf800" stroke-width="2.0" />
<polyline points="503.1,369.7 510.9,362.4" fill="none" stroke="#203000" stroke-width="0.7" />
<polyline points="509.8,377.9 517.5,370.6" fill="none" stroke="#2cf800" stroke-width="2.0" />
<polyline points="509.8,377.9 517.5,370.6" fill="none" stroke="#203000" stroke-width="0.7" />
<polyline points="516.5,386.1 524.2,378.8" fill="none" stroke="#2cf800" stroke-width="2.0" />
<polyline points="516.5,386.1 524.2,378.8" fill="none" stroke="#203000" stroke-width="0.7" />
<polyline points="523.3,394.3 530.8,387.0" fill="none" stroke="#2cf800" stroke-width="2.0" />
<polyline points="523.3,394.3 530.8,387.0" fill="none" stroke="#203000" stroke-width="0.7" />
<polyline points="530.0,402.4 537.5,395.3" fill="none" stroke="#2cf800" stroke-width="2.0" />
<polyline points="530.0,402.4 537.5,395.3" fill="none" stroke="#203000" stroke-width="0.7" />
<polyline points="536.7,410.6 544.2,403.5" fill="none" stroke="#2cf800" stroke-width="2.0" />
<polyline points="536.7,410.6 544.2,403.5" fill="none" stroke="#203000" stroke-width="0.7" />
<polyline points="543.4,418.8 550.8,411.7" fill="none" stroke="#2cf800" stroke-width="2.0" />
<polyline points="543.4,418.8 550.8,411.7" fill="none" stroke="#203000" stroke-width="0.7" />
<polyline points="548.1,428.2 555.4,421.1" fill="none" stroke="#2cf800" stroke-width="2.0" />
<polyline points="548.1,428.2 555.4,421.1" fill="none" stroke="#203000" stroke-width="0.7" />
<polyline points="270.4,379.4 271.4,378.4 272.8,377.1 274.4,375.5 276.1,373.7 278.0,371.8 279.9,369.9 281.7,368.1 283.4,366.4 285.1,364.9 286.7,363.4 288.3,361.9 289.8,360.4 291.4,358.9 293.0,357.5 294.6,356.0 296.2,354.6 297.7,353.2 299.3,351.8 300.8,350.5 302.3,349.1 303.9,347.8 305.4,346.5 306.9,345.2 308.5,343.9 310.1,342.6 311.8,341.3 313.4,340.0 315.1,338.7 316.8,337.4 318.3,336.2 319.8,335.0 321.2,333.8 322.4,332.6 323.6,331.5 324.7,330.4 325.7,329.3 326.7,328.3 327.6,327.2 328.5,326.1 329.4,325.0 330.2,323.9 331.0,322.8 331.7,321.6 332.4,320.4 333.1,319.3 333.8,318.2 334.4,317.1 335.1,316.0 335.9,315.0 336.6,314.1 337.4,313.1 338.1,312.2 338.8,311.3 339.5,310.6 340.0,310.0 340.4,309.5" fill="none" stroke="#ff4200" stroke-width="4.6" />
<polyline points="484.8,501.5 485.4,500.1 485.9,498.6 486.5,497.1 487.1,495.6 487.7,494.2 488.4,492.8 489.0,491.3 489.6,490.0 490.3,488.6 491.3,486.5 492.4,484.5 493.4,482.5 494.5,480.6 495.6,478.7 496.8,476.8 498.0,475.0 499.1,473.2 500.4,471.4 501.6,469.7 502.9,468.0 504.2,466.3 505.5,464.7 506.9,463.1 508.3,461.5 509.7,460.0 511.1,458.5 512.6,457.1 514.1,455.7 515.6,454.3 517.2,452.9" fill="none" stroke="#ff4200" stroke-width="4.4" />
<polyline points="486.0,502.0 486.6,500.5 487.1,499.0 487.7,497.6 488.3,496.1 488.9,494.7 489.5,493.3 490.2,491.9 490.8,490.5 491.5,489.1 492.5,487.1 493.5,485.1 494.6,483.2 495.6,481.2 496.8,479.4 497.9,477.5 499.0,475.7 500.2,473.9 501.4,472.2 502.7,470.4 503.9,468.8 505.2,467.1 506.5,465.5 507.9,463.9 509.3,462.4 510.6,460.9 512.1,459.5 513.5,458.0 515.0,456.6 516.5,455.2 518.0,453.9 519.5,452.6 521.1,451.4 522.7,450.1 524.4,449.0 526.0,447.8 527.7,446.7 529.4,445.6 531.1,444.5 532.9,443.5 534.7,442.5 536.5,441.6 538.3,440.7 540.2,439.8 542.1,439.0 544.0,438.1 545.9,437.4 547.9,436.6 549.9,435.9 551.9,435.2 553.9,434.6 556.0,434.0" fill="none" stroke="#30e000" stroke-width="0.8" />
<polyline points="341.0,310.0 343.1,309.1 345.1,308.2 347.1,307.3 349.0,306.3 350.9,305.3 352.8,304.2 354.6,303.1 356.4,301.9 358.1,300.7 359.9,299.5 361.5,298.2 363.1,296.9 364.7,295.5 366.3,294.1 367.8,292.6 369.3,291.1 370.7,289.6 372.1,288.0 373.4,286.3 374.8,284.7 376.0,282.9 377.3,281.2 378.4,279.4 379.6,277.5" fill="none" stroke="#30e000" stroke-width="1.2" />
<polyline points="556.0,434.0 556.2,433.3 556.4,432.4 556.7,431.2 557.1,430.0 557.4,428.7 557.8,427.4 558.1,426.1 558.5,425.0 558.9,423.9 559.2,422.9 559.6,421.8 559.9,420.8 560.3,419.7 560.7,418.7 561.2,417.8 561.7,416.8 562.3,415.9 562.8,415.0 563.5,414.1 564.1,413.2 564.8,412.4 565.5,411.6 566.2,410.8 567.0,410.0 567.8,409.2 568.6,408.5 569.4,407.8 570.3,407.1 571.2,406.4 572.1,405.7 573.0,405.2 574.0,404.6 575.0,404.1 576.1,403.6 577.1,403.2 578.2,402.8 579.4,402.5 580.5,402.1 581.7,401.8 583.0,401.6 584.4,401.4 585.9,401.2 587.6,401.1 589.3,401.1 590.9,401.0 592.3,401.0 593.5,400.9 594.4,400.9" fill="none" stroke="#60d000" stroke-width="1.4" />
<polyline points="379.6,277.5 413.0,263.8 440.0,261.6" fill="none" stroke="#902020" stroke-width="1.1" />
<polyline points="440.0,261.6 447.6,261.7 455.2,261.6 462.7,261.4 470.2,261.0 477.8,260.4 485.2,259.7 492.7,258.7 500.2,257.7 507.6,256.4 515.0,255.0" fill="none" stroke="#ffb000" stroke-width="2.0" />
<polyline points="515.0,255.0 516.0,256.1 517.0,257.3 518.1,258.4 519.1,259.6 520.1,260.7 521.1,261.8 522.0,263.0 523.0,264.1 524.0,265.3 525.4,267.0 526.9,268.7 528.3,270.4 529.7,272.1 531.1,273.9 532.5,275.6 533.8,277.3 535.2,279.0 536.5,280.7 537.8,282.5 539.1,284.2 540.4,285.9 541.7,287.6 542.9,289.4 544.2,291.1 545.4,292.8 546.6,294.6 547.8,296.3 549.0,298.0 550.2,299.8 551.3,301.5 552.5,303.2 553.6,305.0 554.7,306.7 555.8,308.5 556.9,310.2 558.0,311.9 559.0,313.7 560.1,315.4 561.1,317.2 562.1,318.9 563.1,320.7 564.1,322.4 565.1,324.2 566.0,325.9 567.0,327.7 567.9,329.4 568.8,331.2 569.7,332.9 570.6,334.7 571.4,336.4 572.3,338.2" fill="none" stroke="#ffe000" stroke-width="2.2" />
<polyline points="572.3,338.2 573.6,342.3 575.2,346.2 577.0,349.9 579.1,353.5 581.4,357.0 584.0,360.3 586.9,363.5 590.0,366.5 589.2,370.9 588.9,375.2 588.8,379.5 589.2,383.9 589.9,388.1 591.0,392.4 592.5,396.7 594.4,400.9" fill="none" stroke="#802020" stroke-width="1.2" />
<polyline points="378.0,380.0 461.0,308.0" fill="none" stroke="#600030" stroke-width="0.9" />
<polyline points="461.0,308.0 515.0,255.0" fill="none" stroke="#600030" stroke-width="0.9" />
<polyline points="378.0,380.0 486.0,502.0" fill="none" stroke="#303030" stroke-width="0.9" />
<polyline points="271.0,380.0 378.0,380.0" fill="none" stroke="#505050" stroke-width="0.8" />
<polyline points="515.0,254.0 563.8,138.8" fill="none" stroke="#22ee22" stroke-width="1.1" />
<polyline points="271.0,380.0 144.8,465.6" fill="none" stroke="#22ee22" stroke-width="1.1" />
<polyline points="485.6,504.0 443.3,632.2" fill="none" stroke="#22ee22" stroke-width="1.1" />
<polyline points="557.0,437.0 697.2,489.7" fill="none" stroke="#22ee22" stroke-width="1.1" />
<polyline points="594.4,400.9 664.2,434.2" fill="none" stroke="#22ee22" stroke-width="1.1" />
<polyline points="572.3,338.2 639.0,373.5" fill="none" stroke="#22ee22" stroke-width="1.1" />
<polyline points="590.0,366.5 627.0,374.5" fill="none" stroke="#22ee22" stroke-width="1.1" />
<polyline points="341.0,310.0 311.0,261.6" fill="none" stroke="#22ee22" stroke-width="1.1" />
<polyline points="379.6,277.5 353.8,256.9" fill="none" stroke="#22ee22" stroke-width="1.1" />
<polyline points="413.0,263.8 409.0,249.4" fill="none" stroke="#22ee22" stroke-width="1.1" />
<polyline points="440.0,261.6 412.8,241.9" fill="none" stroke="#22ee22" stroke-width="1.1" />
<defs>
<linearGradient id="gc" x1="0" y1="0" x2="1" y2="1"><stop offset="0" stop-color="#44ff44"/><stop offset="1" stop-color="#16d416"/></linearGradient>
</defs>
<polygon points="571.3,119.5 556.2,133.8 560.0,139.5 567.0,142.0 573.8,141.2" fill="url(#gc)"/>
<path d="M556.2 133.8 Q562 143 573.8 141.2 L571.3 119.5Z" fill="#14c814" opacity="0.55"/>
<polygon points="122.9,479.6 137.0,457.3 143.0,460.0 148.0,468.0 149.0,475.4" fill="url(#gc)"/>
<path d="M122.9 479.6 L149 475.4 Q147 470 143 466 Z" fill="#10b810" opacity="0.6"/>
<polygon points="434.2,657.8 430.8,632.8 437.0,631.4 446.0,634.0 451.7,640.6" fill="url(#gc)"/>
<path d="M434.2 657.8 L451.7 640.6 Q445 640 438 636 Z" fill="#10b810" opacity="0.5"/>
<polygon points="702.5,479.1 720.2,498.9 697.0,503.5 694.3,497.0 695.0,488.0" fill="url(#gc)"/>
<ellipse cx="698.6" cy="491.3" rx="4.2" ry="12.4" transform="rotate(17 698.6 491.3)" fill="#0a9a0a"/>
<polygon points="665.6,429.8 673.5,438.7 667.0,440.5 660.3,439.5" fill="url(#gc)"/>
<path d="M665.6 429.8 L660.3 439.5 Q663 436 665.6 429.8Z" fill="#0a9a0a"/>
<polygon points="642.6,368.3 649.7,379.4 643.0,380.3 636.5,379.4" fill="url(#gc)"/>
<path d="M642.6 368.3 L636.5 379.4 L640 379 Z" fill="#0a9a0a"/>
<polygon points="627.0,371.0 634.7,377.5 627.5,379.0" fill="url(#gc)"/>
<polygon points="327.6,272.1 322.0,279.6 312.7,281.0 305.2,275.4 303.8,266.1 309.4,258.6 318.7,257.2 326.2,262.8" fill="#0e6e12"/>
<polygon points="361.9,260.1 359.6,263.7 355.4,264.6 351.8,262.3 350.9,258.1 353.2,254.5 357.4,253.6 361.0,255.9" fill="#0e6e12"/>
<polygon points="421.5,245.7 419.2,249.3 415.0,250.2 411.4,247.9 410.5,243.7 412.8,240.1 417.0,239.2 420.6,241.5" fill="#0e6e12"/>
<polygon points="411.8,249.9 410.6,251.7 408.5,252.2 406.7,251.0 406.2,248.9 407.4,247.1 409.5,246.6 411.3,247.8" fill="#0e6e12"/>
<polyline points="311.0,261.6 320.0,277.0" fill="none" stroke="#22ee22" stroke-width="0.9" />
<polyline points="353.8,256.9 360.0,262.0" fill="none" stroke="#22ee22" stroke-width="0.9" />
<polyline points="412.8,241.9 420.0,247.6" fill="none" stroke="#22ee22" stroke-width="0.9" />
<line x1="377.1" y1="379" x2="377.1" y2="326" stroke="#0000ff" stroke-width="1.6"/>
<path d="M377.1 309.5 L380.4 322.5 Q380.3 327.6 377.1 328 Q373.9 327.6 373.8 322.5 Z" fill="#1010ff"/>
<line x1="377.5" y1="381" x2="440" y2="421.8" stroke="#ff0000" stroke-width="1.3"/>
<path d="M459 432.3 L436.5 425.5 L441.5 416.5 Z" fill="#ff1010"/>
<path d="M424 334 L432 338.5 L428.5 342.5 Z" fill="#0c6a10"/>
<text x="542.5" y="191.5" text-anchor="middle" fill="#000" stroke="#000" stroke-width="0.28">7.01</text>
<text x="196.3" y="433.9" text-anchor="middle" fill="#000" stroke="#000" stroke-width="0.28">8.75</text>
<text x="459.2" y="585.6" text-anchor="middle" fill="#000" stroke="#000" stroke-width="0.28">8.71</text>
<text x="638.6" y="472.0" text-anchor="middle" fill="#000" stroke="#000" stroke-width="0.28">9.21</text>
<text x="633.9" y="425.0" text-anchor="middle" fill="#000" stroke="#000" stroke-width="0.28">4.47</text>
<text x="610.9" y="362.0" text-anchor="middle" fill="#000" stroke="#000" stroke-width="0.28">4.57</text>
<text x="612.0" y="375.6" text-anchor="middle" fill="#000" stroke="#000" stroke-width="0.28">2.41</text>
<text x="326.9" y="291.6" text-anchor="middle" fill="#000" stroke="#000" stroke-width="0.28">9.22</text>
<text x="366.0" y="271.0" text-anchor="middle" fill="#000" stroke="#000" stroke-width="0.28">4.47</text>
<text x="411.3" y="259.7" text-anchor="middle" fill="#000" stroke="#000" stroke-width="0.28">2.42</text>
<text x="426.5" y="256.0" text-anchor="middle" fill="#000" stroke="#000" stroke-width="0.28">4.57</text>
<text x="354.0" y="308.0" text-anchor="middle" font-size="7.4" fill="#000" stroke="#000" stroke-width="0.28">4.</text>
<text x="360.2" y="308.2" text-anchor="middle" font-size="7.4" fill="#000" stroke="#000" stroke-width="0.28">4.</text>
<text x="366.4" y="308.3" text-anchor="middle" font-size="7.4" fill="#000" stroke="#000" stroke-width="0.28">4.</text>
<text x="372.6" y="308.4" text-anchor="middle" font-size="7.4" fill="#000" stroke="#000" stroke-width="0.28">4.</text>
<text x="378.8" y="308.6" text-anchor="middle" font-size="7.4" fill="#000" stroke="#000" stroke-width="0.28">4.</text>
<text x="385.0" y="308.7" text-anchor="middle" font-size="7.4" fill="#000" stroke="#000" stroke-width="0.28">4.</text>
<text x="391.1" y="308.8" text-anchor="middle" font-size="7.4" fill="#000" stroke="#000" stroke-width="0.28">4.</text>
<text x="397.3" y="308.9" text-anchor="middle" font-size="7.4" fill="#000" stroke="#000" stroke-width="0.28">4.</text>
<text x="403.5" y="309.1" text-anchor="middle" font-size="7.4" fill="#000" stroke="#000" stroke-width="0.28">4.</text>
<text x="409.7" y="309.2" text-anchor="middle" font-size="7.4" fill="#000" stroke="#000" stroke-width="0.28">4.</text>
<text x="415.9" y="309.4" text-anchor="middle" font-size="7.4" fill="#000" stroke="#000" stroke-width="0.28">4.</text>
<text x="422.1" y="309.5" text-anchor="middle" font-size="7.4" fill="#000" stroke="#000" stroke-width="0.28">4.</text>
<text x="428.3" y="309.7" text-anchor="middle" font-size="7.4" fill="#000" stroke="#000" stroke-width="0.28">4.</text>
<text x="434.4" y="309.8" text-anchor="middle" font-size="7.4" fill="#000" stroke="#000" stroke-width="0.28">4.</text>
<text x="440.6" y="310.0" text-anchor="middle" font-size="7.4" fill="#000" stroke="#000" stroke-width="0.28">4.</text>
<text x="446.8" y="310.2" text-anchor="middle" font-size="7.4" fill="#000" stroke="#000" stroke-width="0.28">4.</text>
<text x="453.0" y="310.3" text-anchor="middle" font-size="7.4" fill="#000" stroke="#000" stroke-width="0.28">4.</text>
<text x="459.2" y="310.5" text-anchor="middle" font-size="7.4" fill="#000" stroke="#000" stroke-width="0.28">4.</text>
<path d="M470.5 313.6 l2.6 2.2 l-4.6 1.6 z" fill="#ff2000"/>
<text x="469.5" y="320.4" text-anchor="middle" font-size="7.6" fill="#fff" stroke="#fff" stroke-width="1.0" stroke-linejoin="round">4.5</text>
<text x="469.5" y="320.4" text-anchor="middle" font-size="7.6" fill="#000" stroke="#000" stroke-width="0.28">4.5</text>
<path d="M477.7 322.4 l2.6 2.2 l-4.6 1.6 z" fill="#ff2000"/>
<text x="476.7" y="329.2" text-anchor="middle" font-size="7.6" fill="#fff" stroke="#fff" stroke-width="1.0" stroke-linejoin="round">4.5</text>
<text x="476.7" y="329.2" text-anchor="middle" font-size="7.6" fill="#000" stroke="#000" stroke-width="0.28">4.5</text>
<path d="M484.8 331.1 l2.6 2.2 l-4.6 1.6 z" fill="#ff2000"/>
<text x="483.8" y="337.9" text-anchor="middle" font-size="7.6" fill="#fff" stroke="#fff" stroke-width="1.0" stroke-linejoin="round">4.5</text>
<text x="483.8" y="337.9" text-anchor="middle" font-size="7.6" fill="#000" stroke="#000" stroke-width="0.28">4.5</text>
<path d="M491.9 339.8 l2.6 2.2 l-4.6 1.6 z" fill="#ff2000"/>
<text x="490.9" y="346.6" text-anchor="middle" font-size="7.6" fill="#fff" stroke="#fff" stroke-width="1.0" stroke-linejoin="round">4.5</text>
<text x="490.9" y="346.6" text-anchor="middle" font-size="7.6" fill="#000" stroke="#000" stroke-width="0.28">4.5</text>
<path d="M499.0 348.5 l2.6 2.2 l-4.6 1.6 z" fill="#ff2000"/>
<text x="498.0" y="355.3" text-anchor="middle" font-size="7.6" fill="#fff" stroke="#fff" stroke-width="1.0" stroke-linejoin="round">4.5</text>
<text x="498.0" y="355.3" text-anchor="middle" font-size="7.6" fill="#000" stroke="#000" stroke-width="0.28">4.5</text>
<path d="M506.1 357.2 l2.6 2.2 l-4.6 1.6 z" fill="#ff2000"/>
<text x="505.1" y="364.0" text-anchor="middle" font-size="7.6" fill="#fff" stroke="#fff" stroke-width="1.0" stroke-linejoin="round">4.5</text>
<text x="505.1" y="364.0" text-anchor="middle" font-size="7.6" fill="#000" stroke="#000" stroke-width="0.28">4.5</text>
<path d="M513.3 365.9 l2.6 2.2 l-4.6 1.6 z" fill="#ff2000"/>
<text x="512.3" y="372.7" text-anchor="middle" font-size="7.6" fill="#fff" stroke="#fff" stroke-width="1.0" stroke-linejoin="round">4.5</text>
<text x="512.3" y="372.7" text-anchor="middle" font-size="7.6" fill="#000" stroke="#000" stroke-width="0.28">4.5</text>
<path d="M520.4 374.7 l2.6 2.2 l-4.6 1.6 z" fill="#ff2000"/>
<text x="519.4" y="381.5" text-anchor="middle" font-size="7.6" fill="#fff" stroke="#fff" stroke-width="1.0" stroke-linejoin="round">4.5</text>
<text x="519.4" y="381.5" text-anchor="middle" font-size="7.6" fill="#000" stroke="#000" stroke-width="0.28">4.5</text>
<path d="M527.5 383.4 l2.6 2.2 l-4.6 1.6 z" fill="#ff2000"/>
<text x="526.5" y="390.2" text-anchor="middle" font-size="7.6" fill="#fff" stroke="#fff" stroke-width="1.0" stroke-linejoin="round">4.5</text>
<text x="526.5" y="390.2" text-anchor="middle" font-size="7.6" fill="#000" stroke="#000" stroke-width="0.28">4.5</text>
<path d="M534.6 392.1 l2.6 2.2 l-4.6 1.6 z" fill="#ff2000"/>
<text x="533.6" y="398.9" text-anchor="middle" font-size="7.6" fill="#fff" stroke="#fff" stroke-width="1.0" stroke-linejoin="round">4.6</text>
<text x="533.6" y="398.9" text-anchor="middle" font-size="7.6" fill="#000" stroke="#000" stroke-width="0.28">4.6</text>
<path d="M541.7 400.8 l2.6 2.2 l-4.6 1.6 z" fill="#ff2000"/>
<text x="540.7" y="407.6" text-anchor="middle" font-size="7.6" fill="#fff" stroke="#fff" stroke-width="1.0" stroke-linejoin="round">4.6</text>
<text x="540.7" y="407.6" text-anchor="middle" font-size="7.6" fill="#000" stroke="#000" stroke-width="0.28">4.6</text>
<path d="M548.8 409.5 l2.6 2.2 l-4.6 1.6 z" fill="#ff2000"/>
<text x="547.8" y="416.3" text-anchor="middle" font-size="7.6" fill="#fff" stroke="#fff" stroke-width="1.0" stroke-linejoin="round">4.6</text>
<text x="547.8" y="416.3" text-anchor="middle" font-size="7.6" fill="#000" stroke="#000" stroke-width="0.28">4.6</text>
<text x="556.0" y="425.3" text-anchor="middle" fill="#fff" stroke="#fff" stroke-width="1.0" stroke-linejoin="round">4.8</text>
<text x="556.0" y="425.3" text-anchor="middle" fill="#000" stroke="#000" stroke-width="0.28">4.8</text>
<text x="549.5" y="429.3" text-anchor="middle" fill="#fff" stroke="#fff" stroke-width="1.0" stroke-linejoin="round">4.8</text>
<text x="549.5" y="429.3" text-anchor="middle" fill="#000" stroke="#000" stroke-width="0.28">4.8</text>
<text x="551.0" y="435.5" text-anchor="middle" fill="#fff" stroke="#fff" stroke-width="1.0" stroke-linejoin="round">0.2</text>
<text x="551.0" y="435.5" text-anchor="middle" fill="#000" stroke="#000" stroke-width="0.28">0.2</text>
<text x="557.0" y="437.5" text-anchor="middle" fill="#fff" stroke="#fff" stroke-width="1.0" stroke-linejoin="round">4.2</text>
<text x="557.0" y="437.5" text-anchor="middle" fill="#000" stroke="#000" stroke-width="0.28">4.2</text>
<text x="545.0" y="442.3" text-anchor="middle" fill="#fff" stroke="#fff" stroke-width="1.0" stroke-linejoin="round">8.0</text>
<text x="545.0" y="442.3" text-anchor="middle" fill="#000" stroke="#000" stroke-width="0.28">8.0</text>
<text x="535.7" y="444.6" text-anchor="middle" fill="#fff" stroke="#fff" stroke-width="1.0" stroke-linejoin="round">0.2</text>
<text x="535.7" y="444.6" text-anchor="middle" fill="#000" stroke="#000" stroke-width="0.28">0.2</text>
<text x="526.6" y="450.7" text-anchor="middle" fill="#fff" stroke="#fff" stroke-width="1.0" stroke-linejoin="round">8.3</text>
<text x="526.6" y="450.7" text-anchor="middle" fill="#000" stroke="#000" stroke-width="0.28">8.3</text>
<text x="351.5" y="308.5" text-anchor="middle" fill="#fff" stroke="#fff" stroke-width="1.0" stroke-linejoin="round">4.4</text>
<text x="351.5" y="308.5" text-anchor="middle" fill="#000" stroke="#000" stroke-width="0.28">4.4</text>
<text x="346.7" y="311.5" text-anchor="middle" fill="#fff" stroke="#fff" stroke-width="1.0" stroke-linejoin="round">4.3</text>
<text x="346.7" y="311.5" text-anchor="middle" fill="#000" stroke="#000" stroke-width="0.28">4.3</text>
<text x="341.5" y="315.5" text-anchor="middle" fill="#fff" stroke="#fff" stroke-width="1.0" stroke-linejoin="round">4.2</text>
<text x="341.5" y="315.5" text-anchor="middle" fill="#000" stroke="#000" stroke-width="0.28">4.2</text>
<text x="337.5" y="322.6" text-anchor="middle" fill="#fff" stroke="#fff" stroke-width="1.0" stroke-linejoin="round">0.2</text>
<text x="337.5" y="322.6" text-anchor="middle" fill="#000" stroke="#000" stroke-width="0.28">0.2</text>
<text x="333.0" y="328.2" text-anchor="middle" fill="#fff" stroke="#fff" stroke-width="1.0" stroke-linejoin="round">8.0</text>
<text x="333.0" y="328.2" text-anchor="middle" fill="#000" stroke="#000" stroke-width="0.28">8.0</text>
<text x="330.0" y="332.0" text-anchor="middle" fill="#fff" stroke="#fff" stroke-width="1.0" stroke-linejoin="round">0.2</text>
<text x="330.0" y="332.0" text-anchor="middle" fill="#000" stroke="#000" stroke-width="0.28">0.2</text>
<text x="326.5" y="337.2" text-anchor="middle" fill="#fff" stroke="#fff" stroke-width="1.0" stroke-linejoin="round">8.3</text>
<text x="326.5" y="337.2" text-anchor="middle" fill="#000" stroke="#000" stroke-width="0.28">8.3</text>
<text x="300.0" y="363.0" text-anchor="middle" fill="#fff" stroke="#fff" stroke-width="1.0" stroke-linejoin="round">8.3</text>
<text x="300.0" y="363.0" text-anchor="middle" fill="#000" stroke="#000" stroke-width="0.28">8.3</text>
<text x="277.0" y="380.0" text-anchor="middle" fill="#fff" stroke="#fff" stroke-width="1.0" stroke-linejoin="round">8.4</text>
<text x="277.0" y="380.0" text-anchor="middle" fill="#000" stroke="#000" stroke-width="0.28">8.4</text>
<text x="391.0" y="370.5" text-anchor="middle" fill="#fff" stroke="#fff" stroke-width="1.0" stroke-linejoin="round">1.00</text>
<text x="391.0" y="370.5" text-anchor="middle" fill="#000" stroke="#000" stroke-width="0.28">1.00</text>
<text x="400.0" y="374.5" text-anchor="middle" fill="#fff" stroke="#fff" stroke-width="1.0" stroke-linejoin="round">0.0</text>
<text x="400.0" y="374.5" text-anchor="middle" fill="#000" stroke="#000" stroke-width="0.28">0.0</text>
<text x="403.4" y="358.2" text-anchor="middle" fill="#fff" stroke="#fff" stroke-width="1.0" stroke-linejoin="round">1.00</text>
<text x="403.4" y="358.2" text-anchor="middle" fill="#000" stroke="#000" stroke-width="0.28">1.00</text>
<text x="412.4" y="362.2" text-anchor="middle" fill="#fff" stroke="#fff" stroke-width="1.0" stroke-linejoin="round">0.0</text>
<text x="412.4" y="362.2" text-anchor="middle" fill="#000" stroke="#000" stroke-width="0.28">0.0</text>
<text x="415.8" y="345.9" text-anchor="middle" fill="#fff" stroke="#fff" stroke-width="1.0" stroke-linejoin="round">1.00</text>
<text x="415.8" y="345.9" text-anchor="middle" fill="#000" stroke="#000" stroke-width="0.28">1.00</text>
<text x="424.8" y="349.9" text-anchor="middle" fill="#fff" stroke="#fff" stroke-width="1.0" stroke-linejoin="round">0.0</text>
<text x="424.8" y="349.9" text-anchor="middle" fill="#000" stroke="#000" stroke-width="0.28">0.0</text>
<text x="428.2" y="333.6" text-anchor="middle" fill="#fff" stroke="#fff" stroke-width="1.0" stroke-linejoin="round">1.10</text>
<text x="428.2" y="333.6" text-anchor="middle" fill="#000" stroke="#000" stroke-width="0.28">1.10</text>
<text x="437.2" y="337.6" text-anchor="middle" fill="#fff" stroke="#fff" stroke-width="1.0" stroke-linejoin="round">0.0</text>
<text x="437.2" y="337.6" text-anchor="middle" fill="#000" stroke="#000" stroke-width="0.28">0.0</text>
<text x="441.0" y="321.0" text-anchor="middle" fill="#fff" stroke="#fff" stroke-width="1.0" stroke-linejoin="round">1.25</text>
<text x="441.0" y="321.0" text-anchor="middle" fill="#000" stroke="#000" stroke-width="0.28">1.25</text>
<text x="450.0" y="325.0" text-anchor="middle" fill="#fff" stroke="#fff" stroke-width="1.0" stroke-linejoin="round">0.0</text>
<text x="450.0" y="325.0" text-anchor="middle" fill="#000" stroke="#000" stroke-width="0.28">0.0</text>
<text x="452.5" y="306.5" text-anchor="middle" fill="#fff" stroke="#fff" stroke-width="1.0" stroke-linejoin="round">1.48</text>
<text x="452.5" y="306.5" text-anchor="middle" fill="#000" stroke="#000" stroke-width="0.28">1.48</text>
<text x="461.5" y="308.5" text-anchor="middle" fill="#fff" stroke="#fff" stroke-width="1.0" stroke-linejoin="round">0.0</text>
<text x="461.5" y="308.5" text-anchor="middle" fill="#000" stroke="#000" stroke-width="0.28">0.0</text>
<text x="465.0" y="296.0" text-anchor="middle" fill="#fff" stroke="#fff" stroke-width="1.0" stroke-linejoin="round">1.29</text>
<text x="465.0" y="296.0" text-anchor="middle" fill="#000" stroke="#000" stroke-width="0.28">1.29</text>
<text x="474.0" y="298.0" text-anchor="middle" fill="#fff" stroke="#fff" stroke-width="1.0" stroke-linejoin="round">0.0</text>
<text x="474.0" y="298.0" text-anchor="middle" fill="#000" stroke="#000" stroke-width="0.28">0.0</text>
<text x="477.5" y="284.5" text-anchor="middle" fill="#fff" stroke="#fff" stroke-width="1.0" stroke-linejoin="round">1.18</text>
<text x="477.5" y="284.5" text-anchor="middle" fill="#000" stroke="#000" stroke-width="0.28">1.18</text>
<text x="486.5" y="286.5" text-anchor="middle" fill="#fff" stroke="#fff" stroke-width="1.0" stroke-linejoin="round">0.0</text>
<text x="486.5" y="286.5" text-anchor="middle" fill="#000" stroke="#000" stroke-width="0.28">0.0</text>
<text x="491.0" y="276.0" text-anchor="middle" fill="#fff" stroke="#fff" stroke-width="1.0" stroke-linejoin="round">0.80</text>
<text x="491.0" y="276.0" text-anchor="middle" fill="#000" stroke="#000" stroke-width="0.28">0.80</text>
<text x="500.0" y="278.0" text-anchor="middle" fill="#fff" stroke="#fff" stroke-width="1.0" stroke-linejoin="round">0.0</text>
<text x="500.0" y="278.0" text-anchor="middle" fill="#000" stroke="#000" stroke-width="0.28">0.0</text>
<text x="503.5" y="266.0" text-anchor="middle" fill="#fff" stroke="#fff" stroke-width="1.0" stroke-linejoin="round">0.00</text>
<text x="503.5" y="266.0" text-anchor="middle" fill="#000" stroke="#000" stroke-width="0.28">0.00</text>
<text x="512.5" y="268.0" text-anchor="middle" fill="#fff" stroke="#fff" stroke-width="1.0" stroke-linejoin="round">0.0</text>
<text x="512.5" y="268.0" text-anchor="middle" fill="#000" stroke="#000" stroke-width="0.28">0.0</text>
<text x="459.0" y="312.0" text-anchor="middle" fill="#fff" stroke="#fff" stroke-width="1.0" stroke-linejoin="round">4.4</text>
<text x="459.0" y="312.0" text-anchor="middle" fill="#000" stroke="#000" stroke-width="0.28">4.4</text>
<text x="470.0" y="313.0" text-anchor="middle" fill="#fff" stroke="#fff" stroke-width="1.0" stroke-linejoin="round">4.2</text>
<text x="470.0" y="313.0" text-anchor="middle" fill="#000" stroke="#000" stroke-width="0.28">4.2</text>
<text x="431.5" y="366.0" text-anchor="middle" font-size="10.5" font-weight="bold" fill="#000" stroke="#000" stroke-width="0.28">1</text>
<text x="273.0" y="385.2" text-anchor="middle" fill="#fff" stroke="#fff" stroke-width="1.0" stroke-linejoin="round">0.0</text>
<text x="273.0" y="385.2" text-anchor="middle" fill="#000" stroke="#000" stroke-width="0.28">0.0</text>
<text x="276.2" y="388.6" text-anchor="middle" fill="#fff" stroke="#fff" stroke-width="1.0" stroke-linejoin="round">0.3</text>
<text x="276.2" y="388.6" text-anchor="middle" fill="#000" stroke="#000" stroke-width="0.28">0.3</text>
<text x="279.1" y="385.2" text-anchor="middle" fill="#fff" stroke="#fff" stroke-width="1.0" stroke-linejoin="round">0.0</text>
<text x="279.1" y="385.2" text-anchor="middle" fill="#000" stroke="#000" stroke-width="0.28">0.0</text>
<text x="282.3" y="388.6" text-anchor="middle" fill="#fff" stroke="#fff" stroke-width="1.0" stroke-linejoin="round">0.0</text>
<text x="282.3" y="388.6" text-anchor="middle" fill="#000" stroke="#000" stroke-width="0.28">0.0</text>
<text x="285.2" y="385.2" text-anchor="middle" fill="#fff" stroke="#fff" stroke-width="1.0" stroke-linejoin="round">0.0</text>
<text x="285.2" y="385.2" text-anchor="middle" fill="#000" stroke="#000" stroke-width="0.28">0.0</text>
<text x="288.4" y="388.6" text-anchor="middle" fill="#fff" stroke="#fff" stroke-width="1.0" stroke-linejoin="round">0.0</text>
<text x="288.4" y="388.6" text-anchor="middle" fill="#000" stroke="#000" stroke-width="0.28">0.0</text>
<text x="291.3" y="385.2" text-anchor="middle" fill="#fff" stroke="#fff" stroke-width="1.0" stroke-linejoin="round">0.0</text>
<text x="291.3" y="385.2" text-anchor="middle" fill="#000" stroke="#000" stroke-width="0.28">0.0</text>
<text x="294.5" y="388.6" text-anchor="middle" fill="#fff" stroke="#fff" stroke-width="1.0" stroke-linejoin="round">0.3</text>
<text x="294.5" y="388.6" text-anchor="middle" fill="#000" stroke="#000" stroke-width="0.28">0.3</text>
<text x="297.4" y="385.2" text-anchor="middle" fill="#fff" stroke="#fff" stroke-width="1.0" stroke-linejoin="round">0.0</text>
<text x="297.4" y="385.2" text-anchor="middle" fill="#000" stroke="#000" stroke-width="0.28">0.0</text>
<text x="300.6" y="388.6" text-anchor="middle" fill="#fff" stroke="#fff" stroke-width="1.0" stroke-linejoin="round">0.0</text>
<text x="300.6" y="388.6" text-anchor="middle" fill="#000" stroke="#000" stroke-width="0.28">0.0</text>
<text x="303.5" y="385.2" text-anchor="middle" fill="#fff" stroke="#fff" stroke-width="1.0" stroke-linejoin="round">0.0</text>
<text x="303.5" y="385.2" text-anchor="middle" fill="#000" stroke="#000" stroke-width="0.28">0.0</text>
<text x="306.7" y="388.6" text-anchor="middle" fill="#fff" stroke="#fff" stroke-width="1.0" stroke-linejoin="round">0.0</text>
<text x="306.7" y="388.6" text-anchor="middle" fill="#000" stroke="#000" stroke-width="0.28">0.0</text>
<text x="309.6" y="385.2" text-anchor="middle" fill="#fff" stroke="#fff" stroke-width="1.0" stroke-linejoin="round">0.0</text>
<text x="309.6" y="385.2" text-anchor="middle" fill="#000" stroke="#000" stroke-width="0.28">0.0</text>
<text x="312.8" y="388.6" text-anchor="middle" fill="#fff" stroke="#fff" stroke-width="1.0" stroke-linejoin="round">0.3</text>
<text x="312.8" y="388.6" text-anchor="middle" fill="#000" stroke="#000" stroke-width="0.28">0.3</text>
<text x="315.7" y="385.2" text-anchor="middle" fill="#fff" stroke="#fff" stroke-width="1.0" stroke-linejoin="round">0.0</text>
<text x="315.7" y="385.2" text-anchor="middle" fill="#000" stroke="#000" stroke-width="0.28">0.0</text>
<text x="318.9" y="388.6" text-anchor="middle" fill="#fff" stroke="#fff" stroke-width="1.0" stroke-linejoin="round">0.0</text>
<text x="318.9" y="388.6" text-anchor="middle" fill="#000" stroke="#000" stroke-width="0.28">0.0</text>
<text x="321.8" y="385.2" text-anchor="middle" fill="#fff" stroke="#fff" stroke-width="1.0" stroke-linejoin="round">0.0</text>
<text x="321.8" y="385.2" text-anchor="middle" fill="#000" stroke="#000" stroke-width="0.28">0.0</text>
<text x="325.0" y="388.6" text-anchor="middle" fill="#fff" stroke="#fff" stroke-width="1.0" stroke-linejoin="round">0.0</text>
<text x="325.0" y="388.6" text-anchor="middle" fill="#000" stroke="#000" stroke-width="0.28">0.0</text>
<text x="327.9" y="385.2" text-anchor="middle" fill="#fff" stroke="#fff" stroke-width="1.0" stroke-linejoin="round">0.0</text>
<text x="327.9" y="385.2" text-anchor="middle" fill="#000" stroke="#000" stroke-width="0.28">0.0</text>
<text x="331.1" y="388.6" text-anchor="middle" fill="#fff" stroke="#fff" stroke-width="1.0" stroke-linejoin="round">0.3</text>
<text x="331.1" y="388.6" text-anchor="middle" fill="#000" stroke="#000" stroke-width="0.28">0.3</text>
<text x="334.0" y="385.2" text-anchor="middle" fill="#fff" stroke="#fff" stroke-width="1.0" stroke-linejoin="round">0.0</text>
<text x="334.0" y="385.2" text-anchor="middle" fill="#000" stroke="#000" stroke-width="0.28">0.0</text>
<text x="337.2" y="388.6" text-anchor="middle" fill="#fff" stroke="#fff" stroke-width="1.0" stroke-linejoin="round">0.0</text>
<text x="337.2" y="388.6" text-anchor="middle" fill="#000" stroke="#000" stroke-width="0.28">0.0</text>
<text x="340.1" y="385.2" text-anchor="middle" fill="#fff" stroke="#fff" stroke-width="1.0" stroke-linejoin="round">0.0</text>
<text x="340.1" y="385.2" text-anchor="middle" fill="#000" stroke="#000" stroke-width="0.28">0.0</text>
<text x="343.3" y="388.6" text-anchor="middle" fill="#fff" stroke="#fff" stroke-width="1.0" stroke-linejoin="round">0.0</text>
<text x="343.3" y="388.6" text-anchor="middle" fill="#000" stroke="#000" stroke-width="0.28">0.0</text>
<text x="346.2" y="385.2" text-anchor="middle" fill="#fff" stroke="#fff" stroke-width="1.0" stroke-linejoin="round">0.0</text>
<text x="346.2" y="385.2" text-anchor="middle" fill="#000" stroke="#000" stroke-width="0.28">0.0</text>
<text x="349.4" y="388.6" text-anchor="middle" fill="#fff" stroke="#fff" stroke-width="1.0" stroke-linejoin="round">0.3</text>
<text x="349.4" y="388.6" text-anchor="middle" fill="#000" stroke="#000" stroke-width="0.28">0.3</text>
<text x="352.3" y="385.2" text-anchor="middle" fill="#fff" stroke="#fff" stroke-width="1.0" stroke-linejoin="round">0.0</text>
<text x="352.3" y="385.2" text-anchor="middle" fill="#000" stroke="#000" stroke-width="0.28">0.0</text>
<text x="355.5" y="388.6" text-anchor="middle" fill="#fff" stroke="#fff" stroke-width="1.0" stroke-linejoin="round">0.0</text>
<text x="355.5" y="388.6" text-anchor="middle" fill="#000" stroke="#000" stroke-width="0.28">0.0</text>
<text x="358.4" y="385.2" text-anchor="middle" fill="#fff" stroke="#fff" stroke-width="1.0" stroke-linejoin="round">0.0</text>
<text x="358.4" y="385.2" text-anchor="middle" fill="#000" stroke="#000" stroke-width="0.28">0.0</text>
<text x="361.6" y="388.6" text-anchor="middle" fill="#fff" stroke="#fff" stroke-width="1.0" stroke-linejoin="round">0.0</text>
<text x="361.6" y="388.6" text-anchor="middle" fill="#000" stroke="#000" stroke-width="0.28">0.0</text>
<text x="364.5" y="385.2" text-anchor="middle" fill="#fff" stroke="#fff" stroke-width="1.0" stroke-linejoin="round">0.0</text>
<text x="364.5" y="385.2" text-anchor="middle" fill="#000" stroke="#000" stroke-width="0.28">0.0</text>
<text x="367.7" y="388.6" text-anchor="middle" fill="#fff" stroke="#fff" stroke-width="1.0" stroke-linejoin="round">0.3</text>
<text x="367.7" y="388.6" text-anchor="middle" fill="#000" stroke="#000" stroke-width="0.28">0.3</text>
<text x="370.6" y="385.2" text-anchor="middle" fill="#fff" stroke="#fff" stroke-width="1.0" stroke-linejoin="round">0.0</text>
<text x="370.6" y="385.2" text-anchor="middle" fill="#000" stroke="#000" stroke-width="0.28">0.0</text>
<text x="373.8" y="388.6" text-anchor="middle" fill="#fff" stroke="#fff" stroke-width="1.0" stroke-linejoin="round">0.0</text>
<text x="373.8" y="388.6" text-anchor="middle" fill="#000" stroke="#000" stroke-width="0.28">0.0</text>
<text x="376.7" y="385.2" text-anchor="middle" fill="#fff" stroke="#fff" stroke-width="1.0" stroke-linejoin="round">0.0</text>
<text x="376.7" y="385.2" text-anchor="middle" fill="#000" stroke="#000" stroke-width="0.28">0.0</text>
<text x="379.9" y="388.6" text-anchor="middle" fill="#fff" stroke="#fff" stroke-width="1.0" stroke-linejoin="round">0.0</text>
<text x="379.9" y="388.6" text-anchor="middle" fill="#000" stroke="#000" stroke-width="0.28">0.0</text>
<text x="372.0" y="386.0" text-anchor="middle" fill="#fff" stroke="#fff" stroke-width="1.0" stroke-linejoin="round">0.0</text>
<text x="372.0" y="386.0" text-anchor="middle" fill="#000" stroke="#000" stroke-width="0.28">0.0</text>
<text x="385.0" y="385.0" text-anchor="middle" fill="#fff" stroke="#fff" stroke-width="1.0" stroke-linejoin="round">0.0</text>
<text x="385.0" y="385.0" text-anchor="middle" fill="#000" stroke="#000" stroke-width="0.28">0.0</text>
<text x="268.0" y="386.0" text-anchor="middle" fill="#fff" stroke="#fff" stroke-width="1.0" stroke-linejoin="round">0.0</text>
<text x="268.0" y="386.0" text-anchor="middle" fill="#000" stroke="#000" stroke-width="0.28">0.0</text>
<text x="300.0" y="391.0" text-anchor="middle" fill="#fff" stroke="#fff" stroke-width="1.0" stroke-linejoin="round">0.2</text>
<text x="300.0" y="391.0" text-anchor="middle" fill="#000" stroke="#000" stroke-width="0.28">0.2</text>
<text x="381.0" y="391.6" text-anchor="middle" fill="#fff" stroke="#fff" stroke-width="1.0" stroke-linejoin="round">0.02</text>
<text x="381.0" y="391.6" text-anchor="middle" fill="#000" stroke="#000" stroke-width="0.28">0.02</text>
<text x="389.3" y="401.0" text-anchor="middle" fill="#fff" stroke="#fff" stroke-width="1.0" stroke-linejoin="round">0.01</text>
<text x="389.3" y="401.0" text-anchor="middle" fill="#000" stroke="#000" stroke-width="0.28">0.01</text>
<text x="397.6" y="410.4" text-anchor="middle" fill="#fff" stroke="#fff" stroke-width="1.0" stroke-linejoin="round">0.66</text>
<text x="397.6" y="410.4" text-anchor="middle" fill="#000" stroke="#000" stroke-width="0.28">0.66</text>
<text x="405.9" y="419.8" text-anchor="middle" fill="#fff" stroke="#fff" stroke-width="1.0" stroke-linejoin="round">0.02</text>
<text x="405.9" y="419.8" text-anchor="middle" fill="#000" stroke="#000" stroke-width="0.28">0.02</text>
<text x="414.2" y="429.2" text-anchor="middle" fill="#fff" stroke="#fff" stroke-width="1.0" stroke-linejoin="round">0.70</text>
<text x="414.2" y="429.2" text-anchor="middle" fill="#000" stroke="#000" stroke-width="0.28">0.70</text>
<text x="422.5" y="438.6" text-anchor="middle" fill="#fff" stroke="#fff" stroke-width="1.0" stroke-linejoin="round">0.94</text>
<text x="422.5" y="438.6" text-anchor="middle" fill="#000" stroke="#000" stroke-width="0.28">0.94</text>
<text x="430.8" y="447.9" text-anchor="middle" fill="#fff" stroke="#fff" stroke-width="1.0" stroke-linejoin="round">0.67</text>
<text x="430.8" y="447.9" text-anchor="middle" fill="#000" stroke="#000" stroke-width="0.28">0.67</text>
<text x="439.1" y="457.3" text-anchor="middle" fill="#fff" stroke="#fff" stroke-width="1.0" stroke-linejoin="round">0.0</text>
<text x="439.1" y="457.3" text-anchor="middle" fill="#000" stroke="#000" stroke-width="0.28">0.0</text>
<text x="447.4" y="466.7" text-anchor="middle" fill="#fff" stroke="#fff" stroke-width="1.0" stroke-linejoin="round">0.70</text>
<text x="447.4" y="466.7" text-anchor="middle" fill="#000" stroke="#000" stroke-width="0.28">0.70</text>
<text x="455.8" y="476.1" text-anchor="middle" fill="#fff" stroke="#fff" stroke-width="1.0" stroke-linejoin="round">0.68</text>
<text x="455.8" y="476.1" text-anchor="middle" fill="#000" stroke="#000" stroke-width="0.28">0.68</text>
<text x="464.1" y="485.5" text-anchor="middle" fill="#fff" stroke="#fff" stroke-width="1.0" stroke-linejoin="round">0.30</text>
<text x="464.1" y="485.5" text-anchor="middle" fill="#000" stroke="#000" stroke-width="0.28">0.30</text>
<text x="472.4" y="494.9" text-anchor="middle" fill="#fff" stroke="#fff" stroke-width="1.0" stroke-linejoin="round">0.0</text>
<text x="472.4" y="494.9" text-anchor="middle" fill="#000" stroke="#000" stroke-width="0.28">0.0</text>
<text x="480.7" y="504.2" text-anchor="middle" fill="#fff" stroke="#fff" stroke-width="1.0" stroke-linejoin="round">0.3</text>
<text x="480.7" y="504.2" text-anchor="middle" fill="#000" stroke="#000" stroke-width="0.28">0.3</text>
<text x="300.0" y="402.0" text-anchor="middle" font-size="8.5" fill="#fff" stroke="#fff" stroke-width="1.0" stroke-linejoin="round">0.3</text>
<text x="300.0" y="402.0" text-anchor="middle" font-size="8.5" fill="#000" stroke="#000" stroke-width="0.28">0.3</text>
<text x="306.0" y="396.0" text-anchor="middle" font-size="8" fill="#fff" stroke="#fff" stroke-width="1.0" stroke-linejoin="round">3</text>
<text x="306.0" y="396.0" text-anchor="middle" font-size="8" fill="#000" stroke="#000" stroke-width="0.28">3</text>
<text x="308.6" y="406.9" text-anchor="middle" font-size="8.5" fill="#fff" stroke="#fff" stroke-width="1.0" stroke-linejoin="round">0.3</text>
<text x="308.6" y="406.9" text-anchor="middle" font-size="8.5" fill="#000" stroke="#000" stroke-width="0.28">0.3</text>
<text x="314.6" y="400.9" text-anchor="middle" font-size="8" fill="#fff" stroke="#fff" stroke-width="1.0" stroke-linejoin="round">3</text>
<text x="314.6" y="400.9" text-anchor="middle" font-size="8" fill="#000" stroke="#000" stroke-width="0.28">3</text>
<text x="317.2" y="411.8" text-anchor="middle" font-size="8.5" fill="#fff" stroke="#fff" stroke-width="1.0" stroke-linejoin="round">0.3</text>
<text x="317.2" y="411.8" text-anchor="middle" font-size="8.5" fill="#000" stroke="#000" stroke-width="0.28">0.3</text>
<text x="323.2" y="405.8" text-anchor="middle" font-size="8" fill="#fff" stroke="#fff" stroke-width="1.0" stroke-linejoin="round">3</text>
<text x="323.2" y="405.8" text-anchor="middle" font-size="8" fill="#000" stroke="#000" stroke-width="0.28">3</text>
<text x="325.8" y="416.7" text-anchor="middle" font-size="8.5" fill="#fff" stroke="#fff" stroke-width="1.0" stroke-linejoin="round">0.3</text>
<text x="325.8" y="416.7" text-anchor="middle" font-size="8.5" fill="#000" stroke="#000" stroke-width="0.28">0.3</text>
<text x="331.8" y="410.7" text-anchor="middle" font-size="8" fill="#fff" stroke="#fff" stroke-width="1.0" stroke-linejoin="round">3</text>
<text x="331.8" y="410.7" text-anchor="middle" font-size="8" fill="#000" stroke="#000" stroke-width="0.28">3</text>
<text x="334.4" y="421.6" text-anchor="middle" font-size="8.5" fill="#fff" stroke="#fff" stroke-width="1.0" stroke-linejoin="round">0.3</text>
<text x="334.4" y="421.6" text-anchor="middle" font-size="8.5" fill="#000" stroke="#000" stroke-width="0.28">0.3</text>
<text x="340.4" y="415.6" text-anchor="middle" font-size="8" fill="#fff" stroke="#fff" stroke-width="1.0" stroke-linejoin="round">3</text>
<text x="340.4" y="415.6" text-anchor="middle" font-size="8" fill="#000" stroke="#000" stroke-width="0.28">3</text>
<text x="343.0" y="426.5" text-anchor="middle" font-size="8.5" fill="#fff" stroke="#fff" stroke-width="1.0" stroke-linejoin="round">0.3</text>
<text x="343.0" y="426.5" text-anchor="middle" font-size="8.5" fill="#000" stroke="#000" stroke-width="0.28">0.3</text>
<text x="349.0" y="420.5" text-anchor="middle" font-size="8" fill="#fff" stroke="#fff" stroke-width="1.0" stroke-linejoin="round">3</text>
<text x="349.0" y="420.5" text-anchor="middle" font-size="8" fill="#000" stroke="#000" stroke-width="0.28">3</text>
<text x="351.6" y="431.4" text-anchor="middle" font-size="8.5" fill="#fff" stroke="#fff" stroke-width="1.0" stroke-linejoin="round">0.3</text>
<text x="351.6" y="431.4" text-anchor="middle" font-size="8.5" fill="#000" stroke="#000" stroke-width="0.28">0.3</text>
<text x="357.6" y="425.4" text-anchor="middle" font-size="8" fill="#fff" stroke="#fff" stroke-width="1.0" stroke-linejoin="round">3</text>
<text x="357.6" y="425.4" text-anchor="middle" font-size="8" fill="#000" stroke="#000" stroke-width="0.28">3</text>
<text x="360.2" y="436.3" text-anchor="middle" font-size="8.5" fill="#fff" stroke="#fff" stroke-width="1.0" stroke-linejoin="round">0.3</text>
<text x="360.2" y="436.3" text-anchor="middle" font-size="8.5" fill="#000" stroke="#000" stroke-width="0.28">0.3</text>
<text x="366.2" y="430.3" text-anchor="middle" font-size="8" fill="#fff" stroke="#fff" stroke-width="1.0" stroke-linejoin="round">3</text>
<text x="366.2" y="430.3" text-anchor="middle" font-size="8" fill="#000" stroke="#000" stroke-width="0.28">3</text>
<text x="368.8" y="441.2" text-anchor="middle" font-size="8.5" fill="#fff" stroke="#fff" stroke-width="1.0" stroke-linejoin="round">0.3</text>
<text x="368.8" y="441.2" text-anchor="middle" font-size="8.5" fill="#000" stroke="#000" stroke-width="0.28">0.3</text>
<text x="374.8" y="435.2" text-anchor="middle" font-size="8" fill="#fff" stroke="#fff" stroke-width="1.0" stroke-linejoin="round">3</text>
<text x="374.8" y="435.2" text-anchor="middle" font-size="8" fill="#000" stroke="#000" stroke-width="0.28">3</text>
<text x="377.4" y="446.1" text-anchor="middle" font-size="8.5" fill="#fff" stroke="#fff" stroke-width="1.0" stroke-linejoin="round">0.3</text>
<text x="377.4" y="446.1" text-anchor="middle" font-size="8.5" fill="#000" stroke="#000" stroke-width="0.28">0.3</text>
<text x="383.4" y="440.1" text-anchor="middle" font-size="8" fill="#fff" stroke="#fff" stroke-width="1.0" stroke-linejoin="round">3</text>
<text x="383.4" y="440.1" text-anchor="middle" font-size="8" fill="#000" stroke="#000" stroke-width="0.28">3</text>
<text x="386.0" y="451.0" text-anchor="middle" font-size="8.5" fill="#fff" stroke="#fff" stroke-width="1.0" stroke-linejoin="round">0.3</text>
<text x="386.0" y="451.0" text-anchor="middle" font-size="8.5" fill="#000" stroke="#000" stroke-width="0.28">0.3</text>
<text x="392.0" y="445.0" text-anchor="middle" font-size="8" fill="#fff" stroke="#fff" stroke-width="1.0" stroke-linejoin="round">3</text>
<text x="392.0" y="445.0" text-anchor="middle" font-size="8" fill="#000" stroke="#000" stroke-width="0.28">3</text>
<text x="394.6" y="455.9" text-anchor="middle" font-size="8.5" fill="#fff" stroke="#fff" stroke-width="1.0" stroke-linejoin="round">0.3</text>
<text x="394.6" y="455.9" text-anchor="middle" font-size="8.5" fill="#000" stroke="#000" stroke-width="0.28">0.3</text>
<text x="400.6" y="449.9" text-anchor="middle" font-size="8" fill="#fff" stroke="#fff" stroke-width="1.0" stroke-linejoin="round">3</text>
<text x="400.6" y="449.9" text-anchor="middle" font-size="8" fill="#000" stroke="#000" stroke-width="0.28">3</text>
<text x="403.2" y="460.8" text-anchor="middle" font-size="8.5" fill="#fff" stroke="#fff" stroke-width="1.0" stroke-linejoin="round">0.3</text>
<text x="403.2" y="460.8" text-anchor="middle" font-size="8.5" fill="#000" stroke="#000" stroke-width="0.28">0.3</text>
<text x="409.2" y="454.8" text-anchor="middle" font-size="8" fill="#fff" stroke="#fff" stroke-width="1.0" stroke-linejoin="round">3</text>
<text x="409.2" y="454.8" text-anchor="middle" font-size="8" fill="#000" stroke="#000" stroke-width="0.28">3</text>
<text x="411.8" y="465.7" text-anchor="middle" font-size="8.5" fill="#fff" stroke="#fff" stroke-width="1.0" stroke-linejoin="round">0.3</text>
<text x="411.8" y="465.7" text-anchor="middle" font-size="8.5" fill="#000" stroke="#000" stroke-width="0.28">0.3</text>
<text x="417.8" y="459.7" text-anchor="middle" font-size="8" fill="#fff" stroke="#fff" stroke-width="1.0" stroke-linejoin="round">3</text>
<text x="417.8" y="459.7" text-anchor="middle" font-size="8" fill="#000" stroke="#000" stroke-width="0.28">3</text>
<text x="420.4" y="470.6" text-anchor="middle" font-size="8.5" fill="#fff" stroke="#fff" stroke-width="1.0" stroke-linejoin="round">0.3</text>
<text x="420.4" y="470.6" text-anchor="middle" font-size="8.5" fill="#000" stroke="#000" stroke-width="0.28">0.3</text>
<text x="426.4" y="464.6" text-anchor="middle" font-size="8" fill="#fff" stroke="#fff" stroke-width="1.0" stroke-linejoin="round">3</text>
<text x="426.4" y="464.6" text-anchor="middle" font-size="8" fill="#000" stroke="#000" stroke-width="0.28">3</text>
<text x="429.0" y="475.5" text-anchor="middle" font-size="8.5" fill="#fff" stroke="#fff" stroke-width="1.0" stroke-linejoin="round">0.3</text>
<text x="429.0" y="475.5" text-anchor="middle" font-size="8.5" fill="#000" stroke="#000" stroke-width="0.28">0.3</text>
<text x="435.0" y="469.5" text-anchor="middle" font-size="8" fill="#fff" stroke="#fff" stroke-width="1.0" stroke-linejoin="round">3</text>
<text x="435.0" y="469.5" text-anchor="middle" font-size="8" fill="#000" stroke="#000" stroke-width="0.28">3</text>
<text x="437.6" y="480.4" text-anchor="middle" font-size="8.5" fill="#fff" stroke="#fff" stroke-width="1.0" stroke-linejoin="round">0.3</text>
<text x="437.6" y="480.4" text-anchor="middle" font-size="8.5" fill="#000" stroke="#000" stroke-width="0.28">0.3</text>
<text x="443.6" y="474.4" text-anchor="middle" font-size="8" fill="#fff" stroke="#fff" stroke-width="1.0" stroke-linejoin="round">3</text>
<text x="443.6" y="474.4" text-anchor="middle" font-size="8" fill="#000" stroke="#000" stroke-width="0.28">3</text>
<text x="446.2" y="485.3" text-anchor="middle" font-size="8.5" fill="#fff" stroke="#fff" stroke-width="1.0" stroke-linejoin="round">0.3</text>
<text x="446.2" y="485.3" text-anchor="middle" font-size="8.5" fill="#000" stroke="#000" stroke-width="0.28">0.3</text>
<text x="452.2" y="479.3" text-anchor="middle" font-size="8" fill="#fff" stroke="#fff" stroke-width="1.0" stroke-linejoin="round">3</text>
<text x="452.2" y="479.3" text-anchor="middle" font-size="8" fill="#000" stroke="#000" stroke-width="0.28">3</text>
<text x="454.8" y="490.2" text-anchor="middle" font-size="8.5" fill="#fff" stroke="#fff" stroke-width="1.0" stroke-linejoin="round">0.3</text>
<text x="454.8" y="490.2" text-anchor="middle" font-size="8.5" fill="#000" stroke="#000" stroke-width="0.28">0.3</text>
<text x="460.8" y="484.2" text-anchor="middle" font-size="8" fill="#fff" stroke="#fff" stroke-width="1.0" stroke-linejoin="round">3</text>
<text x="460.8" y="484.2" text-anchor="middle" font-size="8" fill="#000" stroke="#000" stroke-width="0.28">3</text>
<text x="463.4" y="495.1" text-anchor="middle" font-size="8.5" fill="#fff" stroke="#fff" stroke-width="1.0" stroke-linejoin="round">0.3</text>
<text x="463.4" y="495.1" text-anchor="middle" font-size="8.5" fill="#000" stroke="#000" stroke-width="0.28">0.3</text>
<text x="469.4" y="489.1" text-anchor="middle" font-size="8" fill="#fff" stroke="#fff" stroke-width="1.0" stroke-linejoin="round">3</text>
<text x="469.4" y="489.1" text-anchor="middle" font-size="8" fill="#000" stroke="#000" stroke-width="0.28">3</text>
<path d="M290.0 392.8 V401.8" stroke="#33dd33" stroke-width="1.1" fill="none"/>
<path d="M290.0 403.6 l-1.7 -4.2 h3.4 z" fill="#22cc22"/>
<path d="M309.6 403.9 V412.9" stroke="#33dd33" stroke-width="1.1" fill="none"/>
<path d="M309.6 414.7 l-1.7 -4.2 h3.4 z" fill="#22cc22"/>
<path d="M329.1 415.0 V424.0" stroke="#33dd33" stroke-width="1.1" fill="none"/>
<path d="M329.1 425.8 l-1.7 -4.2 h3.4 z" fill="#22cc22"/>
<path d="M348.6 426.1 V435.1" stroke="#33dd33" stroke-width="1.1" fill="none"/>
<path d="M348.6 436.9 l-1.7 -4.2 h3.4 z" fill="#22cc22"/>
<path d="M368.2 437.2 V446.2" stroke="#33dd33" stroke-width="1.1" fill="none"/>
<path d="M368.2 448.0 l-1.7 -4.2 h3.4 z" fill="#22cc22"/>
<path d="M387.8 448.2 V457.2" stroke="#33dd33" stroke-width="1.1" fill="none"/>
<path d="M387.8 459.0 l-1.7 -4.2 h3.4 z" fill="#22cc22"/>
<path d="M407.3 459.3 V468.3" stroke="#33dd33" stroke-width="1.1" fill="none"/>
<path d="M407.3 470.1 l-1.7 -4.2 h3.4 z" fill="#22cc22"/>
<path d="M426.9 470.4 V479.4" stroke="#33dd33" stroke-width="1.1" fill="none"/>
<path d="M426.9 481.2 l-1.7 -4.2 h3.4 z" fill="#22cc22"/>
<path d="M446.4 481.5 V490.5" stroke="#33dd33" stroke-width="1.1" fill="none"/>
<path d="M446.4 492.3 l-1.7 -4.2 h3.4 z" fill="#22cc22"/>
<path d="M466.0 492.6 V501.6" stroke="#33dd33" stroke-width="1.1" fill="none"/>
<path d="M466.0 503.4 l-1.7 -4.2 h3.4 z" fill="#22cc22"/>
<text x="289.5" y="399.5" text-anchor="middle" fill="#fff" stroke="#fff" stroke-width="1.0" stroke-linejoin="round">0.30</text>
<text x="289.5" y="399.5" text-anchor="middle" fill="#000" stroke="#000" stroke-width="0.28">0.30</text>
<text x="308.5" y="412.5" text-anchor="middle" fill="#fff" stroke="#fff" stroke-width="1.0" stroke-linejoin="round">0.70</text>
<text x="308.5" y="412.5" text-anchor="middle" fill="#000" stroke="#000" stroke-width="0.28">0.70</text>
<text x="327.5" y="424.5" text-anchor="middle" fill="#fff" stroke="#fff" stroke-width="1.0" stroke-linejoin="round">0.89</text>
<text x="327.5" y="424.5" text-anchor="middle" fill="#000" stroke="#000" stroke-width="0.28">0.89</text>
<text x="346.5" y="437.5" text-anchor="middle" fill="#fff" stroke="#fff" stroke-width="1.0" stroke-linejoin="round">1.10</text>
<text x="346.5" y="437.5" text-anchor="middle" fill="#000" stroke="#000" stroke-width="0.28">1.10</text>
<text x="364.5" y="449.5" text-anchor="middle" fill="#fff" stroke="#fff" stroke-width="1.0" stroke-linejoin="round">1.17</text>
<text x="364.5" y="449.5" text-anchor="middle" fill="#000" stroke="#000" stroke-width="0.28">1.17</text>
<text x="383.5" y="461.0" text-anchor="middle" fill="#fff" stroke="#fff" stroke-width="1.0" stroke-linejoin="round">1.17</text>
<text x="383.5" y="461.0" text-anchor="middle" fill="#000" stroke="#000" stroke-width="0.28">1.17</text>
<text x="404.5" y="471.5" text-anchor="middle" fill="#fff" stroke="#fff" stroke-width="1.0" stroke-linejoin="round">1.19</text>
<text x="404.5" y="471.5" text-anchor="middle" fill="#000" stroke="#000" stroke-width="0.28">1.19</text>
<text x="422.0" y="481.3" text-anchor="middle" fill="#fff" stroke="#fff" stroke-width="1.0" stroke-linejoin="round">0.80</text>
<text x="422.0" y="481.3" text-anchor="middle" fill="#000" stroke="#000" stroke-width="0.28">0.80</text>
<text x="441.5" y="491.0" text-anchor="middle" fill="#fff" stroke="#fff" stroke-width="1.0" stroke-linejoin="round">0.70</text>
<text x="441.5" y="491.0" text-anchor="middle" fill="#000" stroke="#000" stroke-width="0.28">0.70</text>
<text x="457.5" y="500.8" text-anchor="middle" fill="#fff" stroke="#fff" stroke-width="1.0" stroke-linejoin="round">0.0</text>
<text x="457.5" y="500.8" text-anchor="middle" fill="#000" stroke="#000" stroke-width="0.28">0.0</text>
<text x="478.0" y="505.0" text-anchor="middle" fill="#fff" stroke="#fff" stroke-width="1.0" stroke-linejoin="round">8.4</text>
<text x="478.0" y="505.0" text-anchor="middle" fill="#000" stroke="#000" stroke-width="0.28">8.4</text>
<text x="492.0" y="505.0" text-anchor="middle" fill="#fff" stroke="#fff" stroke-width="1.0" stroke-linejoin="round">0.4</text>
<text x="492.0" y="505.0" text-anchor="middle" fill="#000" stroke="#000" stroke-width="0.28">0.4</text>
</svg>
<div class="leg">
<div class="t" style="left:4px">Membrane Stress (force/width)</div>
<div class="t" style="left:144px">Cable Force (force)</div>
<div class="sw" style="left:3.5px;top:19.0px;background:linear-gradient(90deg,#ff8000,#ff0000)"></div>
<div class="r" style="left:68.5px;top:18.5px">3.86 - 4.63</div>
<div class="sw" style="left:143.8px;top:19.0px;background:linear-gradient(90deg,#ff8000,#ff0000)"></div>
<div class="r" style="left:208.5px;top:18.5px">7.65 - 9.18</div>
<div class="sw" style="left:3.5px;top:34.8px;background:linear-gradient(90deg,#ffff00,#ff8000)"></div>
<div class="r" style="left:68.5px;top:34.3px">3.09 - 3.86</div>
<div class="sw" style="left:143.8px;top:34.8px;background:linear-gradient(90deg,#ffff00,#ff8000)"></div>
<div class="r" style="left:208.5px;top:34.3px">6.12 - 7.65</div>
<div class="sw" style="left:3.5px;top:50.6px;background:linear-gradient(90deg,#80ff00,#ffff00)"></div>
<div class="r" style="left:68.5px;top:50.1px">2.32 - 3.09</div>
<div class="sw" style="left:143.8px;top:50.6px;background:linear-gradient(90deg,#80ff00,#ffff00)"></div>
<div class="r" style="left:208.5px;top:50.1px">4.59 - 6.12</div>
<div class="sw" style="left:3.5px;top:66.5px;background:linear-gradient(90deg,#00ff00,#80ff00)"></div>
<div class="r" style="left:68.5px;top:66.0px">1.54 - 2.32</div>
<div class="sw" style="left:143.8px;top:66.5px;background:linear-gradient(90deg,#00ff00,#80ff00)"></div>
<div class="r" style="left:208.5px;top:66.0px">3.06 - 4.59</div>
<div class="sw" style="left:3.5px;top:82.3px;background:linear-gradient(90deg,#008080,#00ff00)"></div>
<div class="r" style="left:68.5px;top:81.8px">0.77 - 1.54</div>
<div class="sw" style="left:143.8px;top:82.3px;background:linear-gradient(90deg,#008080,#00ff00)"></div>
<div class="r" style="left:208.5px;top:81.8px">1.53 - 3.06</div>
<div class="sw" style="left:3.5px;top:98.1px;background:linear-gradient(90deg,#0000ff,#008080)"></div>
<div class="r" style="left:68.5px;top:97.6px">0.00 - 0.77</div>
<div class="sw" style="left:143.8px;top:98.1px;background:linear-gradient(90deg,#0000ff,#008080)"></div>
<div class="r" style="left:208.5px;top:97.6px">0.00 - 1.53</div>
</div>
</body></html>
